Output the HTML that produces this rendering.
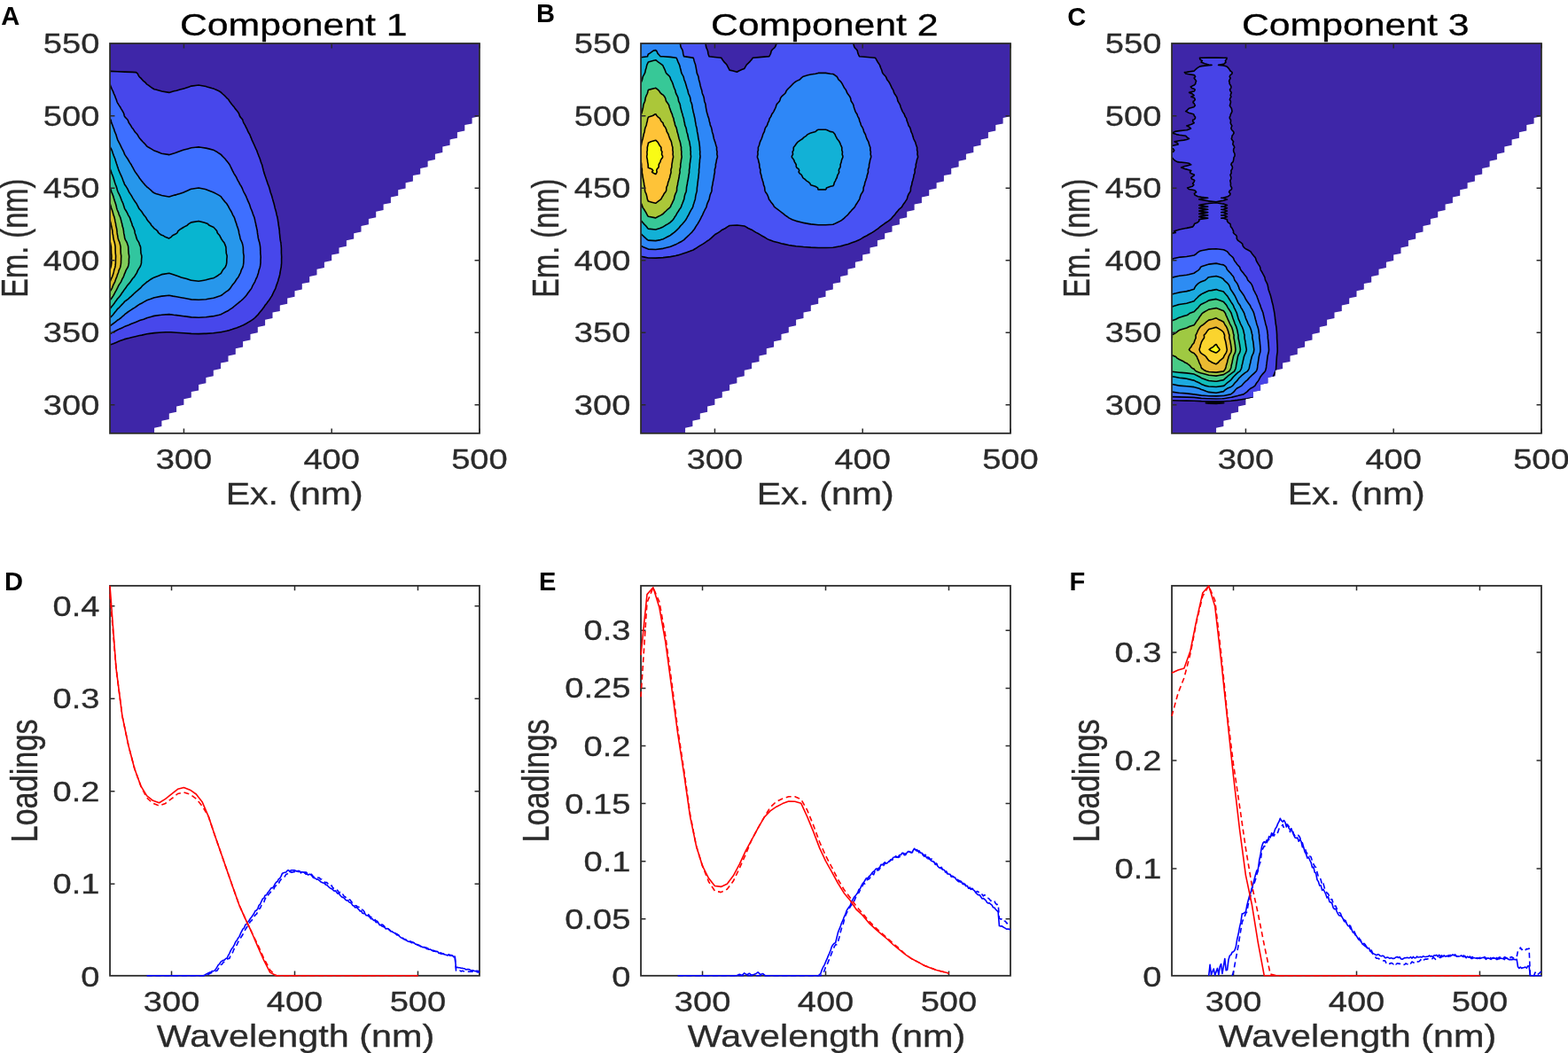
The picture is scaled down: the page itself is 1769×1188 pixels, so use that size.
<!DOCTYPE html>
<html lang="en"><head><meta charset="utf-8"><title>PARAFAC components</title>
<style>html,body{margin:0;padding:0;background:#fff;overflow:hidden}svg{display:block}text{font-family:"Liberation Sans", "DejaVu Sans", sans-serif}</style></head><body>
<svg width="1769" height="1188" viewBox="0 0 1769 1188">
<rect width="1769" height="1188" fill="#fff"/>
<clipPath id="cp0"><path d="M124.0 49.0 L540.9 49.0 L540.9 131.3 L532.6 133.0 L532.6 139.4 L524.3 141.1 L524.3 147.6 L515.9 149.3 L515.9 155.7 L507.6 157.4 L507.6 163.8 L499.3 165.5 L499.3 172.0 L490.9 173.7 L490.9 180.1 L482.6 181.8 L482.6 188.2 L474.2 189.9 L474.2 196.4 L465.9 198.1 L465.9 204.5 L457.6 206.2 L457.6 212.6 L449.2 214.3 L449.2 220.8 L440.9 222.5 L440.9 228.9 L432.6 230.6 L432.6 237.1 L424.2 238.8 L424.2 245.2 L415.9 246.9 L415.9 253.3 L407.5 255.0 L407.5 261.5 L399.2 263.2 L399.2 269.6 L390.9 271.3 L390.9 277.7 L382.5 279.4 L382.5 285.9 L374.2 287.6 L374.2 294.0 L365.9 295.7 L365.9 302.1 L357.5 303.8 L357.5 310.3 L349.2 312.0 L349.2 318.4 L340.8 320.1 L340.8 326.5 L332.5 328.2 L332.5 334.7 L324.2 336.4 L324.2 342.8 L315.8 344.5 L315.8 350.9 L307.5 352.6 L307.5 359.1 L299.1 360.8 L299.1 367.2 L290.8 368.9 L290.8 375.3 L282.5 377.0 L282.5 383.5 L274.1 385.2 L274.1 391.6 L265.8 393.3 L265.8 399.8 L257.5 401.5 L257.5 407.9 L249.1 409.6 L249.1 416.0 L240.8 417.7 L240.8 424.2 L232.4 425.9 L232.4 432.3 L224.1 434.0 L224.1 440.4 L215.8 442.1 L215.8 448.6 L207.4 450.3 L207.4 456.7 L199.1 458.4 L199.1 464.8 L190.8 466.5 L190.8 473.0 L182.4 474.7 L182.4 481.1 L174.1 482.8 L174.1 488.9 L124.0 488.9Z"/></clipPath>
<g clip-path="url(#cp0)">
<rect x="124.0" y="49.0" width="416.9" height="439.9" fill="#3E26A8"/>
<path d="M124.0 387.8L124.1 389.0L127.8 387.8L131.5 386.2L132.4 385.7L135.3 384.6L139.8 383.0L140.7 382.6L146.1 381.3L149.1 380.5L152.5 379.7L157.4 378.5L159.9 378.1L165.7 376.8L168.7 376.4L174.1 375.6L182.4 375.0L187.1 374.8L190.8 374.7L192.8 374.8L199.1 375.2L207.4 375.8L215.6 376.4L215.8 376.5L224.1 376.6L230.3 376.4L232.4 376.4L240.8 375.8L248.7 374.8L249.1 374.8L256.2 373.2L257.5 372.9L261.9 371.6L265.8 370.2L266.7 369.9L271.1 368.3L274.1 366.9L274.6 366.7L277.8 365.0L280.5 363.4L282.5 362.2L283.1 361.8L285.6 360.2L287.6 358.5L289.2 356.9L290.8 355.3L290.9 355.3L292.2 353.6L293.4 352.0L294.8 350.4L296.1 348.7L297.4 347.1L298.4 345.5L299.1 344.3L299.5 343.9L300.9 342.2L302.1 340.6L303.3 339.0L304.5 337.3L305.5 335.7L306.5 334.1L307.4 332.5L307.5 332.2L308.1 330.8L308.9 329.2L309.7 327.6L310.6 325.9L311.2 324.3L311.6 322.7L312.2 321.1L312.8 319.4L313.4 317.8L313.9 316.2L314.3 314.5L314.9 312.9L315.3 311.3L315.7 309.7L315.8 309.0L316.0 308.0L316.2 306.4L316.5 304.8L316.8 303.1L317.2 301.5L317.3 299.9L317.5 298.2L317.6 296.6L317.6 295.0L317.6 293.4L317.6 291.7L317.7 290.1L317.6 288.5L317.5 286.8L317.4 285.2L317.4 283.6L317.4 282.0L317.4 280.3L317.3 278.7L317.2 277.1L317.0 275.4L316.9 273.8L316.5 272.2L316.2 270.6L316.0 268.9L315.8 267.3L315.8 267.1L315.7 265.7L315.5 264.0L315.3 262.4L315.3 260.8L315.1 259.2L314.8 257.5L314.6 255.9L314.3 254.3L314.1 252.6L313.9 251.0L313.6 249.4L313.4 247.7L313.1 246.1L312.8 244.5L312.3 242.9L311.9 241.2L311.6 239.6L311.2 238.0L310.7 236.3L310.2 234.7L309.9 233.1L309.5 231.5L309.1 229.8L308.6 228.2L308.1 226.6L307.7 224.9L307.5 224.3L307.2 223.3L306.8 221.7L306.3 220.1L305.7 218.4L305.1 216.8L304.7 215.2L304.3 213.5L303.8 211.9L303.3 210.3L302.6 208.6L302.0 207.0L301.5 205.4L300.9 203.8L300.3 202.1L299.8 200.5L299.3 198.9L299.1 198.6L298.7 197.2L298.1 195.6L297.7 194.0L297.2 192.4L296.8 190.7L296.4 189.1L296.0 187.5L295.6 185.8L294.9 184.2L294.3 182.6L293.8 181.0L293.3 179.3L292.7 177.7L292.0 176.1L291.4 174.4L290.8 173.0L290.7 172.8L290.2 171.2L289.6 169.6L288.7 167.9L288.0 166.3L287.3 164.7L286.6 163.0L285.8 161.4L285.1 159.8L284.3 158.1L283.7 156.5L283.0 154.9L282.5 153.5L282.4 153.3L281.7 151.6L280.7 150.0L279.8 148.4L279.1 146.7L278.4 145.1L277.5 143.5L276.8 141.9L275.8 140.2L274.9 138.6L274.3 137.0L274.1 136.4L273.8 135.3L272.7 133.7L271.2 132.1L270.3 130.5L269.8 128.8L269.0 127.2L267.8 125.6L266.5 123.9L265.8 123.1L265.1 122.3L264.1 120.7L262.7 119.1L261.3 117.4L260.1 115.8L258.9 114.2L257.9 112.5L257.5 112.0L256.2 110.9L254.7 109.3L253.1 107.6L251.2 106.0L249.5 104.4L249.1 104.0L247.1 102.8L243.3 101.1L240.8 99.9L239.0 99.5L233.6 97.9L232.4 97.5L225.3 96.2L224.1 96.1L222.4 96.2L215.8 97.1L213.5 97.9L208.8 99.5L207.4 99.9L203.1 101.1L199.1 102.2L196.3 102.8L190.8 104.4L182.4 103.0L181.8 102.8L175.6 101.1L174.1 100.7L172.0 99.5L169.7 97.9L167.4 96.2L165.7 95.1L165.3 94.6L163.9 93.0L161.8 91.4L160.3 89.7L158.9 88.1L157.4 86.8L157.1 86.5L156.1 84.8L155.3 83.2L153.5 81.6L149.1 81.4L140.7 81.1L132.4 80.8L124.0 80.4L124.0 81.6L124.0 83.2L124.0 84.8L124.0 86.5L124.0 88.1L124.0 89.7L124.0 91.4L124.0 93.0L124.0 94.6L124.0 96.2L124.0 97.9L124.0 99.5L124.0 101.1L124.0 102.8L124.0 104.4L124.0 106.0L124.0 107.6L124.0 109.3L124.0 110.9L124.0 112.5L124.0 114.2L124.0 115.8L124.0 117.4L124.0 119.1L124.0 120.7L124.0 122.3L124.0 123.9L124.0 125.6L124.0 127.2L124.0 128.8L124.0 130.5L124.0 132.1L124.0 133.7L124.0 135.3L124.0 137.0L124.0 138.6L124.0 140.2L124.0 141.9L124.0 143.5L124.0 145.1L124.0 146.7L124.0 148.4L124.0 150.0L124.0 151.6L124.0 153.3L124.0 154.9L124.0 156.5L124.0 158.1L124.0 159.8L124.0 161.4L124.0 163.0L124.0 164.7L124.0 166.3L124.0 167.9L124.0 169.6L124.0 171.2L124.0 172.8L124.0 174.4L124.0 176.1L124.0 177.7L124.0 179.3L124.0 181.0L124.0 182.6L124.0 184.2L124.0 185.8L124.0 187.5L124.0 189.1L124.0 190.7L124.0 192.4L124.0 194.0L124.0 195.6L124.0 197.2L124.0 198.9L124.0 200.5L124.0 202.1L124.0 203.8L124.0 205.4L124.0 207.0L124.0 208.6L124.0 210.3L124.0 211.9L124.0 213.5L124.0 215.2L124.0 216.8L124.0 218.4L124.0 220.1L124.0 221.7L124.0 223.3L124.0 224.9L124.0 226.6L124.0 228.2L124.0 229.8L124.0 231.5L124.0 233.1L124.0 234.7L124.0 236.3L124.0 238.0L124.0 239.6L124.0 241.2L124.0 242.9L124.0 244.5L124.0 246.1L124.0 247.7L124.0 249.4L124.0 251.0L124.0 252.6L124.0 254.3L124.0 255.9L124.0 257.5L124.0 259.2L124.0 260.8L124.0 262.4L124.0 264.0L124.0 265.7L124.0 267.3L124.0 268.9L124.0 270.6L124.0 272.2L124.0 273.8L124.0 275.4L124.0 277.1L124.0 278.7L124.0 280.3L124.0 282.0L124.0 283.6L124.0 285.2L124.0 286.8L124.0 288.5L124.0 290.1L124.0 291.7L124.0 293.4L124.0 295.0L124.0 296.6L124.0 298.2L124.0 299.9L124.0 301.5L124.0 303.1L124.0 304.8L124.0 306.4L124.0 308.0L124.0 309.7L124.0 311.3L124.0 312.9L124.0 314.5L124.0 316.2L124.0 317.8L124.0 319.4L124.0 321.1L124.0 322.7L124.0 324.3L124.0 325.9L124.0 327.6L124.0 329.2L124.0 330.8L124.0 332.5L124.0 334.1L124.0 335.7L124.0 337.3L124.0 339.0L124.0 340.6L124.0 342.2L124.0 343.9L124.0 345.5L124.0 347.1L124.0 348.7L124.0 350.4L124.0 352.0L124.0 353.6L124.0 355.3L124.0 356.9L124.0 358.5L124.0 360.2L124.0 361.8L124.0 363.4L124.0 365.0L124.0 366.7L124.0 368.3L124.0 369.9L124.0 371.6L124.0 373.2L124.0 374.8L124.0 376.4L124.0 378.1L124.0 379.7L124.0 381.3L124.0 383.0L124.0 384.6L124.0 386.2Z" fill="#4747EB"/>
<path d="M124.0 376.4L124.0 376.8L124.8 376.4L127.7 374.8L130.6 373.2L132.4 372.2L133.9 371.6L137.6 369.9L140.7 368.4L140.9 368.3L145.1 366.7L148.9 365.0L149.1 365.0L153.1 363.4L157.1 361.8L157.4 361.6L162.0 360.2L165.7 358.7L166.4 358.5L172.0 356.9L174.1 356.4L182.1 355.3L182.4 355.2L190.8 354.6L195.8 355.3L199.1 355.6L207.4 356.7L208.8 356.9L215.8 357.9L224.1 358.3L232.4 357.7L239.1 356.9L240.8 356.7L247.3 355.3L249.1 354.8L251.3 353.6L254.3 352.0L257.5 350.5L257.6 350.4L260.1 348.7L262.5 347.1L264.3 345.5L265.8 344.3L266.3 343.9L268.5 342.2L270.3 340.6L272.3 339.0L274.1 337.4L274.2 337.3L275.7 335.7L277.2 334.1L278.5 332.5L279.6 330.8L280.8 329.2L282.1 327.6L282.5 327.1L283.3 325.9L284.2 324.3L284.8 322.7L285.7 321.1L286.7 319.4L287.6 317.8L288.2 316.2L288.9 314.5L289.8 312.9L290.4 311.3L290.8 309.9L290.9 309.7L291.5 308.0L291.8 306.4L292.2 304.8L292.8 303.1L293.3 301.5L293.6 299.9L293.8 298.2L294.0 296.6L294.0 295.0L294.0 293.4L294.1 291.7L294.2 290.1L294.1 288.5L293.9 286.8L293.8 285.2L293.8 283.6L293.7 282.0L293.7 280.3L293.6 278.7L293.4 277.1L293.1 275.4L292.8 273.8L292.3 272.2L291.8 270.6L291.4 268.9L291.1 267.3L291.0 265.7L290.8 264.9L290.6 264.0L290.4 262.4L290.3 260.8L290.0 259.2L289.6 257.5L289.3 255.9L288.8 254.3L288.6 252.6L288.2 251.0L287.8 249.4L287.5 247.7L287.1 246.1L286.6 244.5L285.9 242.9L285.3 241.2L284.8 239.6L284.2 238.0L283.5 236.3L282.8 234.7L282.5 233.6L282.3 233.1L281.8 231.5L281.2 229.8L280.4 228.2L279.7 226.6L279.0 224.9L278.3 223.3L277.7 221.7L276.9 220.1L276.0 218.4L275.1 216.8L274.4 215.2L274.1 214.5L273.7 213.5L273.0 211.9L272.2 210.3L271.1 208.6L270.2 207.0L269.4 205.4L268.5 203.8L267.6 202.1L266.9 200.5L266.0 198.9L265.8 198.6L264.9 197.2L263.9 195.6L263.1 194.0L262.2 192.4L261.4 190.7L260.7 189.1L259.9 187.5L259.1 185.8L257.9 184.2L257.5 183.5L256.6 182.6L255.3 181.0L254.0 179.3L252.5 177.7L250.9 176.1L249.3 174.4L249.1 174.2L246.8 172.8L244.5 171.2L241.6 169.6L240.8 169.2L235.6 167.9L232.4 167.1L226.6 166.3L224.1 165.9L220.5 166.3L215.8 166.8L211.8 167.9L207.4 169.1L205.9 169.6L201.1 171.2L199.1 172.1L197.0 172.8L191.3 174.4L190.8 174.6L189.8 174.4L182.4 173.2L181.2 172.8L177.6 171.2L174.1 170.0L173.4 169.6L170.5 167.9L167.7 166.3L165.7 165.0L165.4 164.7L164.1 163.0L162.5 161.4L160.9 159.8L159.4 158.1L158.0 156.5L157.4 155.8L156.8 154.9L155.9 153.3L154.9 151.6L153.4 150.0L151.9 148.4L150.9 146.7L149.9 145.1L149.1 144.2L148.6 143.5L147.7 141.9L146.6 140.2L145.4 138.6L144.8 137.0L144.1 135.3L142.7 133.7L141.1 132.1L140.7 131.6L140.2 130.5L139.9 128.8L139.3 127.2L138.4 125.6L137.4 123.9L136.4 122.3L135.6 120.7L134.5 119.1L133.4 117.4L132.5 115.8L132.4 115.6L131.8 114.2L131.3 112.5L130.6 110.9L130.0 109.3L129.4 107.6L128.6 106.0L128.0 104.4L127.4 102.8L126.5 101.1L125.8 99.5L125.1 97.9L124.5 96.2L124.0 95.1L124.0 96.2L124.0 97.9L124.0 99.5L124.0 101.1L124.0 102.8L124.0 104.4L124.0 106.0L124.0 107.6L124.0 109.3L124.0 110.9L124.0 112.5L124.0 114.2L124.0 115.8L124.0 117.4L124.0 119.1L124.0 120.7L124.0 122.3L124.0 123.9L124.0 125.6L124.0 127.2L124.0 128.8L124.0 130.5L124.0 132.1L124.0 133.7L124.0 135.3L124.0 137.0L124.0 138.6L124.0 140.2L124.0 141.9L124.0 143.5L124.0 145.1L124.0 146.7L124.0 148.4L124.0 150.0L124.0 151.6L124.0 153.3L124.0 154.9L124.0 156.5L124.0 158.1L124.0 159.8L124.0 161.4L124.0 163.0L124.0 164.7L124.0 166.3L124.0 167.9L124.0 169.6L124.0 171.2L124.0 172.8L124.0 174.4L124.0 176.1L124.0 177.7L124.0 179.3L124.0 181.0L124.0 182.6L124.0 184.2L124.0 185.8L124.0 187.5L124.0 189.1L124.0 190.7L124.0 192.4L124.0 194.0L124.0 195.6L124.0 197.2L124.0 198.9L124.0 200.5L124.0 202.1L124.0 203.8L124.0 205.4L124.0 207.0L124.0 208.6L124.0 210.3L124.0 211.9L124.0 213.5L124.0 215.2L124.0 216.8L124.0 218.4L124.0 220.1L124.0 221.7L124.0 223.3L124.0 224.9L124.0 226.6L124.0 228.2L124.0 229.8L124.0 231.5L124.0 233.1L124.0 234.7L124.0 236.3L124.0 238.0L124.0 239.6L124.0 241.2L124.0 242.9L124.0 244.5L124.0 246.1L124.0 247.7L124.0 249.4L124.0 251.0L124.0 252.6L124.0 254.3L124.0 255.9L124.0 257.5L124.0 259.2L124.0 260.8L124.0 262.4L124.0 264.0L124.0 265.7L124.0 267.3L124.0 268.9L124.0 270.6L124.0 272.2L124.0 273.8L124.0 275.4L124.0 277.1L124.0 278.7L124.0 280.3L124.0 282.0L124.0 283.6L124.0 285.2L124.0 286.8L124.0 288.5L124.0 290.1L124.0 291.7L124.0 293.4L124.0 295.0L124.0 296.6L124.0 298.2L124.0 299.9L124.0 301.5L124.0 303.1L124.0 304.8L124.0 306.4L124.0 308.0L124.0 309.7L124.0 311.3L124.0 312.9L124.0 314.5L124.0 316.2L124.0 317.8L124.0 319.4L124.0 321.1L124.0 322.7L124.0 324.3L124.0 325.9L124.0 327.6L124.0 329.2L124.0 330.8L124.0 332.5L124.0 334.1L124.0 335.7L124.0 337.3L124.0 339.0L124.0 340.6L124.0 342.2L124.0 343.9L124.0 345.5L124.0 347.1L124.0 348.7L124.0 350.4L124.0 352.0L124.0 353.6L124.0 355.3L124.0 356.9L124.0 358.5L124.0 360.2L124.0 361.8L124.0 363.4L124.0 365.0L124.0 366.7L124.0 368.3L124.0 369.9L124.0 371.6L124.0 373.2L124.0 374.8Z" fill="#3E6FFF"/>
<path d="M124.0 366.7L124.0 367.7L125.6 366.7L127.9 365.0L130.0 363.4L131.9 361.8L132.4 361.3L134.4 360.2L136.6 358.5L138.3 356.9L140.2 355.3L140.7 354.7L142.2 353.6L144.3 352.0L146.7 350.4L149.1 348.8L149.1 348.7L151.9 347.1L154.2 345.5L156.5 343.9L157.4 343.3L159.6 342.2L162.4 340.6L165.3 339.0L165.7 338.8L170.1 337.3L174.1 335.8L174.4 335.7L182.4 334.1L182.7 334.1L190.8 333.3L195.2 334.1L199.1 334.7L204.3 335.7L207.4 336.3L212.6 337.3L215.8 337.9L224.1 338.3L232.4 337.7L234.7 337.3L240.8 336.3L242.6 335.7L247.6 334.1L249.1 333.5L250.8 332.5L252.8 330.8L255.1 329.2L257.4 327.6L257.5 327.6L259.2 325.9L260.4 324.3L261.4 322.7L262.6 321.1L264.0 319.4L265.3 317.8L265.8 317.0L266.2 316.2L267.3 314.5L268.6 312.9L269.5 311.3L270.3 309.7L271.2 308.0L271.7 306.4L272.2 304.8L273.0 303.1L273.9 301.5L274.1 300.5L274.3 299.9L274.6 298.2L274.8 296.6L274.9 295.0L274.9 293.4L275.0 291.7L275.1 290.1L275.1 288.5L274.8 286.8L274.5 285.2L274.5 283.6L274.4 282.0L274.4 280.3L274.3 278.7L274.1 277.7L274.0 277.1L273.6 275.4L273.1 273.8L272.4 272.2L271.6 270.6L271.0 268.9L270.7 267.3L270.4 265.7L269.9 264.0L269.5 262.4L269.4 260.8L268.9 259.2L268.4 257.5L267.8 255.9L267.2 254.3L266.8 252.6L266.2 251.0L265.8 249.9L265.6 249.4L265.1 247.7L264.6 246.1L263.9 244.5L262.8 242.9L262.1 241.2L261.4 239.6L260.5 238.0L259.5 236.3L258.5 234.7L257.8 233.1L257.5 232.5L256.8 231.5L255.8 229.8L254.3 228.2L252.9 226.6L251.6 224.9L250.3 223.3L249.2 221.7L249.1 221.6L246.7 220.1L243.5 218.4L240.8 217.0L240.2 216.8L236.2 215.2L232.4 213.7L231.7 213.5L224.1 212.0L215.8 213.2L214.9 213.5L211.2 215.2L207.7 216.8L207.4 216.9L202.9 218.4L199.1 219.6L197.1 220.1L191.6 221.7L190.8 222.0L189.2 221.7L182.4 220.5L181.1 220.1L175.8 218.4L174.1 217.8L172.5 216.8L170.8 215.2L169.0 213.5L167.1 211.9L165.7 210.9L165.2 210.3L163.5 208.6L162.2 207.0L160.9 205.4L159.5 203.8L158.2 202.1L157.4 201.0L157.1 200.5L156.1 198.9L154.9 197.2L153.7 195.6L152.6 194.0L151.6 192.4L150.7 190.7L149.9 189.1L149.1 187.8L148.9 187.5L148.1 185.8L147.0 184.2L146.0 182.6L145.1 181.0L144.1 179.3L143.0 177.7L141.9 176.1L140.7 174.4L140.7 174.4L140.1 172.8L139.5 171.2L138.7 169.6L137.8 167.9L137.0 166.3L136.2 164.7L135.5 163.0L134.6 161.4L133.8 159.8L132.9 158.1L132.4 156.9L132.3 156.5L131.8 154.9L131.3 153.3L130.8 151.6L130.1 150.0L129.4 148.4L128.9 146.7L128.4 145.1L127.7 143.5L127.2 141.9L126.5 140.2L125.8 138.6L125.4 137.0L125.0 135.3L124.1 133.7L124.0 133.6L124.0 133.7L124.0 135.3L124.0 137.0L124.0 138.6L124.0 140.2L124.0 141.9L124.0 143.5L124.0 145.1L124.0 146.7L124.0 148.4L124.0 150.0L124.0 151.6L124.0 153.3L124.0 154.9L124.0 156.5L124.0 158.1L124.0 159.8L124.0 161.4L124.0 163.0L124.0 164.7L124.0 166.3L124.0 167.9L124.0 169.6L124.0 171.2L124.0 172.8L124.0 174.4L124.0 176.1L124.0 177.7L124.0 179.3L124.0 181.0L124.0 182.6L124.0 184.2L124.0 185.8L124.0 187.5L124.0 189.1L124.0 190.7L124.0 192.4L124.0 194.0L124.0 195.6L124.0 197.2L124.0 198.9L124.0 200.5L124.0 202.1L124.0 203.8L124.0 205.4L124.0 207.0L124.0 208.6L124.0 210.3L124.0 211.9L124.0 213.5L124.0 215.2L124.0 216.8L124.0 218.4L124.0 220.1L124.0 221.7L124.0 223.3L124.0 224.9L124.0 226.6L124.0 228.2L124.0 229.8L124.0 231.5L124.0 233.1L124.0 234.7L124.0 236.3L124.0 238.0L124.0 239.6L124.0 241.2L124.0 242.9L124.0 244.5L124.0 246.1L124.0 247.7L124.0 249.4L124.0 251.0L124.0 252.6L124.0 254.3L124.0 255.9L124.0 257.5L124.0 259.2L124.0 260.8L124.0 262.4L124.0 264.0L124.0 265.7L124.0 267.3L124.0 268.9L124.0 270.6L124.0 272.2L124.0 273.8L124.0 275.4L124.0 277.1L124.0 278.7L124.0 280.3L124.0 282.0L124.0 283.6L124.0 285.2L124.0 286.8L124.0 288.5L124.0 290.1L124.0 291.7L124.0 293.4L124.0 295.0L124.0 296.6L124.0 298.2L124.0 299.9L124.0 301.5L124.0 303.1L124.0 304.8L124.0 306.4L124.0 308.0L124.0 309.7L124.0 311.3L124.0 312.9L124.0 314.5L124.0 316.2L124.0 317.8L124.0 319.4L124.0 321.1L124.0 322.7L124.0 324.3L124.0 325.9L124.0 327.6L124.0 329.2L124.0 330.8L124.0 332.5L124.0 334.1L124.0 335.7L124.0 337.3L124.0 339.0L124.0 340.6L124.0 342.2L124.0 343.9L124.0 345.5L124.0 347.1L124.0 348.7L124.0 350.4L124.0 352.0L124.0 353.6L124.0 355.3L124.0 356.9L124.0 358.5L124.0 360.2L124.0 361.8L124.0 363.4L124.0 365.0Z" fill="#2797EB"/>
<path d="M124.0 358.5L124.0 358.7L124.2 358.5L125.8 356.9L127.4 355.3L128.7 353.6L129.9 352.0L131.2 350.4L132.4 348.8L132.5 348.7L134.3 347.1L135.8 345.5L137.3 343.9L138.9 342.2L140.3 340.6L140.7 340.1L142.3 339.0L144.6 337.3L146.4 335.7L148.2 334.1L149.1 333.2L150.0 332.5L151.6 330.8L153.5 329.2L155.4 327.6L157.3 325.9L157.4 325.9L159.1 324.3L160.4 322.7L162.2 321.1L164.3 319.4L165.7 318.1L166.4 317.8L168.6 316.2L171.1 314.5L174.1 312.9L174.1 312.9L178.7 311.3L182.3 309.7L182.4 309.6L190.8 308.2L195.5 309.7L199.1 310.9L200.0 311.3L204.5 312.9L207.4 313.7L210.5 314.5L215.6 316.2L215.8 316.2L224.1 317.2L230.2 316.2L232.4 315.8L237.0 314.5L240.8 313.7L242.5 312.9L245.2 311.3L247.4 309.7L249.1 308.6L249.6 308.0L250.4 306.4L251.3 304.8L252.7 303.1L254.1 301.5L254.8 299.9L255.4 298.2L255.7 296.6L255.8 295.0L255.8 293.4L255.9 291.7L256.1 290.1L256.1 288.5L255.6 286.8L255.2 285.2L255.2 283.6L255.0 282.0L255.0 280.3L254.9 278.7L254.3 277.1L253.6 275.4L252.9 273.8L251.6 272.2L250.4 270.6L249.4 268.9L249.1 268.1L248.5 267.3L247.9 265.7L246.3 264.0L245.1 262.4L244.8 260.8L243.6 259.2L242.0 257.5L240.8 256.3L240.0 255.9L236.2 254.3L234.4 252.6L232.4 251.7L230.1 251.0L224.1 249.5L215.8 250.9L215.6 251.0L212.8 252.6L211.2 254.3L208.0 255.9L207.4 256.2L205.3 257.5L202.7 259.2L200.7 260.8L200.2 262.4L199.1 263.3L198.0 264.0L194.6 265.7L193.2 267.3L190.8 268.9L190.8 268.9L190.7 268.9L186.4 267.3L183.9 265.7L182.4 265.3L180.4 264.0L178.5 262.4L177.9 260.8L176.0 259.2L174.1 257.9L173.8 257.5L172.4 255.9L170.8 254.3L170.0 252.6L168.6 251.0L167.1 249.4L165.9 247.7L165.7 247.5L165.1 246.1L164.0 244.5L162.5 242.9L161.4 241.2L160.4 239.6L159.2 238.0L157.7 236.3L157.4 236.0L156.5 234.7L155.8 233.1L154.9 231.5L154.1 229.8L152.9 228.2L151.7 226.6L150.7 224.9L149.7 223.3L149.1 222.2L148.8 221.7L147.9 220.1L146.7 218.4L145.6 216.8L144.9 215.2L144.1 213.5L143.2 211.9L142.2 210.3L140.9 208.6L140.7 208.4L140.2 207.0L139.6 205.4L138.9 203.8L138.3 202.1L137.7 200.5L137.0 198.9L136.2 197.2L135.5 195.6L134.8 194.0L134.1 192.4L133.5 190.7L133.0 189.1L132.4 187.5L132.4 187.5L131.9 185.8L131.3 184.2L130.8 182.6L130.3 181.0L129.8 179.3L129.2 177.7L128.5 176.1L127.9 174.4L127.3 172.8L126.8 171.2L126.2 169.6L125.4 167.9L124.6 166.3L124.0 165.0L124.0 166.3L124.0 167.9L124.0 169.6L124.0 171.2L124.0 172.8L124.0 174.4L124.0 176.1L124.0 177.7L124.0 179.3L124.0 181.0L124.0 182.6L124.0 184.2L124.0 185.8L124.0 187.5L124.0 189.1L124.0 190.7L124.0 192.4L124.0 194.0L124.0 195.6L124.0 197.2L124.0 198.9L124.0 200.5L124.0 202.1L124.0 203.8L124.0 205.4L124.0 207.0L124.0 208.6L124.0 210.3L124.0 211.9L124.0 213.5L124.0 215.2L124.0 216.8L124.0 218.4L124.0 220.1L124.0 221.7L124.0 223.3L124.0 224.9L124.0 226.6L124.0 228.2L124.0 229.8L124.0 231.5L124.0 233.1L124.0 234.7L124.0 236.3L124.0 238.0L124.0 239.6L124.0 241.2L124.0 242.9L124.0 244.5L124.0 246.1L124.0 247.7L124.0 249.4L124.0 251.0L124.0 252.6L124.0 254.3L124.0 255.9L124.0 257.5L124.0 259.2L124.0 260.8L124.0 262.4L124.0 264.0L124.0 265.7L124.0 267.3L124.0 268.9L124.0 270.6L124.0 272.2L124.0 273.8L124.0 275.4L124.0 277.1L124.0 278.7L124.0 280.3L124.0 282.0L124.0 283.6L124.0 285.2L124.0 286.8L124.0 288.5L124.0 290.1L124.0 291.7L124.0 293.4L124.0 295.0L124.0 296.6L124.0 298.2L124.0 299.9L124.0 301.5L124.0 303.1L124.0 304.8L124.0 306.4L124.0 308.0L124.0 309.7L124.0 311.3L124.0 312.9L124.0 314.5L124.0 316.2L124.0 317.8L124.0 319.4L124.0 321.1L124.0 322.7L124.0 324.3L124.0 325.9L124.0 327.6L124.0 329.2L124.0 330.8L124.0 332.5L124.0 334.1L124.0 335.7L124.0 337.3L124.0 339.0L124.0 340.6L124.0 342.2L124.0 343.9L124.0 345.5L124.0 347.1L124.0 348.7L124.0 350.4L124.0 352.0L124.0 353.6L124.0 355.3L124.0 356.9Z" fill="#08B5D0"/>
<path d="M124.0 347.1L124.0 348.3L125.1 347.1L126.3 345.5L127.6 343.9L128.9 342.2L130.0 340.6L131.2 339.0L132.4 337.3L132.4 337.3L133.8 335.7L135.2 334.1L136.4 332.5L137.4 330.8L138.6 329.2L139.7 327.6L140.7 326.1L141.0 325.9L142.2 324.3L143.2 322.7L144.5 321.1L146.0 319.4L147.3 317.8L148.3 316.2L149.1 315.0L149.4 314.5L151.0 312.9L152.2 311.3L153.1 309.7L154.3 308.0L154.9 306.4L155.6 304.8L156.6 303.1L157.4 301.9L157.8 301.5L158.5 299.9L159.1 298.2L159.5 296.6L159.5 295.0L159.6 293.4L159.7 291.7L159.9 290.1L159.8 288.5L159.3 286.8L158.9 285.2L158.9 283.6L158.7 282.0L158.7 280.3L158.6 278.7L158.0 277.1L157.4 275.8L157.3 275.4L156.8 273.8L155.8 272.2L154.8 270.6L154.1 268.9L153.6 267.3L153.3 265.7L152.6 264.0L152.1 262.4L152.0 260.8L151.5 259.2L150.8 257.5L150.1 255.9L149.2 254.3L149.1 253.7L148.9 252.6L148.3 251.0L147.6 249.4L147.1 247.7L146.6 246.1L145.8 244.5L144.7 242.9L144.0 241.2L143.2 239.6L142.3 238.0L141.2 236.3L140.7 235.6L140.4 234.7L139.9 233.1L139.4 231.5L138.9 229.8L138.2 228.2L137.4 226.6L136.8 224.9L136.2 223.3L135.6 221.7L134.9 220.1L134.0 218.4L133.2 216.8L132.6 215.2L132.4 214.7L132.1 213.5L131.7 211.9L131.2 210.3L130.5 208.6L129.9 207.0L129.4 205.4L128.9 203.8L128.4 202.1L127.9 200.5L127.4 198.9L126.7 197.2L126.0 195.6L125.5 194.0L124.9 192.4L124.4 190.7L124.0 189.2L124.0 190.7L124.0 192.4L124.0 194.0L124.0 195.6L124.0 197.2L124.0 198.9L124.0 200.5L124.0 202.1L124.0 203.8L124.0 205.4L124.0 207.0L124.0 208.6L124.0 210.3L124.0 211.9L124.0 213.5L124.0 215.2L124.0 216.8L124.0 218.4L124.0 220.1L124.0 221.7L124.0 223.3L124.0 224.9L124.0 226.6L124.0 228.2L124.0 229.8L124.0 231.5L124.0 233.1L124.0 234.7L124.0 236.3L124.0 238.0L124.0 239.6L124.0 241.2L124.0 242.9L124.0 244.5L124.0 246.1L124.0 247.7L124.0 249.4L124.0 251.0L124.0 252.6L124.0 254.3L124.0 255.9L124.0 257.5L124.0 259.2L124.0 260.8L124.0 262.4L124.0 264.0L124.0 265.7L124.0 267.3L124.0 268.9L124.0 270.6L124.0 272.2L124.0 273.8L124.0 275.4L124.0 277.1L124.0 278.7L124.0 280.3L124.0 282.0L124.0 283.6L124.0 285.2L124.0 286.8L124.0 288.5L124.0 290.1L124.0 291.7L124.0 293.4L124.0 295.0L124.0 296.6L124.0 298.2L124.0 299.9L124.0 301.5L124.0 303.1L124.0 304.8L124.0 306.4L124.0 308.0L124.0 309.7L124.0 311.3L124.0 312.9L124.0 314.5L124.0 316.2L124.0 317.8L124.0 319.4L124.0 321.1L124.0 322.7L124.0 324.3L124.0 325.9L124.0 327.6L124.0 329.2L124.0 330.8L124.0 332.5L124.0 334.1L124.0 335.7L124.0 337.3L124.0 339.0L124.0 340.6L124.0 342.2L124.0 343.9L124.0 345.5Z" fill="#31C69F"/>
<path d="M124.0 337.3L124.0 338.8L125.3 337.3L126.4 335.7L127.5 334.1L128.5 332.5L129.3 330.8L130.2 329.2L131.1 327.6L132.0 325.9L132.4 325.0L132.8 324.3L133.5 322.7L134.4 321.1L135.6 319.4L136.6 317.8L137.3 316.2L138.0 314.5L139.0 312.9L139.7 311.3L140.2 309.7L140.7 308.4L141.0 308.0L141.6 306.4L142.2 304.8L143.2 303.1L144.2 301.5L144.7 299.9L145.1 298.2L145.4 296.6L145.4 295.0L145.4 293.4L145.5 291.7L145.7 290.1L145.6 288.5L145.3 286.8L145.0 285.2L145.0 283.6L144.8 282.0L144.8 280.3L144.7 278.7L144.4 277.1L143.8 275.4L143.3 273.8L142.4 272.2L141.5 270.6L140.8 268.9L140.7 268.5L140.5 267.3L140.3 265.7L139.9 264.0L139.6 262.4L139.5 260.8L139.2 259.2L138.9 257.5L138.4 255.9L137.9 254.3L137.7 252.6L137.2 251.0L136.8 249.4L136.4 247.7L136.0 246.1L135.4 244.5L134.6 242.9L134.0 241.2L133.5 239.6L132.8 238.0L132.4 237.1L132.1 236.3L131.6 234.7L131.3 233.1L130.9 231.5L130.4 229.8L129.9 228.2L129.3 226.6L128.8 224.9L128.3 223.3L127.9 221.7L127.3 220.1L126.6 218.4L125.9 216.8L125.4 215.2L124.9 213.5L124.4 211.9L124.0 210.9L124.0 211.9L124.0 213.5L124.0 215.2L124.0 216.8L124.0 218.4L124.0 220.1L124.0 221.7L124.0 223.3L124.0 224.9L124.0 226.6L124.0 228.2L124.0 229.8L124.0 231.5L124.0 233.1L124.0 234.7L124.0 236.3L124.0 238.0L124.0 239.6L124.0 241.2L124.0 242.9L124.0 244.5L124.0 246.1L124.0 247.7L124.0 249.4L124.0 251.0L124.0 252.6L124.0 254.3L124.0 255.9L124.0 257.5L124.0 259.2L124.0 260.8L124.0 262.4L124.0 264.0L124.0 265.7L124.0 267.3L124.0 268.9L124.0 270.6L124.0 272.2L124.0 273.8L124.0 275.4L124.0 277.1L124.0 278.7L124.0 280.3L124.0 282.0L124.0 283.6L124.0 285.2L124.0 286.8L124.0 288.5L124.0 290.1L124.0 291.7L124.0 293.4L124.0 295.0L124.0 296.6L124.0 298.2L124.0 299.9L124.0 301.5L124.0 303.1L124.0 304.8L124.0 306.4L124.0 308.0L124.0 309.7L124.0 311.3L124.0 312.9L124.0 314.5L124.0 316.2L124.0 317.8L124.0 319.4L124.0 321.1L124.0 322.7L124.0 324.3L124.0 325.9L124.0 327.6L124.0 329.2L124.0 330.8L124.0 332.5L124.0 334.1L124.0 335.7Z" fill="#81CC59"/>
<path d="M124.0 327.6L124.0 329.0L125.0 327.6L126.0 325.9L126.8 324.3L127.3 322.7L128.0 321.1L128.9 319.4L129.7 317.8L130.2 316.2L130.8 314.5L131.5 312.9L132.1 311.3L132.4 310.1L132.6 309.7L133.3 308.0L133.8 306.4L134.2 304.8L135.0 303.1L135.7 301.5L136.0 299.9L136.3 298.2L136.5 296.6L136.5 295.0L136.6 293.4L136.6 291.7L136.7 290.1L136.7 288.5L136.4 286.8L136.2 285.2L136.2 283.6L136.1 282.0L136.1 280.3L136.1 278.7L135.8 277.1L135.4 275.4L135.0 273.8L134.4 272.2L133.7 270.6L133.2 268.9L132.9 267.3L132.7 265.7L132.4 264.6L132.3 264.0L132.1 262.4L132.0 260.8L131.8 259.2L131.5 257.5L131.1 255.9L130.7 254.3L130.6 252.6L130.2 251.0L129.8 249.4L129.6 247.7L129.2 246.1L128.8 244.5L128.2 242.9L127.7 241.2L127.3 239.6L126.8 238.0L126.2 236.3L125.6 234.7L125.2 233.1L124.7 231.5L124.2 229.8L124.0 229.5L124.0 229.8L124.0 231.5L124.0 233.1L124.0 234.7L124.0 236.3L124.0 238.0L124.0 239.6L124.0 241.2L124.0 242.9L124.0 244.5L124.0 246.1L124.0 247.7L124.0 249.4L124.0 251.0L124.0 252.6L124.0 254.3L124.0 255.9L124.0 257.5L124.0 259.2L124.0 260.8L124.0 262.4L124.0 264.0L124.0 265.7L124.0 267.3L124.0 268.9L124.0 270.6L124.0 272.2L124.0 273.8L124.0 275.4L124.0 277.1L124.0 278.7L124.0 280.3L124.0 282.0L124.0 283.6L124.0 285.2L124.0 286.8L124.0 288.5L124.0 290.1L124.0 291.7L124.0 293.4L124.0 295.0L124.0 296.6L124.0 298.2L124.0 299.9L124.0 301.5L124.0 303.1L124.0 304.8L124.0 306.4L124.0 308.0L124.0 309.7L124.0 311.3L124.0 312.9L124.0 314.5L124.0 316.2L124.0 317.8L124.0 319.4L124.0 321.1L124.0 322.7L124.0 324.3L124.0 325.9Z" fill="#DCBD29"/>
<path d="M124.0 317.8L124.0 318.1L124.2 317.8L124.8 316.2L125.5 314.5L126.3 312.9L127.0 311.3L127.5 309.7L128.0 308.0L128.4 306.4L128.7 304.8L129.3 303.1L129.8 301.5L130.1 299.9L130.3 298.2L130.4 296.6L130.4 295.0L130.5 293.4L130.5 291.7L130.6 290.1L130.6 288.5L130.4 286.8L130.2 285.2L130.2 283.6L130.1 282.0L130.1 280.3L130.1 278.7L129.9 277.1L129.6 275.4L129.3 273.8L128.8 272.2L128.3 270.6L128.0 268.9L127.7 267.3L127.6 265.7L127.2 264.0L126.9 262.4L126.9 260.8L126.6 259.2L126.2 257.5L125.9 255.9L125.4 254.3L125.2 252.6L124.8 251.0L124.4 249.4L124.1 247.7L124.0 247.5L124.0 247.7L124.0 249.4L124.0 251.0L124.0 252.6L124.0 254.3L124.0 255.9L124.0 257.5L124.0 259.2L124.0 260.8L124.0 262.4L124.0 264.0L124.0 265.7L124.0 267.3L124.0 268.9L124.0 270.6L124.0 272.2L124.0 273.8L124.0 275.4L124.0 277.1L124.0 278.7L124.0 280.3L124.0 282.0L124.0 283.6L124.0 285.2L124.0 286.8L124.0 288.5L124.0 290.1L124.0 291.7L124.0 293.4L124.0 295.0L124.0 296.6L124.0 298.2L124.0 299.9L124.0 301.5L124.0 303.1L124.0 304.8L124.0 306.4L124.0 308.0L124.0 309.7L124.0 311.3L124.0 312.9L124.0 314.5L124.0 316.2Z" fill="#FCCF30"/>
<path d="M124.0 303.1L124.0 304.1L124.4 303.1L125.0 301.5L125.4 299.9L125.6 298.2L125.8 296.6L125.8 295.0L125.8 293.4L125.8 291.7L125.9 290.1L125.9 288.5L125.7 286.8L125.5 285.2L125.5 283.6L125.4 282.0L125.4 280.3L125.4 278.7L125.1 277.1L124.8 275.4L124.5 273.8L124.0 272.5L124.0 273.8L124.0 275.4L124.0 277.1L124.0 278.7L124.0 280.3L124.0 282.0L124.0 283.6L124.0 285.2L124.0 286.8L124.0 288.5L124.0 290.1L124.0 291.7L124.0 293.4L124.0 295.0L124.0 296.6L124.0 298.2L124.0 299.9L124.0 301.5Z" fill="#F9FB15"/>
<path d="M124.1 389.0L127.8 387.8L131.5 386.2L132.4 385.7L135.3 384.6L139.8 383.0L140.7 382.6L146.1 381.3L149.1 380.5L152.5 379.7L157.4 378.5L159.9 378.1L165.7 376.8L168.7 376.4L174.1 375.6L182.4 375.0L187.1 374.8L190.8 374.7L192.8 374.8L199.1 375.2L207.4 375.8L215.6 376.4L215.8 376.5L224.1 376.6L230.3 376.4L232.4 376.4L240.8 375.8L248.7 374.8L249.1 374.8L256.2 373.2L257.5 372.9L261.9 371.6L265.8 370.2L266.7 369.9L271.1 368.3L274.1 366.9L274.6 366.7L277.8 365.0L280.5 363.4L282.5 362.2L283.1 361.8L285.6 360.2L287.6 358.5L289.2 356.9L290.8 355.3L290.9 355.3L292.2 353.6L293.4 352.0L294.8 350.4L296.1 348.7L297.4 347.1L298.4 345.5L299.1 344.3L299.5 343.9L300.9 342.2L302.1 340.6L303.3 339.0L304.5 337.3L305.5 335.7L306.5 334.1L307.4 332.5L307.5 332.2L308.1 330.8L308.9 329.2L309.7 327.6L310.6 325.9L311.2 324.3L311.6 322.7L312.2 321.1L312.8 319.4L313.4 317.8L313.9 316.2L314.3 314.5L314.9 312.9L315.3 311.3L315.7 309.7L315.8 309.0L316.0 308.0L316.2 306.4L316.5 304.8L316.8 303.1L317.2 301.5L317.3 299.9L317.5 298.2L317.6 296.6L317.6 295.0L317.6 293.4L317.6 291.7L317.7 290.1L317.6 288.5L317.5 286.8L317.4 285.2L317.4 283.6L317.4 282.0L317.4 280.3L317.3 278.7L317.2 277.1L317.0 275.4L316.9 273.8L316.5 272.2L316.2 270.6L316.0 268.9L315.8 267.3L315.8 267.1L315.7 265.7L315.5 264.0L315.3 262.4L315.3 260.8L315.1 259.2L314.8 257.5L314.6 255.9L314.3 254.3L314.1 252.6L313.9 251.0L313.6 249.4L313.4 247.7L313.1 246.1L312.8 244.5L312.3 242.9L311.9 241.2L311.6 239.6L311.2 238.0L310.7 236.3L310.2 234.7L309.9 233.1L309.5 231.5L309.1 229.8L308.6 228.2L308.1 226.6L307.7 224.9L307.5 224.3L307.2 223.3L306.8 221.7L306.3 220.1L305.7 218.4L305.1 216.8L304.7 215.2L304.3 213.5L303.8 211.9L303.3 210.3L302.6 208.6L302.0 207.0L301.5 205.4L300.9 203.8L300.3 202.1L299.8 200.5L299.3 198.9L299.1 198.6L298.7 197.2L298.1 195.6L297.7 194.0L297.2 192.4L296.8 190.7L296.4 189.1L296.0 187.5L295.6 185.8L294.9 184.2L294.3 182.6L293.8 181.0L293.3 179.3L292.7 177.7L292.0 176.1L291.4 174.4L290.8 173.0L290.7 172.8L290.2 171.2L289.6 169.6L288.7 167.9L288.0 166.3L287.3 164.7L286.6 163.0L285.8 161.4L285.1 159.8L284.3 158.1L283.7 156.5L283.0 154.9L282.5 153.5L282.4 153.3L281.7 151.6L280.7 150.0L279.8 148.4L279.1 146.7L278.4 145.1L277.5 143.5L276.8 141.9L275.8 140.2L274.9 138.6L274.3 137.0L274.1 136.4L273.8 135.3L272.7 133.7L271.2 132.1L270.3 130.5L269.8 128.8L269.0 127.2L267.8 125.6L266.5 123.9L265.8 123.1L265.1 122.3L264.1 120.7L262.7 119.1L261.3 117.4L260.1 115.8L258.9 114.2L257.9 112.5L257.5 112.0L256.2 110.9L254.7 109.3L253.1 107.6L251.2 106.0L249.5 104.4L249.1 104.0L247.1 102.8L243.3 101.1L240.8 99.9L239.0 99.5L233.6 97.9L232.4 97.5L225.3 96.2L224.1 96.1L222.4 96.2L215.8 97.1L213.5 97.9L208.8 99.5L207.4 99.9L203.1 101.1L199.1 102.2L196.3 102.8L190.8 104.4L182.4 103.0L181.8 102.8L175.6 101.1L174.1 100.7L172.0 99.5L169.7 97.9L167.4 96.2L165.7 95.1L165.3 94.6L163.9 93.0L161.8 91.4L160.3 89.7L158.9 88.1L157.4 86.8L157.1 86.5L156.1 84.8L155.3 83.2L153.5 81.6L149.1 81.4L140.7 81.1L132.4 80.8L124.0 80.4M124.0 376.8L124.8 376.4L127.7 374.8L130.6 373.2L132.4 372.2L133.9 371.6L137.6 369.9L140.7 368.4L140.9 368.3L145.1 366.7L148.9 365.0L149.1 365.0L153.1 363.4L157.1 361.8L157.4 361.6L162.0 360.2L165.7 358.7L166.4 358.5L172.0 356.9L174.1 356.4L182.1 355.3L182.4 355.2L190.8 354.6L195.8 355.3L199.1 355.6L207.4 356.7L208.8 356.9L215.8 357.9L224.1 358.3L232.4 357.7L239.1 356.9L240.8 356.7L247.3 355.3L249.1 354.8L251.3 353.6L254.3 352.0L257.5 350.5L257.6 350.4L260.1 348.7L262.5 347.1L264.3 345.5L265.8 344.3L266.3 343.9L268.5 342.2L270.3 340.6L272.3 339.0L274.1 337.4L274.2 337.3L275.7 335.7L277.2 334.1L278.5 332.5L279.6 330.8L280.8 329.2L282.1 327.6L282.5 327.1L283.3 325.9L284.2 324.3L284.8 322.7L285.7 321.1L286.7 319.4L287.6 317.8L288.2 316.2L288.9 314.5L289.8 312.9L290.4 311.3L290.8 309.9L290.9 309.7L291.5 308.0L291.8 306.4L292.2 304.8L292.8 303.1L293.3 301.5L293.6 299.9L293.8 298.2L294.0 296.6L294.0 295.0L294.0 293.4L294.1 291.7L294.2 290.1L294.1 288.5L293.9 286.8L293.8 285.2L293.8 283.6L293.7 282.0L293.7 280.3L293.6 278.7L293.4 277.1L293.1 275.4L292.8 273.8L292.3 272.2L291.8 270.6L291.4 268.9L291.1 267.3L291.0 265.7L290.8 264.9L290.6 264.0L290.4 262.4L290.3 260.8L290.0 259.2L289.6 257.5L289.3 255.9L288.8 254.3L288.6 252.6L288.2 251.0L287.8 249.4L287.5 247.7L287.1 246.1L286.6 244.5L285.9 242.9L285.3 241.2L284.8 239.6L284.2 238.0L283.5 236.3L282.8 234.7L282.5 233.6L282.3 233.1L281.8 231.5L281.2 229.8L280.4 228.2L279.7 226.6L279.0 224.9L278.3 223.3L277.7 221.7L276.9 220.1L276.0 218.4L275.1 216.8L274.4 215.2L274.1 214.5L273.7 213.5L273.0 211.9L272.2 210.3L271.1 208.6L270.2 207.0L269.4 205.4L268.5 203.8L267.6 202.1L266.9 200.5L266.0 198.9L265.8 198.6L264.9 197.2L263.9 195.6L263.1 194.0L262.2 192.4L261.4 190.7L260.7 189.1L259.9 187.5L259.1 185.8L257.9 184.2L257.5 183.5L256.6 182.6L255.3 181.0L254.0 179.3L252.5 177.7L250.9 176.1L249.3 174.4L249.1 174.2L246.8 172.8L244.5 171.2L241.6 169.6L240.8 169.2L235.6 167.9L232.4 167.1L226.6 166.3L224.1 165.9L220.5 166.3L215.8 166.8L211.8 167.9L207.4 169.1L205.9 169.6L201.1 171.2L199.1 172.1L197.0 172.8L191.3 174.4L190.8 174.6L189.8 174.4L182.4 173.2L181.2 172.8L177.6 171.2L174.1 170.0L173.4 169.6L170.5 167.9L167.7 166.3L165.7 165.0L165.4 164.7L164.1 163.0L162.5 161.4L160.9 159.8L159.4 158.1L158.0 156.5L157.4 155.8L156.8 154.9L155.9 153.3L154.9 151.6L153.4 150.0L151.9 148.4L150.9 146.7L149.9 145.1L149.1 144.2L148.6 143.5L147.7 141.9L146.6 140.2L145.4 138.6L144.8 137.0L144.1 135.3L142.7 133.7L141.1 132.1L140.7 131.6L140.2 130.5L139.9 128.8L139.3 127.2L138.4 125.6L137.4 123.9L136.4 122.3L135.6 120.7L134.5 119.1L133.4 117.4L132.5 115.8L132.4 115.6L131.8 114.2L131.3 112.5L130.6 110.9L130.0 109.3L129.4 107.6L128.6 106.0L128.0 104.4L127.4 102.8L126.5 101.1L125.8 99.5L125.1 97.9L124.5 96.2L124.0 95.1M124.0 367.7L125.6 366.7L127.9 365.0L130.0 363.4L131.9 361.8L132.4 361.3L134.4 360.2L136.6 358.5L138.3 356.9L140.2 355.3L140.7 354.7L142.2 353.6L144.3 352.0L146.7 350.4L149.1 348.8L149.1 348.7L151.9 347.1L154.2 345.5L156.5 343.9L157.4 343.3L159.6 342.2L162.4 340.6L165.3 339.0L165.7 338.8L170.1 337.3L174.1 335.8L174.4 335.7L182.4 334.1L182.7 334.1L190.8 333.3L195.2 334.1L199.1 334.7L204.3 335.7L207.4 336.3L212.6 337.3L215.8 337.9L224.1 338.3L232.4 337.7L234.7 337.3L240.8 336.3L242.6 335.7L247.6 334.1L249.1 333.5L250.8 332.5L252.8 330.8L255.1 329.2L257.4 327.6L257.5 327.6L259.2 325.9L260.4 324.3L261.4 322.7L262.6 321.1L264.0 319.4L265.3 317.8L265.8 317.0L266.2 316.2L267.3 314.5L268.6 312.9L269.5 311.3L270.3 309.7L271.2 308.0L271.7 306.4L272.2 304.8L273.0 303.1L273.9 301.5L274.1 300.5L274.3 299.9L274.6 298.2L274.8 296.6L274.9 295.0L274.9 293.4L275.0 291.7L275.1 290.1L275.1 288.5L274.8 286.8L274.5 285.2L274.5 283.6L274.4 282.0L274.4 280.3L274.3 278.7L274.1 277.7L274.0 277.1L273.6 275.4L273.1 273.8L272.4 272.2L271.6 270.6L271.0 268.9L270.7 267.3L270.4 265.7L269.9 264.0L269.5 262.4L269.4 260.8L268.9 259.2L268.4 257.5L267.8 255.9L267.2 254.3L266.8 252.6L266.2 251.0L265.8 249.9L265.6 249.4L265.1 247.7L264.6 246.1L263.9 244.5L262.8 242.9L262.1 241.2L261.4 239.6L260.5 238.0L259.5 236.3L258.5 234.7L257.8 233.1L257.5 232.5L256.8 231.5L255.8 229.8L254.3 228.2L252.9 226.6L251.6 224.9L250.3 223.3L249.2 221.7L249.1 221.6L246.7 220.1L243.5 218.4L240.8 217.0L240.2 216.8L236.2 215.2L232.4 213.7L231.7 213.5L224.1 212.0L215.8 213.2L214.9 213.5L211.2 215.2L207.7 216.8L207.4 216.9L202.9 218.4L199.1 219.6L197.1 220.1L191.6 221.7L190.8 222.0L189.2 221.7L182.4 220.5L181.1 220.1L175.8 218.4L174.1 217.8L172.5 216.8L170.8 215.2L169.0 213.5L167.1 211.9L165.7 210.9L165.2 210.3L163.5 208.6L162.2 207.0L160.9 205.4L159.5 203.8L158.2 202.1L157.4 201.0L157.1 200.5L156.1 198.9L154.9 197.2L153.7 195.6L152.6 194.0L151.6 192.4L150.7 190.7L149.9 189.1L149.1 187.8L148.9 187.5L148.1 185.8L147.0 184.2L146.0 182.6L145.1 181.0L144.1 179.3L143.0 177.7L141.9 176.1L140.7 174.4L140.7 174.4L140.1 172.8L139.5 171.2L138.7 169.6L137.8 167.9L137.0 166.3L136.2 164.7L135.5 163.0L134.6 161.4L133.8 159.8L132.9 158.1L132.4 156.9L132.3 156.5L131.8 154.9L131.3 153.3L130.8 151.6L130.1 150.0L129.4 148.4L128.9 146.7L128.4 145.1L127.7 143.5L127.2 141.9L126.5 140.2L125.8 138.6L125.4 137.0L125.0 135.3L124.1 133.7L124.0 133.6M124.0 358.7L124.2 358.5L125.8 356.9L127.4 355.3L128.7 353.6L129.9 352.0L131.2 350.4L132.4 348.8L132.5 348.7L134.3 347.1L135.8 345.5L137.3 343.9L138.9 342.2L140.3 340.6L140.7 340.1L142.3 339.0L144.6 337.3L146.4 335.7L148.2 334.1L149.1 333.2L150.0 332.5L151.6 330.8L153.5 329.2L155.4 327.6L157.3 325.9L157.4 325.9L159.1 324.3L160.4 322.7L162.2 321.1L164.3 319.4L165.7 318.1L166.4 317.8L168.6 316.2L171.1 314.5L174.1 312.9L174.1 312.9L178.7 311.3L182.3 309.7L182.4 309.6L190.8 308.2L195.5 309.7L199.1 310.9L200.0 311.3L204.5 312.9L207.4 313.7L210.5 314.5L215.6 316.2L215.8 316.2L224.1 317.2L230.2 316.2L232.4 315.8L237.0 314.5L240.8 313.7L242.5 312.9L245.2 311.3L247.4 309.7L249.1 308.6L249.6 308.0L250.4 306.4L251.3 304.8L252.7 303.1L254.1 301.5L254.8 299.9L255.4 298.2L255.7 296.6L255.8 295.0L255.8 293.4L255.9 291.7L256.1 290.1L256.1 288.5L255.6 286.8L255.2 285.2L255.2 283.6L255.0 282.0L255.0 280.3L254.9 278.7L254.3 277.1L253.6 275.4L252.9 273.8L251.6 272.2L250.4 270.6L249.4 268.9L249.1 268.1L248.5 267.3L247.9 265.7L246.3 264.0L245.1 262.4L244.8 260.8L243.6 259.2L242.0 257.5L240.8 256.3L240.0 255.9L236.2 254.3L234.4 252.6L232.4 251.7L230.1 251.0L224.1 249.5L215.8 250.9L215.6 251.0L212.8 252.6L211.2 254.3L208.0 255.9L207.4 256.2L205.3 257.5L202.7 259.2L200.7 260.8L200.2 262.4L199.1 263.3L198.0 264.0L194.6 265.7L193.2 267.3L190.8 268.9L190.8 268.9L190.7 268.9L186.4 267.3L183.9 265.7L182.4 265.3L180.4 264.0L178.5 262.4L177.9 260.8L176.0 259.2L174.1 257.9L173.8 257.5L172.4 255.9L170.8 254.3L170.0 252.6L168.6 251.0L167.1 249.4L165.9 247.7L165.7 247.5L165.1 246.1L164.0 244.5L162.5 242.9L161.4 241.2L160.4 239.6L159.2 238.0L157.7 236.3L157.4 236.0L156.5 234.7L155.8 233.1L154.9 231.5L154.1 229.8L152.9 228.2L151.7 226.6L150.7 224.9L149.7 223.3L149.1 222.2L148.8 221.7L147.9 220.1L146.7 218.4L145.6 216.8L144.9 215.2L144.1 213.5L143.2 211.9L142.2 210.3L140.9 208.6L140.7 208.4L140.2 207.0L139.6 205.4L138.9 203.8L138.3 202.1L137.7 200.5L137.0 198.9L136.2 197.2L135.5 195.6L134.8 194.0L134.1 192.4L133.5 190.7L133.0 189.1L132.4 187.5L132.4 187.5L131.9 185.8L131.3 184.2L130.8 182.6L130.3 181.0L129.8 179.3L129.2 177.7L128.5 176.1L127.9 174.4L127.3 172.8L126.8 171.2L126.2 169.6L125.4 167.9L124.6 166.3L124.0 165.0M124.0 348.3L125.1 347.1L126.3 345.5L127.6 343.9L128.9 342.2L130.0 340.6L131.2 339.0L132.4 337.3L132.4 337.3L133.8 335.7L135.2 334.1L136.4 332.5L137.4 330.8L138.6 329.2L139.7 327.6L140.7 326.1L141.0 325.9L142.2 324.3L143.2 322.7L144.5 321.1L146.0 319.4L147.3 317.8L148.3 316.2L149.1 315.0L149.4 314.5L151.0 312.9L152.2 311.3L153.1 309.7L154.3 308.0L154.9 306.4L155.6 304.8L156.6 303.1L157.4 301.9L157.8 301.5L158.5 299.9L159.1 298.2L159.5 296.6L159.5 295.0L159.6 293.4L159.7 291.7L159.9 290.1L159.8 288.5L159.3 286.8L158.9 285.2L158.9 283.6L158.7 282.0L158.7 280.3L158.6 278.7L158.0 277.1L157.4 275.8L157.3 275.4L156.8 273.8L155.8 272.2L154.8 270.6L154.1 268.9L153.6 267.3L153.3 265.7L152.6 264.0L152.1 262.4L152.0 260.8L151.5 259.2L150.8 257.5L150.1 255.9L149.2 254.3L149.1 253.7L148.9 252.6L148.3 251.0L147.6 249.4L147.1 247.7L146.6 246.1L145.8 244.5L144.7 242.9L144.0 241.2L143.2 239.6L142.3 238.0L141.2 236.3L140.7 235.6L140.4 234.7L139.9 233.1L139.4 231.5L138.9 229.8L138.2 228.2L137.4 226.6L136.8 224.9L136.2 223.3L135.6 221.7L134.9 220.1L134.0 218.4L133.2 216.8L132.6 215.2L132.4 214.7L132.1 213.5L131.7 211.9L131.2 210.3L130.5 208.6L129.9 207.0L129.4 205.4L128.9 203.8L128.4 202.1L127.9 200.5L127.4 198.9L126.7 197.2L126.0 195.6L125.5 194.0L124.9 192.4L124.4 190.7L124.0 189.2M124.0 338.8L125.3 337.3L126.4 335.7L127.5 334.1L128.5 332.5L129.3 330.8L130.2 329.2L131.1 327.6L132.0 325.9L132.4 325.0L132.8 324.3L133.5 322.7L134.4 321.1L135.6 319.4L136.6 317.8L137.3 316.2L138.0 314.5L139.0 312.9L139.7 311.3L140.2 309.7L140.7 308.4L141.0 308.0L141.6 306.4L142.2 304.8L143.2 303.1L144.2 301.5L144.7 299.9L145.1 298.2L145.4 296.6L145.4 295.0L145.4 293.4L145.5 291.7L145.7 290.1L145.6 288.5L145.3 286.8L145.0 285.2L145.0 283.6L144.8 282.0L144.8 280.3L144.7 278.7L144.4 277.1L143.8 275.4L143.3 273.8L142.4 272.2L141.5 270.6L140.8 268.9L140.7 268.5L140.5 267.3L140.3 265.7L139.9 264.0L139.6 262.4L139.5 260.8L139.2 259.2L138.9 257.5L138.4 255.9L137.9 254.3L137.7 252.6L137.2 251.0L136.8 249.4L136.4 247.7L136.0 246.1L135.4 244.5L134.6 242.9L134.0 241.2L133.5 239.6L132.8 238.0L132.4 237.1L132.1 236.3L131.6 234.7L131.3 233.1L130.9 231.5L130.4 229.8L129.9 228.2L129.3 226.6L128.8 224.9L128.3 223.3L127.9 221.7L127.3 220.1L126.6 218.4L125.9 216.8L125.4 215.2L124.9 213.5L124.4 211.9L124.0 210.9M124.0 329.0L125.0 327.6L126.0 325.9L126.8 324.3L127.3 322.7L128.0 321.1L128.9 319.4L129.7 317.8L130.2 316.2L130.8 314.5L131.5 312.9L132.1 311.3L132.4 310.1L132.6 309.7L133.3 308.0L133.8 306.4L134.2 304.8L135.0 303.1L135.7 301.5L136.0 299.9L136.3 298.2L136.5 296.6L136.5 295.0L136.6 293.4L136.6 291.7L136.7 290.1L136.7 288.5L136.4 286.8L136.2 285.2L136.2 283.6L136.1 282.0L136.1 280.3L136.1 278.7L135.8 277.1L135.4 275.4L135.0 273.8L134.4 272.2L133.7 270.6L133.2 268.9L132.9 267.3L132.7 265.7L132.4 264.6L132.3 264.0L132.1 262.4L132.0 260.8L131.8 259.2L131.5 257.5L131.1 255.9L130.7 254.3L130.6 252.6L130.2 251.0L129.8 249.4L129.6 247.7L129.2 246.1L128.8 244.5L128.2 242.9L127.7 241.2L127.3 239.6L126.8 238.0L126.2 236.3L125.6 234.7L125.2 233.1L124.7 231.5L124.2 229.8L124.0 229.5M124.0 318.1L124.2 317.8L124.8 316.2L125.5 314.5L126.3 312.9L127.0 311.3L127.5 309.7L128.0 308.0L128.4 306.4L128.7 304.8L129.3 303.1L129.8 301.5L130.1 299.9L130.3 298.2L130.4 296.6L130.4 295.0L130.5 293.4L130.5 291.7L130.6 290.1L130.6 288.5L130.4 286.8L130.2 285.2L130.2 283.6L130.1 282.0L130.1 280.3L130.1 278.7L129.9 277.1L129.6 275.4L129.3 273.8L128.8 272.2L128.3 270.6L128.0 268.9L127.7 267.3L127.6 265.7L127.2 264.0L126.9 262.4L126.9 260.8L126.6 259.2L126.2 257.5L125.9 255.9L125.4 254.3L125.2 252.6L124.8 251.0L124.4 249.4L124.1 247.7L124.0 247.5M124.0 304.1L124.4 303.1L125.0 301.5L125.4 299.9L125.6 298.2L125.8 296.6L125.8 295.0L125.8 293.4L125.8 291.7L125.9 290.1L125.9 288.5L125.7 286.8L125.5 285.2L125.5 283.6L125.4 282.0L125.4 280.3L125.4 278.7L125.1 277.1L124.8 275.4L124.5 273.8L124.0 272.5" fill="none" stroke="#000" stroke-width="1.6" stroke-linejoin="round"/>
</g>
<path d="M207.43 488.85 v-5.4 M207.43 49.00 v5.4M374.19 488.85 v-5.4 M374.19 49.00 v5.4M540.95 488.85 v-5.4 M540.95 49.00 v5.4M124.05 456.67 h5.4 M540.95 456.67 h-5.4M124.05 375.21 h5.4 M540.95 375.21 h-5.4M124.05 293.76 h5.4 M540.95 293.76 h-5.4M124.05 212.31 h5.4 M540.95 212.31 h-5.4M124.05 130.85 h5.4 M540.95 130.85 h-5.4" stroke="#2a2a2a" stroke-width="1.5" fill="none"/>
<rect x="124.05" y="49.00" width="416.90" height="439.85" fill="none" stroke="#2a2a2a" stroke-width="1.8"/>
<text transform="translate(207.43,528.70) scale(1.250,1)" font-size="30.5" text-anchor="middle" font-weight="normal" fill="#2a2a2a" stroke="#2a2a2a" stroke-width="0.3">300</text>
<text transform="translate(374.19,528.70) scale(1.250,1)" font-size="30.5" text-anchor="middle" font-weight="normal" fill="#2a2a2a" stroke="#2a2a2a" stroke-width="0.3">400</text>
<text transform="translate(540.95,528.70) scale(1.250,1)" font-size="30.5" text-anchor="middle" font-weight="normal" fill="#2a2a2a" stroke="#2a2a2a" stroke-width="0.3">500</text>
<text transform="translate(112.45,467.67) scale(1.250,1)" font-size="30.5" text-anchor="end" font-weight="normal" fill="#2a2a2a" stroke="#2a2a2a" stroke-width="0.3">300</text>
<text transform="translate(112.45,386.21) scale(1.250,1)" font-size="30.5" text-anchor="end" font-weight="normal" fill="#2a2a2a" stroke="#2a2a2a" stroke-width="0.3">350</text>
<text transform="translate(112.45,304.76) scale(1.250,1)" font-size="30.5" text-anchor="end" font-weight="normal" fill="#2a2a2a" stroke="#2a2a2a" stroke-width="0.3">400</text>
<text transform="translate(112.45,223.31) scale(1.250,1)" font-size="30.5" text-anchor="end" font-weight="normal" fill="#2a2a2a" stroke="#2a2a2a" stroke-width="0.3">450</text>
<text transform="translate(112.45,141.85) scale(1.250,1)" font-size="30.5" text-anchor="end" font-weight="normal" fill="#2a2a2a" stroke="#2a2a2a" stroke-width="0.3">500</text>
<text transform="translate(112.45,60.40) scale(1.250,1)" font-size="30.5" text-anchor="end" font-weight="normal" fill="#2a2a2a" stroke="#2a2a2a" stroke-width="0.3">550</text>
<text transform="translate(332.20,568.80) scale(1.200,1)" font-size="34.2" text-anchor="middle" font-weight="normal" fill="#2a2a2a" stroke="#2a2a2a" stroke-width="0.3">Ex. (nm)</text>
<text transform="translate(31.20,268.70) rotate(-90) scale(1,1.295)" font-size="32.6" text-anchor="middle" font-weight="normal" fill="#2a2a2a" stroke="#2a2a2a" stroke-width="0.3">Em. (nm)</text>
<text transform="translate(331.30,39.60) scale(1.222,1)" font-size="35.0" text-anchor="middle" font-weight="normal" fill="#000" stroke="#000" stroke-width="0.3">Component 1</text>
<clipPath id="cp1"><path d="M723.0 49.0 L1139.9 49.0 L1139.9 131.3 L1131.6 133.0 L1131.6 139.4 L1123.3 141.1 L1123.3 147.6 L1114.9 149.3 L1114.9 155.7 L1106.6 157.4 L1106.6 163.8 L1098.3 165.5 L1098.3 172.0 L1089.9 173.7 L1089.9 180.1 L1081.6 181.8 L1081.6 188.2 L1073.2 189.9 L1073.2 196.4 L1064.9 198.1 L1064.9 204.5 L1056.6 206.2 L1056.6 212.6 L1048.2 214.3 L1048.2 220.8 L1039.9 222.5 L1039.9 228.9 L1031.6 230.6 L1031.6 237.1 L1023.2 238.8 L1023.2 245.2 L1014.9 246.9 L1014.9 253.3 L1006.5 255.0 L1006.5 261.5 L998.2 263.2 L998.2 269.6 L989.9 271.3 L989.9 277.7 L981.5 279.4 L981.5 285.9 L973.2 287.6 L973.2 294.0 L964.9 295.7 L964.9 302.1 L956.5 303.8 L956.5 310.3 L948.2 312.0 L948.2 318.4 L939.8 320.1 L939.8 326.5 L931.5 328.2 L931.5 334.7 L923.2 336.4 L923.2 342.8 L914.8 344.5 L914.8 350.9 L906.5 352.6 L906.5 359.1 L898.1 360.8 L898.1 367.2 L889.8 368.9 L889.8 375.3 L881.5 377.0 L881.5 383.5 L873.1 385.2 L873.1 391.6 L864.8 393.3 L864.8 399.8 L856.5 401.5 L856.5 407.9 L848.1 409.6 L848.1 416.0 L839.8 417.7 L839.8 424.2 L831.4 425.9 L831.4 432.3 L823.1 434.0 L823.1 440.4 L814.8 442.1 L814.8 448.6 L806.4 450.3 L806.4 456.7 L798.1 458.4 L798.1 464.8 L789.8 466.5 L789.8 473.0 L781.4 474.7 L781.4 481.1 L773.1 482.8 L773.1 488.9 L723.0 488.9Z"/></clipPath>
<g clip-path="url(#cp1)">
<rect x="723.0" y="49.0" width="416.9" height="439.9" fill="#3E26A8"/>
<path d="M727.3 290.1L731.4 291.0L739.7 291.1L748.1 290.6L752.1 290.1L756.4 289.6L762.2 288.5L764.7 287.9L768.6 286.8L773.1 285.3L773.4 285.2L778.0 283.6L781.4 282.3L782.1 282.0L784.9 280.3L787.4 278.7L789.8 277.1L789.9 277.1L792.8 275.4L795.2 273.8L797.5 272.2L798.1 271.7L800.0 270.6L802.0 268.9L803.7 267.3L805.5 265.7L806.4 264.8L807.7 264.0L810.5 262.4L812.7 260.8L814.8 259.2L815.0 259.2L818.4 257.5L820.7 255.9L823.1 254.5L826.8 254.3L831.4 254.0L833.8 254.3L839.8 255.0L841.5 255.9L844.1 257.5L847.9 259.2L848.1 259.2L850.6 260.8L853.2 262.4L856.4 264.0L856.5 264.1L859.0 265.7L861.9 267.3L864.6 268.9L864.8 269.1L867.8 270.6L872.4 272.2L873.1 272.4L878.3 273.8L881.5 274.7L884.6 275.4L889.8 276.5L893.6 277.1L898.1 277.7L906.5 278.5L909.7 278.7L914.8 279.1L923.2 279.5L931.5 279.5L939.8 279.2L942.6 278.7L948.2 277.7L950.7 277.1L956.5 275.5L956.8 275.4L961.2 273.8L964.9 272.4L965.5 272.2L969.5 270.6L972.3 268.9L973.2 268.3L975.0 267.3L978.1 265.7L980.9 264.0L981.5 263.7L983.9 262.4L986.3 260.8L988.7 259.2L989.9 258.4L991.1 257.5L992.9 255.9L995.0 254.3L997.5 252.6L998.2 252.0L999.8 251.0L1002.3 249.4L1004.5 247.7L1006.0 246.1L1006.5 245.5L1007.3 244.5L1008.9 242.9L1010.2 241.2L1011.4 239.6L1012.8 238.0L1014.2 236.3L1014.9 235.7L1016.2 234.7L1017.7 233.1L1018.5 231.5L1019.7 229.8L1020.9 228.2L1021.9 226.6L1023.1 224.9L1023.2 224.7L1023.6 223.3L1024.0 221.7L1024.6 220.1L1025.4 218.4L1026.6 216.8L1027.3 215.2L1027.4 213.5L1027.5 211.9L1027.9 210.3L1028.6 208.6L1028.8 207.0L1029.1 205.4L1029.7 203.8L1030.1 202.1L1030.6 200.5L1030.8 198.9L1031.1 197.2L1031.6 196.1L1031.8 195.6L1032.2 194.0L1032.0 192.4L1032.2 190.7L1033.0 189.1L1033.3 187.5L1033.2 185.8L1033.6 184.2L1034.1 182.6L1034.3 181.0L1034.8 179.3L1035.5 177.7L1035.5 176.1L1035.0 174.4L1035.0 172.8L1035.2 171.2L1034.6 169.6L1034.6 167.9L1034.6 166.3L1034.0 164.7L1033.4 163.0L1033.0 161.4L1032.4 159.8L1031.6 158.4L1031.5 158.1L1030.7 156.5L1030.3 154.9L1029.7 153.3L1029.4 151.6L1028.6 150.0L1027.8 148.4L1027.5 146.7L1027.0 145.1L1026.4 143.5L1025.2 141.9L1024.6 140.2L1024.2 138.6L1023.4 137.0L1023.2 136.3L1022.9 135.3L1022.6 133.7L1021.6 132.1L1020.7 130.5L1020.2 128.8L1019.1 127.2L1018.1 125.6L1017.4 123.9L1016.7 122.3L1016.1 120.7L1015.7 119.1L1015.0 117.4L1014.9 117.3L1014.0 115.8L1013.0 114.2L1012.6 112.5L1012.2 110.9L1011.6 109.3L1010.5 107.6L1009.3 106.0L1008.5 104.4L1008.1 102.8L1007.4 101.1L1006.5 99.8L1006.3 99.5L1005.6 97.9L1004.8 96.2L1004.1 94.6L1003.2 93.0L1002.1 91.4L1000.7 89.7L1000.1 88.1L999.4 86.5L998.2 85.3L997.8 84.8L996.3 83.2L995.4 81.6L995.0 80.0L994.4 78.3L993.7 76.7L993.1 75.1L992.5 73.4L991.5 71.8L990.3 70.2L989.9 69.4L989.4 68.5L988.5 66.9L987.6 65.3L981.5 64.7L973.2 64.0L969.5 63.7L968.7 62.0L968.0 60.4L967.6 58.8L967.2 57.1L966.0 55.5L964.9 54.4L964.4 53.9L963.6 52.3L963.2 50.6L962.4 49.0L956.5 49.0L948.2 49.0L939.8 49.0L931.5 49.0L923.2 49.0L914.8 49.0L906.5 49.0L898.1 49.0L889.8 49.0L881.5 49.0L876.6 49.0L875.4 50.6L874.9 52.3L873.8 53.9L873.1 54.4L871.8 55.5L870.4 57.1L869.9 58.8L869.5 60.4L868.7 62.0L867.8 63.7L864.8 63.9L856.5 64.6L849.2 65.3L848.2 66.9L848.1 67.1L846.8 68.5L845.4 70.2L843.6 71.8L842.1 73.4L841.1 75.1L840.2 76.7L839.8 77.4L837.4 78.3L833.6 80.0L831.4 81.3L827.1 80.0L823.1 79.1L822.7 78.3L821.8 76.7L821.0 75.1L820.2 73.4L818.9 71.8L817.2 70.2L815.9 68.5L814.8 67.1L814.7 66.9L813.9 65.3L806.4 64.5L800.0 63.7L799.4 62.0L798.9 60.4L798.7 58.8L798.4 57.1L798.1 56.6L797.7 55.5L796.9 53.9L796.5 52.3L796.3 50.6L795.8 49.0L789.8 49.0L781.4 49.0L773.1 49.0L764.7 49.0L756.4 49.0L748.1 49.0L739.7 49.0L731.4 49.0L723.0 49.0L723.0 50.6L723.0 52.3L723.0 53.9L723.0 55.5L723.0 57.1L723.0 58.8L723.0 60.4L723.0 62.0L723.0 63.7L723.0 65.3L723.0 66.9L723.0 68.5L723.0 70.2L723.0 71.8L723.0 73.4L723.0 75.1L723.0 76.7L723.0 78.3L723.0 80.0L723.0 81.6L723.0 83.2L723.0 84.8L723.0 86.5L723.0 88.1L723.0 89.7L723.0 91.4L723.0 93.0L723.0 94.6L723.0 96.2L723.0 97.9L723.0 99.5L723.0 101.1L723.0 102.8L723.0 104.4L723.0 106.0L723.0 107.6L723.0 109.3L723.0 110.9L723.0 112.5L723.0 114.2L723.0 115.8L723.0 117.4L723.0 119.1L723.0 120.7L723.0 122.3L723.0 123.9L723.0 125.6L723.0 127.2L723.0 128.8L723.0 130.5L723.0 132.1L723.0 133.7L723.0 135.3L723.0 137.0L723.0 138.6L723.0 140.2L723.0 141.9L723.0 143.5L723.0 145.1L723.0 146.7L723.0 148.4L723.0 150.0L723.0 151.6L723.0 153.3L723.0 154.9L723.0 156.5L723.0 158.1L723.0 159.8L723.0 161.4L723.0 163.0L723.0 164.7L723.0 166.3L723.0 167.9L723.0 169.6L723.0 171.2L723.0 172.8L723.0 174.4L723.0 176.1L723.0 177.7L723.0 179.3L723.0 181.0L723.0 182.6L723.0 184.2L723.0 185.8L723.0 187.5L723.0 189.1L723.0 190.7L723.0 192.4L723.0 194.0L723.0 195.6L723.0 197.2L723.0 198.9L723.0 200.5L723.0 202.1L723.0 203.8L723.0 205.4L723.0 207.0L723.0 208.6L723.0 210.3L723.0 211.9L723.0 213.5L723.0 215.2L723.0 216.8L723.0 218.4L723.0 220.1L723.0 221.7L723.0 223.3L723.0 224.9L723.0 226.6L723.0 228.2L723.0 229.8L723.0 231.5L723.0 233.1L723.0 234.7L723.0 236.3L723.0 238.0L723.0 239.6L723.0 241.2L723.0 242.9L723.0 244.5L723.0 246.1L723.0 247.7L723.0 249.4L723.0 251.0L723.0 252.6L723.0 254.3L723.0 255.9L723.0 257.5L723.0 259.2L723.0 260.8L723.0 262.4L723.0 264.0L723.0 265.7L723.0 267.3L723.0 268.9L723.0 270.6L723.0 272.2L723.0 273.8L723.0 275.4L723.0 277.1L723.0 278.7L723.0 280.3L723.0 282.0L723.0 283.6L723.0 285.2L723.0 286.8L723.0 288.5L723.0 289.2Z" fill="#4852F4"/>
<path d="M729.5 280.3L731.4 281.1L739.7 281.5L748.1 280.4L748.3 280.3L754.5 278.7L756.4 278.2L759.4 277.1L763.1 275.4L764.7 274.6L766.2 273.8L769.2 272.2L771.6 270.6L773.1 269.1L773.3 268.9L775.0 267.3L776.8 265.7L778.5 264.0L780.2 262.4L781.4 260.9L781.5 260.8L782.8 259.2L784.0 257.5L784.9 255.9L785.9 254.3L787.1 252.6L788.0 251.0L789.0 249.4L789.8 247.9L789.9 247.7L790.7 246.1L791.4 244.5L792.4 242.9L793.1 241.2L793.8 239.6L794.6 238.0L795.4 236.3L796.4 234.7L797.1 233.1L797.4 231.5L797.9 229.8L798.1 229.3L798.6 228.2L799.3 226.6L800.1 224.9L800.4 223.3L800.7 221.7L801.1 220.1L801.7 218.4L802.5 216.8L803.0 215.2L803.1 213.5L803.1 211.9L803.4 210.3L803.9 208.6L804.1 207.0L804.3 205.4L804.7 203.8L805.0 202.1L805.4 200.5L805.5 198.9L805.7 197.2L806.2 195.6L806.4 194.0L806.3 192.4L806.4 190.7L806.4 190.7L807.1 189.1L807.4 187.5L807.3 185.8L807.7 184.2L808.1 182.6L808.3 181.0L808.7 179.3L809.3 177.7L809.4 176.1L808.9 174.4L808.9 172.8L809.1 171.2L808.6 169.6L808.5 167.9L808.6 166.3L808.0 164.7L807.5 163.0L807.1 161.4L806.6 159.8L806.4 159.5L806.0 158.1L805.4 156.5L805.1 154.9L804.7 153.3L804.5 151.6L803.9 150.0L803.4 148.4L803.2 146.7L802.8 145.1L802.4 143.5L801.6 141.9L801.1 140.2L800.9 138.6L800.3 137.0L800.0 135.3L799.7 133.7L799.1 132.1L798.5 130.5L798.2 128.8L798.1 128.7L797.6 127.2L797.2 125.6L796.9 123.9L796.6 122.3L796.3 120.7L796.2 119.1L795.9 117.4L795.3 115.8L794.7 114.2L794.5 112.5L794.3 110.9L793.9 109.3L793.3 107.6L792.6 106.0L792.1 104.4L791.9 102.8L791.5 101.1L790.9 99.5L790.5 97.9L790.0 96.2L789.8 95.1L789.7 94.6L789.4 93.0L788.9 91.4L788.4 89.7L788.2 88.1L787.9 86.5L787.3 84.8L786.5 83.2L786.1 81.6L785.9 80.0L785.6 78.3L785.3 76.7L785.0 75.1L784.7 73.4L784.2 71.8L783.6 70.2L783.1 68.5L782.7 66.9L782.2 65.3L781.4 65.1L773.1 63.9L771.6 63.7L771.1 62.0L770.7 60.4L770.5 58.8L770.2 57.1L769.5 55.5L768.5 53.9L767.9 52.3L767.7 50.6L767.1 49.0L764.7 49.0L756.4 49.0L748.1 49.0L739.7 49.0L731.4 49.0L723.0 49.0L723.0 50.6L723.0 52.3L723.0 53.9L723.0 55.5L723.0 57.1L723.0 58.8L723.0 60.4L723.0 62.0L723.0 63.7L723.0 65.3L723.0 66.9L723.0 68.5L723.0 70.2L723.0 71.8L723.0 73.4L723.0 75.1L723.0 76.7L723.0 78.3L723.0 80.0L723.0 81.6L723.0 83.2L723.0 84.8L723.0 86.5L723.0 88.1L723.0 89.7L723.0 91.4L723.0 93.0L723.0 94.6L723.0 96.2L723.0 97.9L723.0 99.5L723.0 101.1L723.0 102.8L723.0 104.4L723.0 106.0L723.0 107.6L723.0 109.3L723.0 110.9L723.0 112.5L723.0 114.2L723.0 115.8L723.0 117.4L723.0 119.1L723.0 120.7L723.0 122.3L723.0 123.9L723.0 125.6L723.0 127.2L723.0 128.8L723.0 130.5L723.0 132.1L723.0 133.7L723.0 135.3L723.0 137.0L723.0 138.6L723.0 140.2L723.0 141.9L723.0 143.5L723.0 145.1L723.0 146.7L723.0 148.4L723.0 150.0L723.0 151.6L723.0 153.3L723.0 154.9L723.0 156.5L723.0 158.1L723.0 159.8L723.0 161.4L723.0 163.0L723.0 164.7L723.0 166.3L723.0 167.9L723.0 169.6L723.0 171.2L723.0 172.8L723.0 174.4L723.0 176.1L723.0 177.7L723.0 179.3L723.0 181.0L723.0 182.6L723.0 184.2L723.0 185.8L723.0 187.5L723.0 189.1L723.0 190.7L723.0 192.4L723.0 194.0L723.0 195.6L723.0 197.2L723.0 198.9L723.0 200.5L723.0 202.1L723.0 203.8L723.0 205.4L723.0 207.0L723.0 208.6L723.0 210.3L723.0 211.9L723.0 213.5L723.0 215.2L723.0 216.8L723.0 218.4L723.0 220.1L723.0 221.7L723.0 223.3L723.0 224.9L723.0 226.6L723.0 228.2L723.0 229.8L723.0 231.5L723.0 233.1L723.0 234.7L723.0 236.3L723.0 238.0L723.0 239.6L723.0 241.2L723.0 242.9L723.0 244.5L723.0 246.1L723.0 247.7L723.0 249.4L723.0 251.0L723.0 252.6L723.0 254.3L723.0 255.9L723.0 257.5L723.0 259.2L723.0 260.8L723.0 262.4L723.0 264.0L723.0 265.7L723.0 267.3L723.0 268.9L723.0 270.6L723.0 272.2L723.0 273.8L723.0 275.4L723.0 277.1L723.0 277.3L725.9 278.7ZM913.0 252.6L914.8 252.9L923.2 253.7L931.5 253.7L939.8 253.2L941.3 252.6L944.7 251.0L948.0 249.4L948.2 249.3L950.6 247.7L952.4 246.1L954.0 244.5L955.9 242.9L956.5 242.3L957.4 241.2L958.7 239.6L960.2 238.0L961.6 236.3L963.4 234.7L964.6 233.1L964.9 232.5L965.3 231.5L966.5 229.8L967.5 228.2L968.5 226.6L969.6 224.9L970.1 223.3L970.5 221.7L971.1 220.1L971.9 218.4L973.1 216.8L973.2 216.5L973.9 215.2L974.1 213.5L974.1 211.9L974.6 210.3L975.4 208.6L975.6 207.0L976.0 205.4L976.7 203.8L977.1 202.1L977.8 200.5L978.1 198.9L978.4 197.2L979.1 195.6L979.5 194.0L979.3 192.4L979.5 190.7L980.3 189.1L980.5 187.5L980.5 185.8L980.9 184.2L981.3 182.6L981.5 181.0L981.5 181.0L982.0 179.3L982.6 177.7L982.7 176.1L982.2 174.4L982.2 172.8L982.4 171.2L981.8 169.6L981.8 167.9L981.8 166.3L981.5 165.5L981.2 164.7L980.6 163.0L980.2 161.4L979.7 159.8L978.8 158.1L977.9 156.5L977.4 154.9L976.8 153.3L976.3 151.6L975.4 150.0L974.5 148.4L974.2 146.7L973.6 145.1L973.2 144.3L972.9 143.5L971.7 141.9L971.1 140.2L970.7 138.6L969.9 137.0L969.5 135.3L969.1 133.7L968.2 132.1L967.4 130.5L966.9 128.8L965.8 127.2L964.9 125.6L964.9 125.4L964.4 123.9L963.8 122.3L963.3 120.7L963.0 119.1L962.4 117.4L961.4 115.8L960.3 114.2L959.9 112.5L959.6 110.9L958.9 109.3L957.7 107.6L956.5 106.1L956.5 106.0L955.5 104.4L955.0 102.8L954.1 101.1L952.8 99.5L951.9 97.9L951.0 96.2L950.2 94.6L949.2 93.0L948.2 91.8L947.8 91.4L945.9 89.7L945.2 88.1L944.2 86.5L941.9 84.8L939.8 83.5L936.7 83.2L931.5 82.4L923.2 82.4L920.1 83.2L914.8 84.0L911.4 84.8L906.5 86.2L905.8 86.5L903.9 88.1L902.4 89.7L898.9 91.4L898.1 91.8L896.4 93.0L894.6 94.6L893.1 96.2L891.5 97.9L889.8 99.5L889.8 99.5L888.2 101.1L887.0 102.8L886.4 104.4L885.1 106.0L883.2 107.6L881.5 109.3L881.5 109.4L880.5 110.9L880.1 112.5L879.4 114.2L878.0 115.8L876.5 117.4L875.7 119.1L875.3 120.7L874.6 122.3L873.8 123.9L873.1 125.4L873.0 125.6L872.0 127.2L870.8 128.8L870.2 130.5L869.3 132.1L868.2 133.7L867.8 135.3L867.3 137.0L866.3 138.6L866.0 140.2L865.2 141.9L864.8 142.4L863.9 143.5L863.2 145.1L862.7 146.7L862.4 148.4L861.5 150.0L860.7 151.6L860.3 153.3L859.7 154.9L859.2 156.5L858.4 158.1L857.6 159.8L857.1 161.4L856.7 163.0L856.5 163.7L856.1 164.7L855.4 166.3L855.4 167.9L855.4 169.6L854.8 171.2L855.0 172.8L855.0 174.4L854.5 176.1L854.5 177.7L855.2 179.3L855.7 181.0L855.9 182.6L856.5 184.2L856.5 184.2L856.8 185.8L856.8 187.5L857.0 189.1L857.7 190.7L857.9 192.4L857.7 194.0L858.1 195.6L858.7 197.2L859.1 198.9L859.3 200.5L859.9 202.1L860.3 203.8L860.9 205.4L861.3 207.0L861.5 208.6L862.3 210.3L862.7 211.9L862.8 213.5L863.0 215.2L863.7 216.8L864.8 218.2L865.0 218.4L865.9 220.1L866.6 221.7L867.1 223.3L867.6 224.9L868.9 226.6L870.0 228.2L871.3 229.8L872.6 231.5L873.1 232.5L873.4 233.1L875.2 234.7L877.6 236.3L879.7 238.0L881.5 239.4L881.8 239.6L883.8 241.2L885.8 242.9L888.3 244.5L889.8 245.7L890.6 246.1L893.7 247.7L898.1 249.3L898.4 249.4L904.8 251.0L906.5 251.4Z" fill="#2E87F7"/>
<path d="M730.5 270.6L731.4 271.1L739.7 271.6L745.2 270.6L748.1 269.8L749.8 268.9L752.8 267.3L755.9 265.7L756.4 265.4L758.2 264.0L760.4 262.4L762.2 260.8L764.0 259.2L764.7 258.4L765.7 257.5L766.9 255.9L768.3 254.3L770.0 252.6L771.3 251.0L772.6 249.4L773.1 248.8L773.9 247.7L774.8 246.1L775.6 244.5L776.6 242.9L777.5 241.2L778.2 239.6L779.1 238.0L780.0 236.3L781.1 234.7L781.4 234.0L781.8 233.1L782.1 231.5L782.7 229.8L783.2 228.2L783.7 226.6L784.3 224.9L784.5 223.3L784.7 221.7L785.0 220.1L785.4 218.4L785.9 216.8L786.3 215.2L786.3 213.5L786.4 211.9L786.6 210.3L786.9 208.6L787.0 207.0L787.2 205.4L787.4 203.8L787.6 202.1L787.9 200.5L788.0 198.9L788.2 197.2L788.4 195.6L788.6 194.0L788.5 192.4L788.6 190.7L788.9 189.1L789.0 187.5L789.0 185.8L789.2 184.2L789.4 182.6L789.4 181.0L789.6 179.3L789.8 178.5L789.9 177.7L790.0 176.1L789.8 174.9L789.7 174.4L789.7 172.8L789.8 171.7L789.8 171.2L789.8 171.0L789.6 169.6L789.5 167.9L789.5 166.3L789.3 164.7L789.1 163.0L788.9 161.4L788.7 159.8L788.3 158.1L787.9 156.5L787.7 154.9L787.5 153.3L787.3 151.6L786.9 150.0L786.5 148.4L786.4 146.7L786.2 145.1L785.8 143.5L785.3 141.9L785.0 140.2L784.8 138.6L784.4 137.0L784.2 135.3L784.0 133.7L783.5 132.1L783.2 130.5L782.9 128.8L782.4 127.2L782.0 125.6L781.7 123.9L781.4 122.6L781.3 122.3L781.0 120.7L780.9 119.1L780.5 117.4L779.9 115.8L779.2 114.2L779.0 112.5L778.8 110.9L778.4 109.3L777.7 107.6L776.9 106.0L776.4 104.4L776.1 102.8L775.7 101.1L775.0 99.5L774.6 97.9L774.1 96.2L773.6 94.6L773.1 93.0L773.1 92.9L772.5 91.4L771.8 89.7L771.5 88.1L771.1 86.5L770.2 84.8L769.2 83.2L768.6 81.6L768.3 80.0L767.9 78.3L767.4 76.7L767.1 75.1L766.6 73.4L765.9 71.8L765.1 70.2L764.7 69.2L764.5 68.5L763.8 66.9L763.1 65.3L756.4 64.4L748.1 63.8L745.2 63.7L743.6 62.0L742.1 60.4L741.4 58.8L740.6 57.1L739.7 56.6L737.2 57.1L734.8 58.8L732.7 60.4L731.4 60.9L731.0 62.0L730.5 63.7L723.0 64.7L723.0 65.3L723.0 66.9L723.0 68.5L723.0 70.2L723.0 71.8L723.0 73.4L723.0 75.1L723.0 76.7L723.0 78.3L723.0 80.0L723.0 81.6L723.0 83.2L723.0 84.8L723.0 86.5L723.0 88.1L723.0 89.7L723.0 91.4L723.0 93.0L723.0 94.6L723.0 96.2L723.0 97.9L723.0 99.5L723.0 101.1L723.0 102.8L723.0 104.4L723.0 106.0L723.0 107.6L723.0 109.3L723.0 110.9L723.0 112.5L723.0 114.2L723.0 115.8L723.0 117.4L723.0 119.1L723.0 120.7L723.0 122.3L723.0 123.9L723.0 125.6L723.0 127.2L723.0 128.8L723.0 130.5L723.0 132.1L723.0 133.7L723.0 135.3L723.0 137.0L723.0 138.6L723.0 140.2L723.0 141.9L723.0 143.5L723.0 145.1L723.0 146.7L723.0 148.4L723.0 150.0L723.0 151.6L723.0 153.3L723.0 154.9L723.0 156.5L723.0 158.1L723.0 159.8L723.0 161.4L723.0 163.0L723.0 164.7L723.0 166.3L723.0 167.9L723.0 169.6L723.0 171.2L723.0 172.8L723.0 174.4L723.0 176.1L723.0 177.7L723.0 179.3L723.0 181.0L723.0 182.6L723.0 184.2L723.0 185.8L723.0 187.5L723.0 189.1L723.0 190.7L723.0 192.4L723.0 194.0L723.0 195.6L723.0 197.2L723.0 198.9L723.0 200.5L723.0 202.1L723.0 203.8L723.0 205.4L723.0 207.0L723.0 208.6L723.0 210.3L723.0 211.9L723.0 213.5L723.0 215.2L723.0 216.8L723.0 218.4L723.0 220.1L723.0 221.7L723.0 223.3L723.0 224.9L723.0 226.6L723.0 228.2L723.0 229.8L723.0 231.5L723.0 233.1L723.0 234.7L723.0 236.3L723.0 238.0L723.0 239.6L723.0 241.2L723.0 242.9L723.0 244.5L723.0 246.1L723.0 247.7L723.0 249.4L723.0 251.0L723.0 252.6L723.0 254.3L723.0 255.9L723.0 257.5L723.0 259.2L723.0 260.8L723.0 262.4L723.0 263.6L723.5 264.0L725.1 265.7L726.9 267.3L728.6 268.9ZM922.9 213.5L923.2 213.9L931.5 213.9L932.0 213.5L932.4 211.9L937.1 210.3L939.8 209.8L940.7 208.6L941.0 207.0L941.6 205.4L942.6 203.8L943.2 202.1L944.2 200.5L944.5 198.9L945.1 197.2L946.1 195.6L946.7 194.0L946.3 192.4L946.7 190.7L947.8 189.1L948.2 187.5L948.1 185.8L948.2 185.6L948.6 184.2L949.2 182.6L949.4 181.0L950.0 179.3L950.8 177.7L950.9 176.1L950.2 174.4L950.3 172.8L950.5 171.2L949.8 169.6L949.8 167.9L949.8 166.3L949.0 164.7L948.3 163.0L948.2 162.6L947.7 161.4L946.9 159.8L945.6 158.1L944.3 156.5L943.6 154.9L942.7 153.3L942.0 151.6L940.7 150.0L939.8 149.0L936.4 148.4L933.2 146.7L931.5 146.3L923.2 146.3L922.1 146.7L920.2 148.4L914.8 149.9L914.6 150.0L911.2 151.6L909.5 153.3L907.1 154.9L906.5 155.4L905.5 156.5L903.0 158.1L900.5 159.8L899.0 161.4L898.1 162.6L897.9 163.0L896.6 164.7L895.3 166.3L895.3 167.9L895.2 169.6L894.1 171.2L894.4 172.8L894.5 174.4L893.3 176.1L893.5 177.7L894.9 179.3L895.9 181.0L896.3 182.6L897.4 184.2L898.1 185.6L898.3 185.8L898.2 187.5L898.8 189.1L901.0 190.7L901.7 192.4L901.1 194.0L902.1 195.6L904.1 197.2L905.1 198.9L905.8 200.5L906.5 201.1L908.0 202.1L909.7 203.8L912.2 205.4L913.9 207.0L914.6 208.6L914.8 208.7L919.8 210.3L922.6 211.9Z" fill="#12B1D6"/>
<path d="M730.7 257.5L731.4 258.1L739.7 259.0L744.5 257.5L748.1 255.9L748.1 255.9L750.6 254.3L753.6 252.6L756.0 251.0L756.4 250.7L757.8 249.4L759.4 247.7L760.5 246.1L761.4 244.5L762.6 242.9L763.5 241.2L764.4 239.6L764.7 239.2L765.5 238.0L766.5 236.3L767.8 234.7L768.6 233.1L769.1 231.5L769.8 229.8L770.4 228.2L771.0 226.6L771.7 224.9L772.0 223.3L772.2 221.7L772.6 220.1L773.1 218.4L773.1 218.4L773.9 216.8L774.3 215.2L774.4 213.5L774.5 211.9L774.7 210.3L775.2 208.6L775.4 207.0L775.6 205.4L776.0 203.8L776.3 202.1L776.6 200.5L776.8 198.9L777.0 197.2L777.4 195.6L777.6 194.0L777.5 192.4L777.7 190.7L778.1 189.1L778.2 187.5L778.2 185.8L778.4 184.2L778.7 182.6L778.8 181.0L779.1 179.3L779.4 177.7L779.5 176.1L779.2 174.4L779.2 172.8L779.3 171.2L779.0 169.6L779.0 167.9L779.0 166.3L778.6 164.7L778.3 163.0L778.1 161.4L777.8 159.8L777.2 158.1L776.7 156.5L776.4 154.9L776.0 153.3L775.8 151.6L775.2 150.0L774.7 148.4L774.5 146.7L774.2 145.1L773.7 143.5L773.1 142.2L772.9 141.9L772.5 140.2L772.4 138.6L771.8 137.0L771.6 135.3L771.4 133.7L770.8 132.1L770.3 130.5L770.0 128.8L769.4 127.2L768.9 125.6L768.5 123.9L768.1 122.3L767.7 120.7L767.5 119.1L767.1 117.4L766.4 115.8L765.6 114.2L765.3 112.5L765.1 110.9L764.7 109.8L764.6 109.3L763.8 107.6L762.9 106.0L762.3 104.4L762.0 102.8L761.5 101.1L760.7 99.5L760.2 97.9L759.6 96.2L759.1 94.6L758.5 93.0L757.7 91.4L756.7 89.7L756.4 88.4L756.3 88.1L755.6 86.5L754.0 84.8L752.2 83.2L751.1 81.6L750.6 80.0L749.9 78.3L749.1 76.7L748.4 75.1L748.1 74.3L747.3 73.4L745.3 71.8L742.8 70.2L740.8 68.5L739.7 67.7L736.6 68.5L731.4 70.0L731.3 70.2L730.5 71.8L729.8 73.4L729.4 75.1L729.0 76.7L728.5 78.3L728.1 80.0L727.8 81.6L727.2 83.2L726.2 84.8L725.3 86.5L724.9 88.1L724.6 89.7L723.9 91.4L723.3 93.0L723.0 93.7L723.0 94.6L723.0 96.2L723.0 97.9L723.0 99.5L723.0 101.1L723.0 102.8L723.0 104.4L723.0 106.0L723.0 107.6L723.0 109.3L723.0 110.9L723.0 112.5L723.0 114.2L723.0 115.8L723.0 117.4L723.0 119.1L723.0 120.7L723.0 122.3L723.0 123.9L723.0 125.6L723.0 127.2L723.0 128.8L723.0 130.5L723.0 132.1L723.0 133.7L723.0 135.3L723.0 137.0L723.0 138.6L723.0 140.2L723.0 141.9L723.0 143.5L723.0 145.1L723.0 146.7L723.0 148.4L723.0 150.0L723.0 151.6L723.0 153.3L723.0 154.9L723.0 156.5L723.0 158.1L723.0 159.8L723.0 161.4L723.0 163.0L723.0 164.7L723.0 166.3L723.0 167.9L723.0 169.6L723.0 171.2L723.0 172.8L723.0 174.4L723.0 176.1L723.0 177.7L723.0 179.3L723.0 181.0L723.0 182.6L723.0 184.2L723.0 185.8L723.0 187.5L723.0 189.1L723.0 190.7L723.0 192.4L723.0 194.0L723.0 195.6L723.0 197.2L723.0 198.9L723.0 200.5L723.0 202.1L723.0 203.8L723.0 205.4L723.0 207.0L723.0 208.6L723.0 210.3L723.0 211.9L723.0 213.5L723.0 215.2L723.0 216.8L723.0 218.4L723.0 220.1L723.0 221.7L723.0 223.3L723.0 224.9L723.0 226.6L723.0 228.2L723.0 229.8L723.0 231.5L723.0 233.1L723.0 234.7L723.0 236.3L723.0 238.0L723.0 239.6L723.0 241.2L723.0 242.9L723.0 244.5L723.0 246.1L723.0 247.7L723.0 248.4L723.8 249.4L725.1 251.0L726.4 252.6L728.1 254.3L729.6 255.9Z" fill="#37C897"/>
<path d="M733.0 244.5L739.7 245.9L742.1 244.5L745.5 242.9L748.1 241.3L748.1 241.2L749.6 239.6L751.4 238.0L753.1 236.3L755.2 234.7L756.4 233.3L756.6 233.1L757.1 231.5L758.0 229.8L758.8 228.2L759.5 226.6L760.4 224.9L760.7 223.3L761.0 221.7L761.5 220.1L762.1 218.4L762.9 216.8L763.5 215.2L763.6 213.5L763.6 211.9L763.9 210.3L764.5 208.6L764.6 207.0L764.7 206.2L764.9 205.4L765.3 203.8L765.6 202.1L766.0 200.5L766.2 198.9L766.4 197.2L766.9 195.6L767.1 194.0L766.9 192.4L767.1 190.7L767.6 189.1L767.8 187.5L767.7 185.8L768.0 184.2L768.3 182.6L768.4 181.0L768.7 179.3L769.1 177.7L769.1 176.1L768.8 174.4L768.8 172.8L768.9 171.2L768.6 169.6L768.5 167.9L768.6 166.3L768.2 164.7L767.8 163.0L767.6 161.4L767.2 159.8L766.6 158.1L766.1 156.5L765.7 154.9L765.3 153.3L765.0 151.6L764.7 150.8L764.5 150.0L763.9 148.4L763.7 146.7L763.3 145.1L762.8 143.5L761.9 141.9L761.4 140.2L761.2 138.6L760.6 137.0L760.2 135.3L760.0 133.7L759.3 132.1L758.7 130.5L758.3 128.8L757.5 127.2L756.8 125.6L756.4 124.2L756.3 123.9L755.7 122.3L755.1 120.7L754.8 119.1L754.0 117.4L752.8 115.8L751.6 114.2L751.1 112.5L750.7 110.9L749.9 109.3L748.5 107.6L748.1 107.1L746.3 106.0L744.7 104.4L743.8 102.8L742.2 101.1L740.0 99.5L739.7 99.2L738.8 99.5L732.5 101.1L731.4 101.5L731.0 102.8L730.7 104.4L730.1 106.0L729.3 107.6L728.6 109.3L728.1 110.9L727.9 112.5L727.6 114.2L726.9 115.8L726.2 117.4L725.8 119.1L725.6 120.7L725.3 122.3L724.9 123.9L724.5 125.6L724.0 127.2L723.4 128.8L723.1 130.5L723.0 130.7L723.0 132.1L723.0 133.7L723.0 135.3L723.0 137.0L723.0 138.6L723.0 140.2L723.0 141.9L723.0 143.5L723.0 145.1L723.0 146.7L723.0 148.4L723.0 150.0L723.0 151.6L723.0 153.3L723.0 154.9L723.0 156.5L723.0 158.1L723.0 159.8L723.0 161.4L723.0 163.0L723.0 164.7L723.0 166.3L723.0 167.9L723.0 169.6L723.0 171.2L723.0 172.8L723.0 174.4L723.0 176.1L723.0 177.7L723.0 179.3L723.0 181.0L723.0 182.6L723.0 184.2L723.0 185.8L723.0 187.5L723.0 189.1L723.0 190.7L723.0 192.4L723.0 194.0L723.0 195.6L723.0 197.2L723.0 198.9L723.0 200.5L723.0 202.1L723.0 203.8L723.0 205.4L723.0 207.0L723.0 208.6L723.0 210.3L723.0 211.9L723.0 213.5L723.0 215.2L723.0 216.8L723.0 218.4L723.0 220.1L723.0 221.7L723.0 223.3L723.0 224.9L723.0 226.6L723.0 228.2L723.0 228.2L723.6 229.8L724.3 231.5L724.7 233.1L725.5 234.7L726.7 236.3L727.7 238.0L728.7 239.6L729.5 241.2L730.4 242.9L731.4 244.2Z" fill="#ABC739"/>
<path d="M735.4 228.2L739.7 229.3L741.2 228.2L743.2 226.6L745.6 224.9L746.5 223.3L747.4 221.7L748.1 220.8L748.4 220.1L749.3 218.4L750.7 216.8L751.6 215.2L751.8 213.5L751.8 211.9L752.3 210.3L753.2 208.6L753.4 207.0L753.8 205.4L754.5 203.8L754.9 202.1L755.6 200.5L755.9 198.9L756.2 197.2L756.4 196.9L756.8 195.6L757.1 194.0L756.9 192.4L757.1 190.7L757.7 189.1L757.9 187.5L757.9 185.8L758.2 184.2L758.5 182.6L758.7 181.0L759.0 179.3L759.5 177.7L759.5 176.1L759.1 174.4L759.2 172.8L759.3 171.2L758.9 169.6L758.9 167.9L758.9 166.3L758.4 164.7L758.0 163.0L757.7 161.4L757.3 159.8L756.6 158.1L756.4 157.8L755.7 156.5L755.2 154.9L754.5 153.3L754.1 151.6L753.2 150.0L752.2 148.4L751.9 146.7L751.3 145.1L750.5 143.5L749.1 141.9L748.3 140.2L748.1 139.1L747.9 138.6L746.1 137.0L745.2 135.3L744.5 133.7L742.5 132.1L740.9 130.5L739.9 128.8L739.7 128.7L739.3 128.8L736.4 130.5L731.7 132.1L731.4 132.2L730.8 133.7L730.5 135.3L730.2 137.0L729.7 138.6L729.4 140.2L729.0 141.9L728.2 143.5L727.7 145.1L727.4 146.7L727.2 148.4L726.7 150.0L726.2 151.6L725.9 153.3L725.5 154.9L725.2 156.5L724.7 158.1L724.2 159.8L723.9 161.4L723.6 163.0L723.3 164.7L723.0 165.9L723.0 166.3L723.0 167.9L723.0 169.6L723.0 171.2L723.0 172.8L723.0 174.4L723.0 176.1L723.0 177.7L723.0 179.3L723.0 180.4L723.1 181.0L723.2 182.6L723.5 184.2L723.7 185.8L723.7 187.5L723.8 189.1L724.3 190.7L724.4 192.4L724.3 194.0L724.5 195.6L724.9 197.2L725.1 198.9L725.3 200.5L725.7 202.1L725.9 203.8L726.3 205.4L726.6 207.0L726.7 208.6L727.2 210.3L727.5 211.9L727.5 213.5L727.6 215.2L728.1 216.8L728.9 218.4L729.4 220.1L729.8 221.7L730.1 223.3L730.4 224.9L731.2 226.6L731.4 227.1Z" fill="#FEC338"/>
<path d="M737.7 195.6L739.7 196.4L740.4 195.6L741.2 194.0L740.7 192.4L741.2 190.7L742.8 189.1L743.3 187.5L743.2 185.8L744.0 184.2L745.0 182.6L745.3 181.0L746.2 179.3L747.5 177.7L747.6 176.1L746.6 174.4L746.7 172.8L747.0 171.2L745.9 169.6L745.9 167.9L745.9 166.3L744.7 164.7L743.5 163.0L742.7 161.4L741.6 159.8L739.7 158.2L734.4 159.8L731.4 161.3L731.4 161.4L731.1 163.0L730.7 164.7L730.3 166.3L730.3 167.9L730.3 169.6L729.9 171.2L730.0 172.8L730.1 174.4L729.7 176.1L729.8 177.7L730.2 179.3L730.5 181.0L730.6 182.6L730.9 184.2L731.2 185.8L731.2 187.5L731.3 189.1L731.4 189.3L735.4 190.7L736.8 192.4L735.5 194.0Z" fill="#F9FB15"/>
<path d="M723.0 289.2L727.3 290.1L731.4 291.0L739.7 291.1L748.1 290.6L752.1 290.1L756.4 289.6L762.2 288.5L764.7 287.9L768.6 286.8L773.1 285.3L773.4 285.2L778.0 283.6L781.4 282.3L782.1 282.0L784.9 280.3L787.4 278.7L789.8 277.1L789.9 277.1L792.8 275.4L795.2 273.8L797.5 272.2L798.1 271.7L800.0 270.6L802.0 268.9L803.7 267.3L805.5 265.7L806.4 264.8L807.7 264.0L810.5 262.4L812.7 260.8L814.8 259.2L815.0 259.2L818.4 257.5L820.7 255.9L823.1 254.5L826.8 254.3L831.4 254.0L833.8 254.3L839.8 255.0L841.5 255.9L844.1 257.5L847.9 259.2L848.1 259.2L850.6 260.8L853.2 262.4L856.4 264.0L856.5 264.1L859.0 265.7L861.9 267.3L864.6 268.9L864.8 269.1L867.8 270.6L872.4 272.2L873.1 272.4L878.3 273.8L881.5 274.7L884.6 275.4L889.8 276.5L893.6 277.1L898.1 277.7L906.5 278.5L909.7 278.7L914.8 279.1L923.2 279.5L931.5 279.5L939.8 279.2L942.6 278.7L948.2 277.7L950.7 277.1L956.5 275.5L956.8 275.4L961.2 273.8L964.9 272.4L965.5 272.2L969.5 270.6L972.3 268.9L973.2 268.3L975.0 267.3L978.1 265.7L980.9 264.0L981.5 263.7L983.9 262.4L986.3 260.8L988.7 259.2L989.9 258.4L991.1 257.5L992.9 255.9L995.0 254.3L997.5 252.6L998.2 252.0L999.8 251.0L1002.3 249.4L1004.5 247.7L1006.0 246.1L1006.5 245.5L1007.3 244.5L1008.9 242.9L1010.2 241.2L1011.4 239.6L1012.8 238.0L1014.2 236.3L1014.9 235.7L1016.2 234.7L1017.7 233.1L1018.5 231.5L1019.7 229.8L1020.9 228.2L1021.9 226.6L1023.1 224.9L1023.2 224.7L1023.6 223.3L1024.0 221.7L1024.6 220.1L1025.4 218.4L1026.6 216.8L1027.3 215.2L1027.4 213.5L1027.5 211.9L1027.9 210.3L1028.6 208.6L1028.8 207.0L1029.1 205.4L1029.7 203.8L1030.1 202.1L1030.6 200.5L1030.8 198.9L1031.1 197.2L1031.6 196.1L1031.8 195.6L1032.2 194.0L1032.0 192.4L1032.2 190.7L1033.0 189.1L1033.3 187.5L1033.2 185.8L1033.6 184.2L1034.1 182.6L1034.3 181.0L1034.8 179.3L1035.5 177.7L1035.5 176.1L1035.0 174.4L1035.0 172.8L1035.2 171.2L1034.6 169.6L1034.6 167.9L1034.6 166.3L1034.0 164.7L1033.4 163.0L1033.0 161.4L1032.4 159.8L1031.6 158.4L1031.5 158.1L1030.7 156.5L1030.3 154.9L1029.7 153.3L1029.4 151.6L1028.6 150.0L1027.8 148.4L1027.5 146.7L1027.0 145.1L1026.4 143.5L1025.2 141.9L1024.6 140.2L1024.2 138.6L1023.4 137.0L1023.2 136.3L1022.9 135.3L1022.6 133.7L1021.6 132.1L1020.7 130.5L1020.2 128.8L1019.1 127.2L1018.1 125.6L1017.4 123.9L1016.7 122.3L1016.1 120.7L1015.7 119.1L1015.0 117.4L1014.9 117.3L1014.0 115.8L1013.0 114.2L1012.6 112.5L1012.2 110.9L1011.6 109.3L1010.5 107.6L1009.3 106.0L1008.5 104.4L1008.1 102.8L1007.4 101.1L1006.5 99.8L1006.3 99.5L1005.6 97.9L1004.8 96.2L1004.1 94.6L1003.2 93.0L1002.1 91.4L1000.7 89.7L1000.1 88.1L999.4 86.5L998.2 85.3L997.8 84.8L996.3 83.2L995.4 81.6L995.0 80.0L994.4 78.3L993.7 76.7L993.1 75.1L992.5 73.4L991.5 71.8L990.3 70.2L989.9 69.4L989.4 68.5L988.5 66.9L987.6 65.3L981.5 64.7L973.2 64.0L969.5 63.7L968.7 62.0L968.0 60.4L967.6 58.8L967.2 57.1L966.0 55.5L964.9 54.4L964.4 53.9L963.6 52.3L963.2 50.6L962.4 49.0M876.6 49.0L875.4 50.6L874.9 52.3L873.8 53.9L873.1 54.4L871.8 55.5L870.4 57.1L869.9 58.8L869.5 60.4L868.7 62.0L867.8 63.7L864.8 63.9L856.5 64.6L849.2 65.3L848.2 66.9L848.1 67.1L846.8 68.5L845.4 70.2L843.6 71.8L842.1 73.4L841.1 75.1L840.2 76.7L839.8 77.4L837.4 78.3L833.6 80.0L831.4 81.3L827.1 80.0L823.1 79.1L822.7 78.3L821.8 76.7L821.0 75.1L820.2 73.4L818.9 71.8L817.2 70.2L815.9 68.5L814.8 67.1L814.7 66.9L813.9 65.3L806.4 64.5L800.0 63.7L799.4 62.0L798.9 60.4L798.7 58.8L798.4 57.1L798.1 56.6L797.7 55.5L796.9 53.9L796.5 52.3L796.3 50.6L795.8 49.0M723.0 277.3L725.9 278.7L729.5 280.3L731.4 281.1L739.7 281.5L748.1 280.4L748.3 280.3L754.5 278.7L756.4 278.2L759.4 277.1L763.1 275.4L764.7 274.6L766.2 273.8L769.2 272.2L771.6 270.6L773.1 269.1L773.3 268.9L775.0 267.3L776.8 265.7L778.5 264.0L780.2 262.4L781.4 260.9L781.5 260.8L782.8 259.2L784.0 257.5L784.9 255.9L785.9 254.3L787.1 252.6L788.0 251.0L789.0 249.4L789.8 247.9L789.9 247.7L790.7 246.1L791.4 244.5L792.4 242.9L793.1 241.2L793.8 239.6L794.6 238.0L795.4 236.3L796.4 234.7L797.1 233.1L797.4 231.5L797.9 229.8L798.1 229.3L798.6 228.2L799.3 226.6L800.1 224.9L800.4 223.3L800.7 221.7L801.1 220.1L801.7 218.4L802.5 216.8L803.0 215.2L803.1 213.5L803.1 211.9L803.4 210.3L803.9 208.6L804.1 207.0L804.3 205.4L804.7 203.8L805.0 202.1L805.4 200.5L805.5 198.9L805.7 197.2L806.2 195.6L806.4 194.0L806.3 192.4L806.4 190.7L806.4 190.7L807.1 189.1L807.4 187.5L807.3 185.8L807.7 184.2L808.1 182.6L808.3 181.0L808.7 179.3L809.3 177.7L809.4 176.1L808.9 174.4L808.9 172.8L809.1 171.2L808.6 169.6L808.5 167.9L808.6 166.3L808.0 164.7L807.5 163.0L807.1 161.4L806.6 159.8L806.4 159.5L806.0 158.1L805.4 156.5L805.1 154.9L804.7 153.3L804.5 151.6L803.9 150.0L803.4 148.4L803.2 146.7L802.8 145.1L802.4 143.5L801.6 141.9L801.1 140.2L800.9 138.6L800.3 137.0L800.0 135.3L799.7 133.7L799.1 132.1L798.5 130.5L798.2 128.8L798.1 128.7L797.6 127.2L797.2 125.6L796.9 123.9L796.6 122.3L796.3 120.7L796.2 119.1L795.9 117.4L795.3 115.8L794.7 114.2L794.5 112.5L794.3 110.9L793.9 109.3L793.3 107.6L792.6 106.0L792.1 104.4L791.9 102.8L791.5 101.1L790.9 99.5L790.5 97.9L790.0 96.2L789.8 95.1L789.7 94.6L789.4 93.0L788.9 91.4L788.4 89.7L788.2 88.1L787.9 86.5L787.3 84.8L786.5 83.2L786.1 81.6L785.9 80.0L785.6 78.3L785.3 76.7L785.0 75.1L784.7 73.4L784.2 71.8L783.6 70.2L783.1 68.5L782.7 66.9L782.2 65.3L781.4 65.1L773.1 63.9L771.6 63.7L771.1 62.0L770.7 60.4L770.5 58.8L770.2 57.1L769.5 55.5L768.5 53.9L767.9 52.3L767.7 50.6L767.1 49.0M913.0 252.6L914.8 252.9L923.2 253.7L931.5 253.7L939.8 253.2L941.3 252.6L944.7 251.0L948.0 249.4L948.2 249.3L950.6 247.7L952.4 246.1L954.0 244.5L955.9 242.9L956.5 242.3L957.4 241.2L958.7 239.6L960.2 238.0L961.6 236.3L963.4 234.7L964.6 233.1L964.9 232.5L965.3 231.5L966.5 229.8L967.5 228.2L968.5 226.6L969.6 224.9L970.1 223.3L970.5 221.7L971.1 220.1L971.9 218.4L973.1 216.8L973.2 216.5L973.9 215.2L974.1 213.5L974.1 211.9L974.6 210.3L975.4 208.6L975.6 207.0L976.0 205.4L976.7 203.8L977.1 202.1L977.8 200.5L978.1 198.9L978.4 197.2L979.1 195.6L979.5 194.0L979.3 192.4L979.5 190.7L980.3 189.1L980.5 187.5L980.5 185.8L980.9 184.2L981.3 182.6L981.5 181.0L981.5 181.0L982.0 179.3L982.6 177.7L982.7 176.1L982.2 174.4L982.2 172.8L982.4 171.2L981.8 169.6L981.8 167.9L981.8 166.3L981.5 165.5L981.2 164.7L980.6 163.0L980.2 161.4L979.7 159.8L978.8 158.1L977.9 156.5L977.4 154.9L976.8 153.3L976.3 151.6L975.4 150.0L974.5 148.4L974.2 146.7L973.6 145.1L973.2 144.3L972.9 143.5L971.7 141.9L971.1 140.2L970.7 138.6L969.9 137.0L969.5 135.3L969.1 133.7L968.2 132.1L967.4 130.5L966.9 128.8L965.8 127.2L964.9 125.6L964.9 125.4L964.4 123.9L963.8 122.3L963.3 120.7L963.0 119.1L962.4 117.4L961.4 115.8L960.3 114.2L959.9 112.5L959.6 110.9L958.9 109.3L957.7 107.6L956.5 106.1L956.5 106.0L955.5 104.4L955.0 102.8L954.1 101.1L952.8 99.5L951.9 97.9L951.0 96.2L950.2 94.6L949.2 93.0L948.2 91.8L947.8 91.4L945.9 89.7L945.2 88.1L944.2 86.5L941.9 84.8L939.8 83.5L936.7 83.2L931.5 82.4L923.2 82.4L920.1 83.2L914.8 84.0L911.4 84.8L906.5 86.2L905.8 86.5L903.9 88.1L902.4 89.7L898.9 91.4L898.1 91.8L896.4 93.0L894.6 94.6L893.1 96.2L891.5 97.9L889.8 99.5L889.8 99.5L888.2 101.1L887.0 102.8L886.4 104.4L885.1 106.0L883.2 107.6L881.5 109.3L881.5 109.4L880.5 110.9L880.1 112.5L879.4 114.2L878.0 115.8L876.5 117.4L875.7 119.1L875.3 120.7L874.6 122.3L873.8 123.9L873.1 125.4L873.0 125.6L872.0 127.2L870.8 128.8L870.2 130.5L869.3 132.1L868.2 133.7L867.8 135.3L867.3 137.0L866.3 138.6L866.0 140.2L865.2 141.9L864.8 142.4L863.9 143.5L863.2 145.1L862.7 146.7L862.4 148.4L861.5 150.0L860.7 151.6L860.3 153.3L859.7 154.9L859.2 156.5L858.4 158.1L857.6 159.8L857.1 161.4L856.7 163.0L856.5 163.7L856.1 164.7L855.4 166.3L855.4 167.9L855.4 169.6L854.8 171.2L855.0 172.8L855.0 174.4L854.5 176.1L854.5 177.7L855.2 179.3L855.7 181.0L855.9 182.6L856.5 184.2L856.5 184.2L856.8 185.8L856.8 187.5L857.0 189.1L857.7 190.7L857.9 192.4L857.7 194.0L858.1 195.6L858.7 197.2L859.1 198.9L859.3 200.5L859.9 202.1L860.3 203.8L860.9 205.4L861.3 207.0L861.5 208.6L862.3 210.3L862.7 211.9L862.8 213.5L863.0 215.2L863.7 216.8L864.8 218.2L865.0 218.4L865.9 220.1L866.6 221.7L867.1 223.3L867.6 224.9L868.9 226.6L870.0 228.2L871.3 229.8L872.6 231.5L873.1 232.5L873.4 233.1L875.2 234.7L877.6 236.3L879.7 238.0L881.5 239.4L881.8 239.6L883.8 241.2L885.8 242.9L888.3 244.5L889.8 245.7L890.6 246.1L893.7 247.7L898.1 249.3L898.4 249.4L904.8 251.0L906.5 251.4ZM723.0 263.6L723.5 264.0L725.1 265.7L726.9 267.3L728.6 268.9L730.5 270.6L731.4 271.1L739.7 271.6L745.2 270.6L748.1 269.8L749.8 268.9L752.8 267.3L755.9 265.7L756.4 265.4L758.2 264.0L760.4 262.4L762.2 260.8L764.0 259.2L764.7 258.4L765.7 257.5L766.9 255.9L768.3 254.3L770.0 252.6L771.3 251.0L772.6 249.4L773.1 248.8L773.9 247.7L774.8 246.1L775.6 244.5L776.6 242.9L777.5 241.2L778.2 239.6L779.1 238.0L780.0 236.3L781.1 234.7L781.4 234.0L781.8 233.1L782.1 231.5L782.7 229.8L783.2 228.2L783.7 226.6L784.3 224.9L784.5 223.3L784.7 221.7L785.0 220.1L785.4 218.4L785.9 216.8L786.3 215.2L786.3 213.5L786.4 211.9L786.6 210.3L786.9 208.6L787.0 207.0L787.2 205.4L787.4 203.8L787.6 202.1L787.9 200.5L788.0 198.9L788.2 197.2L788.4 195.6L788.6 194.0L788.5 192.4L788.6 190.7L788.9 189.1L789.0 187.5L789.0 185.8L789.2 184.2L789.4 182.6L789.4 181.0L789.6 179.3L789.8 178.5L789.9 177.7L790.0 176.1L789.8 174.9L789.7 174.4L789.7 172.8L789.8 171.7L789.8 171.2L789.8 171.0L789.6 169.6L789.5 167.9L789.5 166.3L789.3 164.7L789.1 163.0L788.9 161.4L788.7 159.8L788.3 158.1L787.9 156.5L787.7 154.9L787.5 153.3L787.3 151.6L786.9 150.0L786.5 148.4L786.4 146.7L786.2 145.1L785.8 143.5L785.3 141.9L785.0 140.2L784.8 138.6L784.4 137.0L784.2 135.3L784.0 133.7L783.5 132.1L783.2 130.5L782.9 128.8L782.4 127.2L782.0 125.6L781.7 123.9L781.4 122.6L781.3 122.3L781.0 120.7L780.9 119.1L780.5 117.4L779.9 115.8L779.2 114.2L779.0 112.5L778.8 110.9L778.4 109.3L777.7 107.6L776.9 106.0L776.4 104.4L776.1 102.8L775.7 101.1L775.0 99.5L774.6 97.9L774.1 96.2L773.6 94.6L773.1 93.0L773.1 92.9L772.5 91.4L771.8 89.7L771.5 88.1L771.1 86.5L770.2 84.8L769.2 83.2L768.6 81.6L768.3 80.0L767.9 78.3L767.4 76.7L767.1 75.1L766.6 73.4L765.9 71.8L765.1 70.2L764.7 69.2L764.5 68.5L763.8 66.9L763.1 65.3L756.4 64.4L748.1 63.8L745.2 63.7L743.6 62.0L742.1 60.4L741.4 58.8L740.6 57.1L739.7 56.6L737.2 57.1L734.8 58.8L732.7 60.4L731.4 60.9L731.0 62.0L730.5 63.7L723.0 64.7M922.9 213.5L923.2 213.9L931.5 213.9L932.0 213.5L932.4 211.9L937.1 210.3L939.8 209.8L940.7 208.6L941.0 207.0L941.6 205.4L942.6 203.8L943.2 202.1L944.2 200.5L944.5 198.9L945.1 197.2L946.1 195.6L946.7 194.0L946.3 192.4L946.7 190.7L947.8 189.1L948.2 187.5L948.1 185.8L948.2 185.6L948.6 184.2L949.2 182.6L949.4 181.0L950.0 179.3L950.8 177.7L950.9 176.1L950.2 174.4L950.3 172.8L950.5 171.2L949.8 169.6L949.8 167.9L949.8 166.3L949.0 164.7L948.3 163.0L948.2 162.6L947.7 161.4L946.9 159.8L945.6 158.1L944.3 156.5L943.6 154.9L942.7 153.3L942.0 151.6L940.7 150.0L939.8 149.0L936.4 148.4L933.2 146.7L931.5 146.3L923.2 146.3L922.1 146.7L920.2 148.4L914.8 149.9L914.6 150.0L911.2 151.6L909.5 153.3L907.1 154.9L906.5 155.4L905.5 156.5L903.0 158.1L900.5 159.8L899.0 161.4L898.1 162.6L897.9 163.0L896.6 164.7L895.3 166.3L895.3 167.9L895.2 169.6L894.1 171.2L894.4 172.8L894.5 174.4L893.3 176.1L893.5 177.7L894.9 179.3L895.9 181.0L896.3 182.6L897.4 184.2L898.1 185.6L898.3 185.8L898.2 187.5L898.8 189.1L901.0 190.7L901.7 192.4L901.1 194.0L902.1 195.6L904.1 197.2L905.1 198.9L905.8 200.5L906.5 201.1L908.0 202.1L909.7 203.8L912.2 205.4L913.9 207.0L914.6 208.6L914.8 208.7L919.8 210.3L922.6 211.9ZM723.0 248.4L723.8 249.4L725.1 251.0L726.4 252.6L728.1 254.3L729.6 255.9L730.7 257.5L731.4 258.1L739.7 259.0L744.5 257.5L748.1 255.9L748.1 255.9L750.6 254.3L753.6 252.6L756.0 251.0L756.4 250.7L757.8 249.4L759.4 247.7L760.5 246.1L761.4 244.5L762.6 242.9L763.5 241.2L764.4 239.6L764.7 239.2L765.5 238.0L766.5 236.3L767.8 234.7L768.6 233.1L769.1 231.5L769.8 229.8L770.4 228.2L771.0 226.6L771.7 224.9L772.0 223.3L772.2 221.7L772.6 220.1L773.1 218.4L773.1 218.4L773.9 216.8L774.3 215.2L774.4 213.5L774.5 211.9L774.7 210.3L775.2 208.6L775.4 207.0L775.6 205.4L776.0 203.8L776.3 202.1L776.6 200.5L776.8 198.9L777.0 197.2L777.4 195.6L777.6 194.0L777.5 192.4L777.7 190.7L778.1 189.1L778.2 187.5L778.2 185.8L778.4 184.2L778.7 182.6L778.8 181.0L779.1 179.3L779.4 177.7L779.5 176.1L779.2 174.4L779.2 172.8L779.3 171.2L779.0 169.6L779.0 167.9L779.0 166.3L778.6 164.7L778.3 163.0L778.1 161.4L777.8 159.8L777.2 158.1L776.7 156.5L776.4 154.9L776.0 153.3L775.8 151.6L775.2 150.0L774.7 148.4L774.5 146.7L774.2 145.1L773.7 143.5L773.1 142.2L772.9 141.9L772.5 140.2L772.4 138.6L771.8 137.0L771.6 135.3L771.4 133.7L770.8 132.1L770.3 130.5L770.0 128.8L769.4 127.2L768.9 125.6L768.5 123.9L768.1 122.3L767.7 120.7L767.5 119.1L767.1 117.4L766.4 115.8L765.6 114.2L765.3 112.5L765.1 110.9L764.7 109.8L764.6 109.3L763.8 107.6L762.9 106.0L762.3 104.4L762.0 102.8L761.5 101.1L760.7 99.5L760.2 97.9L759.6 96.2L759.1 94.6L758.5 93.0L757.7 91.4L756.7 89.7L756.4 88.4L756.3 88.1L755.6 86.5L754.0 84.8L752.2 83.2L751.1 81.6L750.6 80.0L749.9 78.3L749.1 76.7L748.4 75.1L748.1 74.3L747.3 73.4L745.3 71.8L742.8 70.2L740.8 68.5L739.7 67.7L736.6 68.5L731.4 70.0L731.3 70.2L730.5 71.8L729.8 73.4L729.4 75.1L729.0 76.7L728.5 78.3L728.1 80.0L727.8 81.6L727.2 83.2L726.2 84.8L725.3 86.5L724.9 88.1L724.6 89.7L723.9 91.4L723.3 93.0L723.0 93.7M723.0 228.2L723.6 229.8L724.3 231.5L724.7 233.1L725.5 234.7L726.7 236.3L727.7 238.0L728.7 239.6L729.5 241.2L730.4 242.9L731.4 244.2L733.0 244.5L739.7 245.9L742.1 244.5L745.5 242.9L748.1 241.3L748.1 241.2L749.6 239.6L751.4 238.0L753.1 236.3L755.2 234.7L756.4 233.3L756.6 233.1L757.1 231.5L758.0 229.8L758.8 228.2L759.5 226.6L760.4 224.9L760.7 223.3L761.0 221.7L761.5 220.1L762.1 218.4L762.9 216.8L763.5 215.2L763.6 213.5L763.6 211.9L763.9 210.3L764.5 208.6L764.6 207.0L764.7 206.2L764.9 205.4L765.3 203.8L765.6 202.1L766.0 200.5L766.2 198.9L766.4 197.2L766.9 195.6L767.1 194.0L766.9 192.4L767.1 190.7L767.6 189.1L767.8 187.5L767.7 185.8L768.0 184.2L768.3 182.6L768.4 181.0L768.7 179.3L769.1 177.7L769.1 176.1L768.8 174.4L768.8 172.8L768.9 171.2L768.6 169.6L768.5 167.9L768.6 166.3L768.2 164.7L767.8 163.0L767.6 161.4L767.2 159.8L766.6 158.1L766.1 156.5L765.7 154.9L765.3 153.3L765.0 151.6L764.7 150.8L764.5 150.0L763.9 148.4L763.7 146.7L763.3 145.1L762.8 143.5L761.9 141.9L761.4 140.2L761.2 138.6L760.6 137.0L760.2 135.3L760.0 133.7L759.3 132.1L758.7 130.5L758.3 128.8L757.5 127.2L756.8 125.6L756.4 124.2L756.3 123.9L755.7 122.3L755.1 120.7L754.8 119.1L754.0 117.4L752.8 115.8L751.6 114.2L751.1 112.5L750.7 110.9L749.9 109.3L748.5 107.6L748.1 107.1L746.3 106.0L744.7 104.4L743.8 102.8L742.2 101.1L740.0 99.5L739.7 99.2L738.8 99.5L732.5 101.1L731.4 101.5L731.0 102.8L730.7 104.4L730.1 106.0L729.3 107.6L728.6 109.3L728.1 110.9L727.9 112.5L727.6 114.2L726.9 115.8L726.2 117.4L725.8 119.1L725.6 120.7L725.3 122.3L724.9 123.9L724.5 125.6L724.0 127.2L723.4 128.8L723.1 130.5L723.0 130.7M723.0 180.4L723.1 181.0L723.2 182.6L723.5 184.2L723.7 185.8L723.7 187.5L723.8 189.1L724.3 190.7L724.4 192.4L724.3 194.0L724.5 195.6L724.9 197.2L725.1 198.9L725.3 200.5L725.7 202.1L725.9 203.8L726.3 205.4L726.6 207.0L726.7 208.6L727.2 210.3L727.5 211.9L727.5 213.5L727.6 215.2L728.1 216.8L728.9 218.4L729.4 220.1L729.8 221.7L730.1 223.3L730.4 224.9L731.2 226.6L731.4 227.1L735.4 228.2L739.7 229.3L741.2 228.2L743.2 226.6L745.6 224.9L746.5 223.3L747.4 221.7L748.1 220.8L748.4 220.1L749.3 218.4L750.7 216.8L751.6 215.2L751.8 213.5L751.8 211.9L752.3 210.3L753.2 208.6L753.4 207.0L753.8 205.4L754.5 203.8L754.9 202.1L755.6 200.5L755.9 198.9L756.2 197.2L756.4 196.9L756.8 195.6L757.1 194.0L756.9 192.4L757.1 190.7L757.7 189.1L757.9 187.5L757.9 185.8L758.2 184.2L758.5 182.6L758.7 181.0L759.0 179.3L759.5 177.7L759.5 176.1L759.1 174.4L759.2 172.8L759.3 171.2L758.9 169.6L758.9 167.9L758.9 166.3L758.4 164.7L758.0 163.0L757.7 161.4L757.3 159.8L756.6 158.1L756.4 157.8L755.7 156.5L755.2 154.9L754.5 153.3L754.1 151.6L753.2 150.0L752.2 148.4L751.9 146.7L751.3 145.1L750.5 143.5L749.1 141.9L748.3 140.2L748.1 139.1L747.9 138.6L746.1 137.0L745.2 135.3L744.5 133.7L742.5 132.1L740.9 130.5L739.9 128.8L739.7 128.7L739.3 128.8L736.4 130.5L731.7 132.1L731.4 132.2L730.8 133.7L730.5 135.3L730.2 137.0L729.7 138.6L729.4 140.2L729.0 141.9L728.2 143.5L727.7 145.1L727.4 146.7L727.2 148.4L726.7 150.0L726.2 151.6L725.9 153.3L725.5 154.9L725.2 156.5L724.7 158.1L724.2 159.8L723.9 161.4L723.6 163.0L723.3 164.7L723.0 165.9M737.7 195.6L739.7 196.4L740.4 195.6L741.2 194.0L740.7 192.4L741.2 190.7L742.8 189.1L743.3 187.5L743.2 185.8L744.0 184.2L745.0 182.6L745.3 181.0L746.2 179.3L747.5 177.7L747.6 176.1L746.6 174.4L746.7 172.8L747.0 171.2L745.9 169.6L745.9 167.9L745.9 166.3L744.7 164.7L743.5 163.0L742.7 161.4L741.6 159.8L739.7 158.2L734.4 159.8L731.4 161.3L731.4 161.4L731.1 163.0L730.7 164.7L730.3 166.3L730.3 167.9L730.3 169.6L729.9 171.2L730.0 172.8L730.1 174.4L729.7 176.1L729.8 177.7L730.2 179.3L730.5 181.0L730.6 182.6L730.9 184.2L731.2 185.8L731.2 187.5L731.3 189.1L731.4 189.3L735.4 190.7L736.8 192.4L735.5 194.0Z" fill="none" stroke="#000" stroke-width="1.6" stroke-linejoin="round"/>
</g>
<path d="M806.43 488.85 v-5.4 M806.43 49.00 v5.4M973.19 488.85 v-5.4 M973.19 49.00 v5.4M1139.95 488.85 v-5.4 M1139.95 49.00 v5.4M723.05 456.67 h5.4 M1139.95 456.67 h-5.4M723.05 375.21 h5.4 M1139.95 375.21 h-5.4M723.05 293.76 h5.4 M1139.95 293.76 h-5.4M723.05 212.31 h5.4 M1139.95 212.31 h-5.4M723.05 130.85 h5.4 M1139.95 130.85 h-5.4" stroke="#2a2a2a" stroke-width="1.5" fill="none"/>
<rect x="723.05" y="49.00" width="416.90" height="439.85" fill="none" stroke="#2a2a2a" stroke-width="1.8"/>
<text transform="translate(806.43,528.70) scale(1.250,1)" font-size="30.5" text-anchor="middle" font-weight="normal" fill="#2a2a2a" stroke="#2a2a2a" stroke-width="0.3">300</text>
<text transform="translate(973.19,528.70) scale(1.250,1)" font-size="30.5" text-anchor="middle" font-weight="normal" fill="#2a2a2a" stroke="#2a2a2a" stroke-width="0.3">400</text>
<text transform="translate(1139.95,528.70) scale(1.250,1)" font-size="30.5" text-anchor="middle" font-weight="normal" fill="#2a2a2a" stroke="#2a2a2a" stroke-width="0.3">500</text>
<text transform="translate(711.45,467.67) scale(1.250,1)" font-size="30.5" text-anchor="end" font-weight="normal" fill="#2a2a2a" stroke="#2a2a2a" stroke-width="0.3">300</text>
<text transform="translate(711.45,386.21) scale(1.250,1)" font-size="30.5" text-anchor="end" font-weight="normal" fill="#2a2a2a" stroke="#2a2a2a" stroke-width="0.3">350</text>
<text transform="translate(711.45,304.76) scale(1.250,1)" font-size="30.5" text-anchor="end" font-weight="normal" fill="#2a2a2a" stroke="#2a2a2a" stroke-width="0.3">400</text>
<text transform="translate(711.45,223.31) scale(1.250,1)" font-size="30.5" text-anchor="end" font-weight="normal" fill="#2a2a2a" stroke="#2a2a2a" stroke-width="0.3">450</text>
<text transform="translate(711.45,141.85) scale(1.250,1)" font-size="30.5" text-anchor="end" font-weight="normal" fill="#2a2a2a" stroke="#2a2a2a" stroke-width="0.3">500</text>
<text transform="translate(711.45,60.40) scale(1.250,1)" font-size="30.5" text-anchor="end" font-weight="normal" fill="#2a2a2a" stroke="#2a2a2a" stroke-width="0.3">550</text>
<text transform="translate(931.20,568.80) scale(1.200,1)" font-size="34.2" text-anchor="middle" font-weight="normal" fill="#2a2a2a" stroke="#2a2a2a" stroke-width="0.3">Ex. (nm)</text>
<text transform="translate(630.20,268.70) rotate(-90) scale(1,1.295)" font-size="32.6" text-anchor="middle" font-weight="normal" fill="#2a2a2a" stroke="#2a2a2a" stroke-width="0.3">Em. (nm)</text>
<text transform="translate(930.30,39.60) scale(1.222,1)" font-size="35.0" text-anchor="middle" font-weight="normal" fill="#000" stroke="#000" stroke-width="0.3">Component 2</text>
<clipPath id="cp2"><path d="M1322.0 49.0 L1738.9 49.0 L1738.9 131.3 L1730.6 133.0 L1730.6 139.4 L1722.3 141.1 L1722.3 147.6 L1713.9 149.3 L1713.9 155.7 L1705.6 157.4 L1705.6 163.8 L1697.3 165.5 L1697.3 172.0 L1688.9 173.7 L1688.9 180.1 L1680.6 181.8 L1680.6 188.2 L1672.2 189.9 L1672.2 196.4 L1663.9 198.1 L1663.9 204.5 L1655.6 206.2 L1655.6 212.6 L1647.2 214.3 L1647.2 220.8 L1638.9 222.5 L1638.9 228.9 L1630.6 230.6 L1630.6 237.1 L1622.2 238.8 L1622.2 245.2 L1613.9 246.9 L1613.9 253.3 L1605.5 255.0 L1605.5 261.5 L1597.2 263.2 L1597.2 269.6 L1588.9 271.3 L1588.9 277.7 L1580.5 279.4 L1580.5 285.9 L1572.2 287.6 L1572.2 294.0 L1563.9 295.7 L1563.9 302.1 L1555.5 303.8 L1555.5 310.3 L1547.2 312.0 L1547.2 318.4 L1538.8 320.1 L1538.8 326.5 L1530.5 328.2 L1530.5 334.7 L1522.2 336.4 L1522.2 342.8 L1513.8 344.5 L1513.8 350.9 L1505.5 352.6 L1505.5 359.1 L1497.1 360.8 L1497.1 367.2 L1488.8 368.9 L1488.8 375.3 L1480.5 377.0 L1480.5 383.5 L1472.1 385.2 L1472.1 391.6 L1463.8 393.3 L1463.8 399.8 L1455.5 401.5 L1455.5 407.9 L1447.1 409.6 L1447.1 416.0 L1438.8 417.7 L1438.8 424.2 L1430.4 425.9 L1430.4 432.3 L1422.1 434.0 L1422.1 440.4 L1413.8 442.1 L1413.8 448.6 L1405.4 450.3 L1405.4 456.7 L1397.1 458.4 L1397.1 464.8 L1388.8 466.5 L1388.8 473.0 L1380.4 474.7 L1380.4 481.1 L1372.1 482.8 L1372.1 488.9 L1322.0 488.9Z"/></clipPath>
<g clip-path="url(#cp2)">
<rect x="1322.0" y="49.0" width="416.9" height="439.9" fill="#3E26A8"/>
<path d="M1360.4 454.6L1363.7 455.1L1372.1 455.4L1380.4 454.7L1380.7 454.6L1380.4 454.6L1372.1 454.0L1363.7 454.3ZM1322.0 451.4L1322.0 451.8L1330.4 452.0L1338.7 452.1L1347.1 452.2L1355.4 452.6L1363.7 452.8L1372.1 452.8L1380.4 452.7L1388.8 452.2L1396.1 451.4L1397.1 451.2L1405.4 450.0L1407.0 449.8L1413.8 448.5L1415.1 448.1L1420.3 446.5L1422.1 445.7L1424.5 444.9L1426.2 443.2L1427.3 441.6L1428.1 440.0L1429.2 438.3L1430.4 437.2L1430.9 436.7L1432.3 435.1L1432.9 433.5L1433.6 431.8L1434.4 430.2L1435.1 428.6L1435.7 426.9L1436.3 425.3L1436.9 423.7L1437.6 422.1L1438.3 420.4L1438.8 419.4L1439.1 418.8L1439.4 417.2L1439.6 415.5L1439.7 413.9L1439.8 412.3L1439.9 410.7L1440.0 409.0L1440.1 407.4L1440.2 405.8L1440.3 404.1L1440.4 402.5L1440.6 400.9L1440.8 399.3L1441.1 397.6L1441.2 396.0L1441.2 394.4L1441.2 392.7L1441.1 391.1L1441.1 389.5L1441.0 387.8L1440.9 386.2L1440.8 384.6L1440.7 383.0L1440.6 381.3L1440.6 379.7L1440.6 378.1L1440.5 376.4L1440.4 374.8L1440.3 373.2L1440.1 371.6L1440.0 369.9L1439.8 368.3L1439.5 366.7L1439.2 365.0L1439.1 363.4L1438.9 361.8L1438.8 361.3L1438.6 360.2L1438.5 358.5L1438.3 356.9L1438.1 355.3L1437.9 353.6L1437.6 352.0L1437.3 350.4L1437.0 348.7L1436.6 347.1L1436.4 345.5L1436.1 343.9L1435.6 342.2L1435.1 340.6L1434.8 339.0L1434.4 337.3L1434.0 335.7L1433.6 334.1L1433.1 332.5L1432.5 330.8L1432.0 329.2L1431.4 327.6L1430.9 325.9L1430.7 324.3L1430.4 323.0L1430.4 322.7L1430.0 321.1L1429.3 319.4L1428.5 317.8L1427.6 316.2L1427.2 314.5L1426.9 312.9L1426.1 311.3L1425.2 309.7L1424.3 308.0L1423.4 306.4L1422.4 304.8L1422.1 303.9L1421.9 303.1L1421.7 301.5L1420.9 299.9L1419.7 298.2L1418.8 296.6L1417.8 295.0L1417.1 293.4L1416.7 291.7L1415.8 290.1L1414.3 288.5L1413.8 287.7L1412.9 286.8L1411.9 285.2L1410.7 283.6L1407.9 282.0L1405.4 280.7L1404.8 280.3L1403.0 278.7L1402.1 277.1L1401.8 275.4L1400.2 273.8L1397.9 272.2L1397.1 271.6L1396.1 270.6L1395.2 268.9L1395.4 267.3L1394.8 265.7L1392.7 264.0L1391.4 262.4L1391.6 260.8L1390.8 259.2L1390.0 257.5L1388.8 256.1L1388.5 255.9L1388.3 254.3L1388.0 252.6L1385.6 251.0L1384.5 249.4L1384.5 247.7L1380.4 246.3L1377.8 246.1L1380.4 245.9L1384.5 244.5L1380.4 243.1L1377.8 242.9L1380.4 242.6L1384.5 241.2L1380.4 239.8L1377.8 239.6L1380.4 239.4L1384.5 238.0L1380.4 236.6L1377.8 236.3L1380.4 236.1L1384.5 234.7L1380.4 233.3L1377.8 233.1L1380.4 232.9L1384.5 231.5L1380.4 230.1L1377.8 229.8L1372.1 228.6L1363.7 229.5L1362.7 229.8L1355.4 230.9L1352.8 231.5L1355.4 232.1L1362.7 233.1L1355.4 234.1L1352.8 234.7L1355.4 235.3L1362.7 236.3L1355.4 237.4L1352.8 238.0L1355.4 238.6L1362.7 239.6L1355.4 240.6L1352.8 241.2L1355.4 241.8L1362.7 242.9L1355.4 243.9L1352.8 244.5L1355.4 245.1L1362.7 246.1L1355.4 247.1L1352.8 247.7L1352.8 249.4L1351.1 251.0L1347.5 252.6L1347.1 254.0L1346.8 254.3L1345.7 255.9L1338.7 257.4L1337.7 257.5L1330.4 259.0L1329.8 259.2L1324.7 260.8L1326.3 262.4L1322.0 263.2L1322.0 264.0L1322.0 265.7L1322.0 267.3L1322.0 268.9L1322.0 270.6L1322.0 272.2L1322.0 273.8L1322.0 275.4L1322.0 277.1L1322.0 278.7L1322.0 280.3L1322.0 282.0L1322.0 283.6L1322.0 285.2L1322.0 286.8L1322.0 288.5L1322.0 290.1L1322.0 291.7L1322.0 293.4L1322.0 295.0L1322.0 296.6L1322.0 298.2L1322.0 299.9L1322.0 301.5L1322.0 303.1L1322.0 304.8L1322.0 306.4L1322.0 308.0L1322.0 309.7L1322.0 311.3L1322.0 312.9L1322.0 314.5L1322.0 316.2L1322.0 317.8L1322.0 319.4L1322.0 321.1L1322.0 322.7L1322.0 324.3L1322.0 325.9L1322.0 327.6L1322.0 329.2L1322.0 330.8L1322.0 332.5L1322.0 334.1L1322.0 335.7L1322.0 337.3L1322.0 339.0L1322.0 340.6L1322.0 342.2L1322.0 343.9L1322.0 345.5L1322.0 347.1L1322.0 348.7L1322.0 350.4L1322.0 352.0L1322.0 353.6L1322.0 355.3L1322.0 356.9L1322.0 358.5L1322.0 360.2L1322.0 361.8L1322.0 363.4L1322.0 365.0L1322.0 366.7L1322.0 368.3L1322.0 369.9L1322.0 371.6L1322.0 373.2L1322.0 374.8L1322.0 376.4L1322.0 378.1L1322.0 379.7L1322.0 381.3L1322.0 383.0L1322.0 384.6L1322.0 386.2L1322.0 387.8L1322.0 389.5L1322.0 391.1L1322.0 392.7L1322.0 394.4L1322.0 396.0L1322.0 397.6L1322.0 399.3L1322.0 400.9L1322.0 402.5L1322.0 404.1L1322.0 405.8L1322.0 407.4L1322.0 409.0L1322.0 410.7L1322.0 412.3L1322.0 413.9L1322.0 415.5L1322.0 417.2L1322.0 418.8L1322.0 420.4L1322.0 422.1L1322.0 423.7L1322.0 425.3L1322.0 426.9L1322.0 428.6L1322.0 430.2L1322.0 431.8L1322.0 433.5L1322.0 435.1L1322.0 436.7L1322.0 438.3L1322.0 440.0L1322.0 441.6L1322.0 443.2L1322.0 444.9L1322.0 446.5L1322.0 448.1L1322.0 449.8ZM1362.7 226.6L1363.7 226.9L1372.1 227.8L1377.8 226.6L1380.4 226.3L1384.5 224.9L1380.4 223.5L1377.8 223.3L1380.4 223.1L1385.3 221.7L1387.6 220.1L1388.0 218.4L1386.5 216.8L1387.3 215.2L1388.8 214.1L1389.4 213.5L1389.7 211.9L1388.8 210.5L1388.6 210.3L1388.3 208.6L1388.5 207.0L1388.2 205.4L1387.8 203.8L1388.7 202.1L1388.8 201.8L1388.9 200.5L1388.8 199.9L1388.5 198.9L1388.0 197.2L1388.8 196.0L1389.0 195.6L1389.1 194.0L1388.9 192.4L1390.0 190.7L1390.5 189.1L1390.1 187.5L1388.9 185.8L1389.4 184.2L1391.1 182.6L1391.5 181.0L1391.8 179.3L1392.0 177.7L1393.0 176.1L1393.1 174.4L1392.7 172.8L1391.8 171.2L1391.6 169.6L1391.8 167.9L1392.7 166.3L1392.2 164.7L1390.9 163.0L1391.0 161.4L1391.6 159.8L1390.2 158.1L1389.3 156.5L1389.8 154.9L1390.0 153.3L1391.2 151.6L1392.1 150.0L1391.5 148.4L1389.8 146.7L1388.9 145.1L1389.2 143.5L1389.9 141.9L1388.8 140.2L1388.8 140.1L1388.2 138.6L1388.5 137.0L1388.5 135.3L1387.4 133.7L1387.3 132.1L1388.1 130.5L1388.4 128.8L1388.8 128.3L1389.4 127.2L1390.0 125.6L1389.7 123.9L1389.4 122.3L1388.8 121.3L1388.3 120.7L1387.4 119.1L1387.9 117.4L1388.4 115.8L1388.4 114.2L1387.4 112.5L1387.8 110.9L1388.8 109.5L1388.9 109.3L1388.8 108.9L1388.2 107.6L1388.6 106.0L1388.8 105.7L1389.3 104.4L1388.8 103.6L1388.0 102.8L1387.5 101.1L1388.7 99.5L1388.8 99.2L1389.0 97.9L1388.8 97.3L1388.3 96.2L1387.2 94.6L1387.1 93.0L1386.6 91.4L1387.4 89.7L1388.2 88.1L1387.2 86.5L1387.9 84.8L1388.8 84.2L1390.0 83.2L1390.1 81.6L1388.8 80.5L1388.0 80.0L1387.0 78.3L1385.8 76.7L1384.1 75.1L1380.4 73.9L1374.6 73.4L1380.4 72.4L1381.2 71.8L1383.0 70.2L1382.4 68.5L1383.8 66.9L1384.1 65.3L1380.4 65.2L1372.1 65.1L1363.7 65.1L1355.4 65.2L1353.5 65.3L1353.8 66.9L1355.4 68.1L1356.3 68.5L1355.4 69.7L1355.2 70.2L1355.4 70.3L1359.1 71.8L1363.7 73.1L1367.0 73.4L1363.7 73.6L1355.4 74.6L1353.4 75.1L1350.9 76.7L1348.9 78.3L1347.3 80.0L1347.1 80.1L1338.7 81.4L1336.4 81.6L1338.0 83.2L1338.7 83.3L1347.1 84.6L1347.5 84.8L1348.6 86.5L1347.1 88.1L1348.4 89.7L1349.6 91.4L1348.9 93.0L1348.7 94.6L1347.1 96.1L1346.7 96.2L1343.3 97.9L1344.8 99.5L1347.1 100.2L1348.2 101.1L1347.4 102.8L1347.1 103.0L1341.6 104.4L1345.4 106.0L1347.1 107.6L1343.9 109.3L1347.1 110.3L1347.7 110.9L1348.3 112.5L1347.1 113.9L1346.3 114.2L1346.0 115.8L1347.1 116.5L1347.5 117.4L1348.4 119.1L1347.1 120.6L1346.8 120.7L1341.4 122.3L1339.8 123.9L1338.7 125.0L1337.7 125.6L1338.7 125.9L1341.0 127.2L1346.4 128.8L1347.1 129.8L1347.2 130.5L1348.5 132.1L1348.4 133.7L1347.1 134.9L1345.7 135.3L1345.7 137.0L1347.1 138.4L1347.1 138.6L1347.1 138.7L1344.2 140.2L1338.8 141.9L1342.1 143.5L1343.5 145.1L1339.2 146.7L1338.7 146.8L1330.4 147.6L1325.7 148.4L1322.1 150.0L1327.3 151.6L1330.4 152.3L1337.7 153.3L1338.7 154.2L1339.1 154.9L1341.5 156.5L1338.7 157.5L1335.5 158.1L1330.4 158.8L1325.1 159.8L1328.6 161.4L1329.1 163.0L1322.0 164.5L1322.0 164.7L1322.0 166.3L1322.0 167.5L1323.6 167.9L1324.8 169.6L1323.7 171.2L1322.0 171.7L1322.0 172.8L1322.0 174.4L1322.0 176.1L1322.0 177.6L1322.3 177.7L1323.6 179.3L1325.3 181.0L1328.2 182.6L1330.4 182.9L1338.7 183.8L1341.3 184.2L1343.8 185.8L1338.7 187.1L1336.5 187.5L1332.7 189.1L1337.4 190.7L1338.7 190.9L1343.8 192.4L1342.5 194.0L1343.4 195.6L1347.1 196.9L1347.4 197.2L1347.1 198.0L1345.9 198.9L1343.8 200.5L1344.7 202.1L1347.1 203.0L1347.7 203.8L1347.1 205.3L1346.9 205.4L1345.6 207.0L1346.8 208.6L1345.3 210.3L1339.6 211.9L1341.3 213.5L1347.1 214.5L1348.5 215.2L1349.6 216.8L1347.4 218.4L1348.0 220.1L1351.6 221.7L1355.4 222.4L1362.7 223.3L1355.4 224.3L1352.8 224.9L1355.4 225.5Z" fill="#4743E7"/>
<path d="M1362.0 449.8L1363.7 449.8L1372.1 450.0L1378.9 449.8L1380.4 449.7L1388.8 448.3L1389.8 448.1L1396.4 446.5L1397.1 446.3L1402.9 444.9L1405.3 443.2L1405.4 443.1L1407.3 441.6L1408.7 440.0L1410.8 438.3L1413.8 436.8L1413.9 436.7L1415.9 435.1L1416.8 433.5L1417.9 431.8L1419.2 430.2L1420.2 428.6L1421.1 426.9L1421.9 425.3L1422.1 425.0L1423.1 423.7L1424.4 422.1L1426.0 420.4L1427.4 418.8L1427.9 417.2L1428.4 415.5L1428.6 413.9L1428.7 412.3L1429.0 410.7L1429.2 409.0L1429.4 407.4L1429.6 405.8L1429.8 404.1L1430.0 402.5L1430.3 400.9L1430.4 400.4L1430.7 399.3L1431.2 397.6L1431.4 396.0L1431.5 394.4L1431.4 392.7L1431.3 391.1L1431.2 389.5L1431.1 387.8L1430.9 386.2L1430.8 384.6L1430.6 383.0L1430.4 381.9L1430.4 381.3L1430.3 379.7L1430.4 378.1L1430.1 376.4L1429.9 374.8L1429.7 373.2L1429.4 371.6L1429.1 369.9L1428.7 368.3L1428.2 366.7L1427.7 365.0L1427.4 363.4L1427.0 361.8L1426.5 360.2L1426.2 358.5L1425.8 356.9L1425.4 355.3L1425.1 353.6L1424.6 352.0L1423.9 350.4L1423.3 348.7L1422.6 347.1L1422.1 345.5L1422.1 345.5L1421.6 343.9L1420.9 342.2L1420.2 340.6L1419.7 339.0L1419.1 337.3L1418.5 335.7L1418.0 334.1L1417.2 332.5L1416.3 330.8L1415.5 329.2L1414.6 327.6L1413.9 325.9L1413.8 325.4L1413.5 324.3L1412.9 322.7L1412.2 321.1L1411.0 319.4L1409.4 317.8L1407.9 316.2L1407.1 314.5L1406.5 312.9L1405.4 311.6L1405.2 311.3L1403.9 309.7L1402.7 308.0L1401.3 306.4L1400.0 304.8L1399.1 303.1L1398.7 301.5L1397.2 299.9L1397.1 299.8L1395.7 298.2L1394.6 296.6L1393.3 295.0L1392.3 293.4L1391.8 291.7L1390.6 290.1L1388.8 288.5L1388.8 288.5L1386.9 286.8L1385.8 285.2L1384.3 283.6L1381.1 282.0L1380.4 281.7L1372.1 280.7L1363.7 281.1L1359.5 282.0L1355.4 282.8L1353.1 283.6L1350.8 285.2L1349.1 286.8L1347.1 288.0L1344.5 288.5L1338.7 289.5L1331.9 290.1L1330.4 290.3L1323.7 291.7L1322.0 292.5L1322.0 293.4L1322.0 295.0L1322.0 296.6L1322.0 298.2L1322.0 299.9L1322.0 301.5L1322.0 303.1L1322.0 304.8L1322.0 306.4L1322.0 308.0L1322.0 309.7L1322.0 311.3L1322.0 312.9L1322.0 314.5L1322.0 316.2L1322.0 317.8L1322.0 319.4L1322.0 321.1L1322.0 322.7L1322.0 324.3L1322.0 325.9L1322.0 327.6L1322.0 329.2L1322.0 330.8L1322.0 332.5L1322.0 334.1L1322.0 335.7L1322.0 337.3L1322.0 339.0L1322.0 340.6L1322.0 342.2L1322.0 343.9L1322.0 345.5L1322.0 347.1L1322.0 348.7L1322.0 350.4L1322.0 352.0L1322.0 353.6L1322.0 355.3L1322.0 356.9L1322.0 358.5L1322.0 360.2L1322.0 361.8L1322.0 363.4L1322.0 365.0L1322.0 366.7L1322.0 368.3L1322.0 369.9L1322.0 371.6L1322.0 373.2L1322.0 374.8L1322.0 376.4L1322.0 378.1L1322.0 379.7L1322.0 381.3L1322.0 383.0L1322.0 384.6L1322.0 386.2L1322.0 387.8L1322.0 389.5L1322.0 391.1L1322.0 392.7L1322.0 394.4L1322.0 396.0L1322.0 397.6L1322.0 399.3L1322.0 400.9L1322.0 402.5L1322.0 404.1L1322.0 405.8L1322.0 407.4L1322.0 409.0L1322.0 410.7L1322.0 412.3L1322.0 413.9L1322.0 415.5L1322.0 417.2L1322.0 418.8L1322.0 420.4L1322.0 422.1L1322.0 423.7L1322.0 425.3L1322.0 426.9L1322.0 428.6L1322.0 430.2L1322.0 431.8L1322.0 433.5L1322.0 435.1L1322.0 436.7L1322.0 438.3L1322.0 440.0L1322.0 441.6L1322.0 443.2L1322.0 444.9L1322.0 446.5L1322.0 447.6L1330.4 447.9L1338.7 448.1L1339.4 448.1L1347.1 448.4L1355.4 449.4Z" fill="#4367FD"/>
<path d="M1360.7 446.5L1363.7 446.7L1372.1 446.9L1380.4 446.5L1380.6 446.5L1388.3 444.9L1388.8 444.6L1390.8 443.2L1392.5 441.6L1393.6 440.0L1395.3 438.3L1397.1 437.2L1398.1 436.7L1400.9 435.1L1402.2 433.5L1403.7 431.8L1405.4 430.2L1405.5 430.2L1407.4 428.6L1408.9 426.9L1410.4 425.3L1412.1 423.7L1413.8 422.2L1413.9 422.1L1415.7 420.4L1417.3 418.8L1418.0 417.2L1418.5 415.5L1418.7 413.9L1418.8 412.3L1419.1 410.7L1419.4 409.0L1419.6 407.4L1419.8 405.8L1420.1 404.1L1420.3 402.5L1420.7 400.9L1421.1 399.3L1421.7 397.6L1421.9 396.0L1422.0 394.4L1421.9 392.7L1421.8 391.1L1421.7 389.5L1421.5 387.8L1421.4 386.2L1421.2 384.6L1421.0 383.0L1420.7 381.3L1420.7 379.7L1420.7 378.1L1420.4 376.4L1420.2 374.8L1420.0 373.2L1419.7 371.6L1419.3 369.9L1418.8 368.3L1418.2 366.7L1417.7 365.0L1417.3 363.4L1416.9 361.8L1416.4 360.2L1416.0 358.5L1415.6 356.9L1415.1 355.3L1414.7 353.6L1414.1 352.0L1413.8 351.3L1413.3 350.4L1412.4 348.7L1411.4 347.1L1410.8 345.5L1409.9 343.9L1408.6 342.2L1407.4 340.6L1406.4 339.0L1405.4 337.5L1405.3 337.3L1404.5 335.7L1403.8 334.1L1402.7 332.5L1401.5 330.8L1400.4 329.2L1399.1 327.6L1398.1 325.9L1397.7 324.3L1397.1 322.9L1397.0 322.7L1396.4 321.1L1395.5 319.4L1394.2 317.8L1393.0 316.2L1392.4 314.5L1391.9 312.9L1390.8 311.3L1389.4 309.7L1388.8 308.8L1388.1 308.0L1386.5 306.4L1385.0 304.8L1383.9 303.1L1383.5 301.5L1381.8 299.9L1380.4 298.9L1376.9 298.2L1372.1 297.1L1363.7 298.1L1363.3 298.2L1357.7 299.9L1355.4 300.8L1354.4 301.5L1353.7 303.1L1352.1 304.8L1349.7 306.4L1347.3 308.0L1347.1 308.2L1341.0 309.7L1338.7 310.2L1330.4 311.2L1330.2 311.3L1323.2 312.9L1322.0 313.5L1322.0 314.5L1322.0 316.2L1322.0 317.8L1322.0 319.4L1322.0 321.1L1322.0 322.7L1322.0 324.3L1322.0 325.9L1322.0 327.6L1322.0 329.2L1322.0 330.8L1322.0 332.5L1322.0 334.1L1322.0 335.7L1322.0 337.3L1322.0 339.0L1322.0 340.6L1322.0 342.2L1322.0 343.9L1322.0 345.5L1322.0 347.1L1322.0 348.7L1322.0 350.4L1322.0 352.0L1322.0 353.6L1322.0 355.3L1322.0 356.9L1322.0 358.5L1322.0 360.2L1322.0 361.8L1322.0 363.4L1322.0 365.0L1322.0 366.7L1322.0 368.3L1322.0 369.9L1322.0 371.6L1322.0 373.2L1322.0 374.8L1322.0 376.4L1322.0 378.1L1322.0 379.7L1322.0 381.3L1322.0 383.0L1322.0 384.6L1322.0 386.2L1322.0 387.8L1322.0 389.5L1322.0 391.1L1322.0 392.7L1322.0 394.4L1322.0 396.0L1322.0 397.6L1322.0 399.3L1322.0 400.9L1322.0 402.5L1322.0 404.1L1322.0 405.8L1322.0 407.4L1322.0 409.0L1322.0 410.7L1322.0 412.3L1322.0 413.9L1322.0 415.5L1322.0 417.2L1322.0 418.8L1322.0 420.4L1322.0 422.1L1322.0 423.7L1322.0 425.3L1322.0 426.9L1322.0 428.6L1322.0 430.2L1322.0 431.8L1322.0 433.5L1322.0 435.1L1322.0 436.7L1322.0 438.3L1322.0 440.0L1322.0 441.6L1322.0 442.1L1329.7 443.2L1330.4 443.3L1338.7 443.9L1346.6 444.9L1347.1 444.9L1355.4 446.1Z" fill="#2D8CF3"/>
<path d="M1361.0 441.6L1363.7 442.4L1372.1 443.2L1380.4 441.6L1380.4 441.6L1382.0 440.0L1384.5 438.3L1388.1 436.7L1388.8 436.4L1390.8 435.1L1392.0 433.5L1393.3 431.8L1395.0 430.2L1396.4 428.6L1397.1 427.5L1397.6 426.9L1399.2 425.3L1400.9 423.7L1402.8 422.1L1404.9 420.4L1405.4 420.1L1407.4 418.8L1408.5 417.2L1409.3 415.5L1409.6 413.9L1409.9 412.3L1410.3 410.7L1410.8 409.0L1411.0 407.4L1411.4 405.8L1411.9 404.1L1412.2 402.5L1412.8 400.9L1413.6 399.3L1413.8 398.9L1414.3 397.6L1414.6 396.0L1414.8 394.4L1414.6 392.7L1414.4 391.1L1414.3 389.5L1414.1 387.8L1413.9 386.2L1413.8 385.4L1413.6 384.6L1413.3 383.0L1412.9 381.3L1412.9 379.7L1412.9 378.1L1412.4 376.4L1412.0 374.8L1411.7 373.2L1411.2 371.6L1410.6 369.9L1409.9 368.3L1408.9 366.7L1408.0 365.0L1407.4 363.4L1406.7 361.8L1405.9 360.2L1405.4 359.0L1405.3 358.5L1404.8 356.9L1404.2 355.3L1403.8 353.6L1403.0 352.0L1402.1 350.4L1401.2 348.7L1400.1 347.1L1399.5 345.5L1398.6 343.9L1397.3 342.2L1397.1 341.9L1396.4 340.6L1395.7 339.0L1394.9 337.3L1394.1 335.7L1393.4 334.1L1392.4 332.5L1391.3 330.8L1390.3 329.2L1389.1 327.6L1388.8 327.0L1388.1 325.9L1387.6 324.3L1387.0 322.7L1386.1 321.1L1384.7 319.4L1382.9 317.8L1381.0 316.2L1380.4 315.0L1379.6 314.5L1377.1 312.9L1372.1 311.5L1363.7 312.7L1363.2 312.9L1361.6 314.5L1359.6 316.2L1355.4 317.8L1355.3 317.8L1352.4 319.4L1350.4 321.1L1349.0 322.7L1348.0 324.3L1347.3 325.9L1347.1 326.2L1342.8 327.6L1338.7 328.6L1334.7 329.2L1330.4 329.9L1327.0 330.8L1322.0 332.0L1322.0 332.5L1322.0 334.1L1322.0 335.7L1322.0 337.3L1322.0 339.0L1322.0 340.6L1322.0 342.2L1322.0 343.9L1322.0 345.5L1322.0 347.1L1322.0 348.7L1322.0 350.4L1322.0 352.0L1322.0 353.6L1322.0 355.3L1322.0 356.9L1322.0 358.5L1322.0 360.2L1322.0 361.8L1322.0 363.4L1322.0 365.0L1322.0 366.7L1322.0 368.3L1322.0 369.9L1322.0 371.6L1322.0 373.2L1322.0 374.8L1322.0 376.4L1322.0 378.1L1322.0 379.7L1322.0 381.3L1322.0 383.0L1322.0 384.6L1322.0 386.2L1322.0 387.8L1322.0 389.5L1322.0 391.1L1322.0 392.7L1322.0 394.4L1322.0 396.0L1322.0 397.6L1322.0 399.3L1322.0 400.9L1322.0 402.5L1322.0 404.1L1322.0 405.8L1322.0 407.4L1322.0 409.0L1322.0 410.7L1322.0 412.3L1322.0 413.9L1322.0 415.5L1322.0 417.2L1322.0 418.8L1322.0 420.4L1322.0 422.1L1322.0 423.7L1322.0 425.3L1322.0 426.9L1322.0 428.6L1322.0 430.2L1322.0 431.8L1322.0 433.4L1322.5 433.5L1330.3 435.1L1330.4 435.1L1338.7 435.7L1347.1 436.6L1347.3 436.7L1352.8 438.3L1355.4 439.5L1357.2 440.0Z" fill="#1CAADF"/>
<path d="M1359.4 435.1L1363.7 436.0L1372.1 436.5L1380.4 435.4L1381.1 435.1L1382.8 433.5L1384.6 431.8L1386.9 430.2L1388.8 428.6L1388.8 428.6L1390.1 426.9L1391.5 425.3L1393.0 423.7L1394.6 422.1L1396.5 420.4L1397.1 419.9L1398.8 418.8L1399.8 417.2L1400.6 415.5L1400.9 413.9L1401.1 412.3L1401.6 410.7L1402.0 409.0L1402.3 407.4L1402.7 405.8L1403.1 404.1L1403.4 402.5L1404.0 400.9L1404.7 399.3L1405.4 397.8L1405.5 397.6L1406.0 396.0L1406.3 394.4L1406.0 392.7L1405.7 391.1L1405.5 389.5L1405.4 389.0L1405.3 387.8L1405.0 386.2L1404.8 384.6L1404.4 383.0L1404.1 381.3L1404.0 379.7L1404.1 378.1L1403.6 376.4L1403.2 374.8L1402.9 373.2L1402.4 371.6L1401.8 369.9L1401.1 368.3L1400.2 366.7L1399.4 365.0L1398.8 363.4L1398.1 361.8L1397.3 360.2L1397.1 359.5L1396.8 358.5L1396.4 356.9L1395.8 355.3L1395.5 353.6L1394.8 352.0L1394.0 350.4L1393.2 348.7L1392.3 347.1L1391.8 345.5L1391.0 343.9L1389.9 342.2L1388.8 340.6L1388.8 340.6L1387.8 339.0L1386.7 337.3L1385.7 335.7L1384.8 334.1L1383.3 332.5L1381.8 330.8L1380.5 329.2L1380.4 329.1L1374.7 327.6L1372.1 326.6L1366.8 327.6L1363.7 328.0L1360.9 329.2L1357.7 330.8L1355.4 331.9L1354.6 332.5L1352.4 334.1L1350.9 335.7L1349.3 337.3L1347.7 339.0L1347.1 339.7L1344.5 340.6L1338.7 342.2L1338.7 342.2L1330.4 343.5L1328.7 343.9L1323.7 345.5L1322.0 346.3L1322.0 347.1L1322.0 348.7L1322.0 350.4L1322.0 352.0L1322.0 353.6L1322.0 355.3L1322.0 356.9L1322.0 358.5L1322.0 360.2L1322.0 361.8L1322.0 363.4L1322.0 365.0L1322.0 366.7L1322.0 368.3L1322.0 369.9L1322.0 371.6L1322.0 373.2L1322.0 374.8L1322.0 376.4L1322.0 378.1L1322.0 379.7L1322.0 381.3L1322.0 383.0L1322.0 384.6L1322.0 386.2L1322.0 387.8L1322.0 389.5L1322.0 391.1L1322.0 392.7L1322.0 394.4L1322.0 396.0L1322.0 397.6L1322.0 399.3L1322.0 400.9L1322.0 402.5L1322.0 404.1L1322.0 405.8L1322.0 407.4L1322.0 409.0L1322.0 410.7L1322.0 412.3L1322.0 413.9L1322.0 415.5L1322.0 417.2L1322.0 418.8L1322.0 420.4L1322.0 422.1L1322.0 423.7L1322.0 424.7L1325.6 425.3L1330.4 426.2L1336.3 426.9L1338.7 427.3L1344.5 428.6L1347.1 429.1L1349.1 430.2L1352.6 431.8L1355.4 433.4L1355.5 433.5Z" fill="#12BEB9"/>
<path d="M1371.0 430.2L1372.1 430.3L1372.6 430.2L1380.4 428.6L1380.5 428.6L1382.3 426.9L1384.1 425.3L1386.0 423.7L1388.2 422.1L1388.8 421.7L1390.5 420.4L1392.6 418.8L1393.4 417.2L1394.1 415.5L1394.4 413.9L1394.6 412.3L1394.9 410.7L1395.3 409.0L1395.5 407.4L1395.8 405.8L1396.2 404.1L1396.4 402.5L1396.9 400.9L1397.1 400.4L1397.7 399.3L1398.7 397.6L1399.1 396.0L1399.4 394.4L1399.2 392.7L1398.9 391.1L1398.7 389.5L1398.4 387.8L1398.1 386.2L1397.8 384.6L1397.4 383.0L1397.1 381.8L1397.0 381.3L1397.0 379.7L1397.0 378.1L1396.6 376.4L1396.3 374.8L1396.0 373.2L1395.6 371.6L1395.1 369.9L1394.6 368.3L1393.8 366.7L1393.1 365.0L1392.6 363.4L1392.0 361.8L1391.4 360.2L1390.8 358.5L1390.3 356.9L1389.7 355.3L1389.2 353.6L1388.8 352.6L1388.4 352.0L1387.4 350.4L1386.3 348.7L1385.2 347.1L1384.4 345.5L1383.4 343.9L1381.9 342.2L1380.5 340.6L1380.4 340.5L1376.5 339.0L1372.1 337.4L1363.7 338.9L1363.6 339.0L1360.9 340.6L1357.5 342.2L1355.4 343.2L1354.5 343.9L1352.9 345.5L1351.8 347.1L1350.0 348.7L1348.4 350.4L1347.1 351.7L1346.1 352.0L1342.0 353.6L1339.8 355.3L1338.7 355.8L1334.4 356.9L1330.4 358.2L1329.7 358.5L1326.5 360.2L1322.4 361.8L1322.0 361.9L1322.0 363.4L1322.0 365.0L1322.0 366.7L1322.0 368.3L1322.0 369.9L1322.0 371.6L1322.0 373.2L1322.0 374.8L1322.0 376.4L1322.0 378.1L1322.0 379.7L1322.0 381.3L1322.0 383.0L1322.0 384.6L1322.0 386.2L1322.0 387.8L1322.0 389.5L1322.0 391.1L1322.0 392.7L1322.0 394.4L1322.0 396.0L1322.0 397.6L1322.0 399.3L1322.0 400.9L1322.0 402.5L1322.0 404.1L1322.0 405.8L1322.0 407.4L1322.0 409.0L1322.0 410.7L1322.0 412.3L1322.0 413.9L1322.0 415.5L1322.0 417.2L1322.0 418.8L1322.0 419.2L1330.4 420.2L1332.8 420.4L1338.7 420.9L1347.1 422.0L1347.1 422.1L1350.5 423.7L1353.5 425.3L1355.4 426.4L1356.7 426.9L1360.9 428.6L1363.7 429.5Z" fill="#48CB86"/>
<path d="M1368.4 423.7L1372.1 424.1L1373.9 423.7L1380.4 422.6L1381.2 422.1L1384.1 420.4L1386.7 418.8L1387.8 417.2L1388.6 415.5L1388.8 415.0L1389.0 413.9L1389.2 412.3L1389.6 410.7L1390.1 409.0L1390.3 407.4L1390.7 405.8L1391.1 404.1L1391.4 402.5L1391.9 400.9L1392.7 399.3L1393.5 397.6L1393.8 396.0L1394.0 394.4L1393.8 392.7L1393.6 391.1L1393.5 389.5L1393.2 387.8L1393.0 386.2L1392.7 384.6L1392.4 383.0L1392.0 381.3L1392.0 379.7L1392.1 378.1L1391.5 376.4L1391.2 374.8L1390.9 373.2L1390.4 371.6L1389.9 369.9L1389.2 368.3L1388.8 367.5L1388.2 366.7L1387.4 365.0L1386.7 363.4L1386.0 361.8L1385.2 360.2L1384.5 358.5L1383.8 356.9L1383.0 355.3L1382.5 353.6L1381.4 352.0L1380.4 350.6L1379.7 350.4L1375.3 348.7L1372.1 347.6L1365.6 348.7L1363.7 349.1L1361.5 350.4L1358.6 352.0L1356.2 353.6L1355.4 354.7L1355.1 355.3L1353.8 356.9L1352.8 358.5L1351.8 360.2L1350.5 361.8L1349.4 363.4L1348.4 365.0L1347.1 366.7L1347.1 366.7L1342.2 368.3L1338.7 369.9L1338.7 369.9L1333.4 371.6L1330.4 372.6L1329.4 373.2L1327.4 374.8L1325.3 376.4L1322.0 378.0L1322.0 378.1L1322.0 378.5L1322.4 379.7L1322.2 381.3L1322.0 381.4L1322.0 383.0L1322.0 384.6L1322.0 386.2L1322.0 387.8L1322.0 389.5L1322.0 391.1L1322.0 392.7L1322.0 394.4L1322.0 396.0L1322.0 397.6L1322.0 399.3L1322.0 400.6L1322.8 400.9L1326.5 402.5L1328.1 404.1L1330.4 405.5L1331.0 405.8L1334.6 407.4L1336.9 409.0L1338.7 409.7L1340.0 410.7L1342.3 412.3L1343.4 413.9L1345.1 415.5L1347.1 416.3L1347.7 417.2L1349.3 418.8L1353.5 420.4L1355.4 421.1L1359.3 422.1L1363.7 423.3Z" fill="#9FC942"/>
<path d="M1360.8 418.8L1363.7 419.5L1372.1 420.1L1380.4 418.9L1380.5 418.8L1381.7 417.2L1382.7 415.5L1383.1 413.9L1383.4 412.3L1383.9 410.7L1384.5 409.0L1384.8 407.4L1385.2 405.8L1385.8 404.1L1386.1 402.5L1386.8 400.9L1387.7 399.3L1388.7 397.6L1388.8 397.4L1389.1 396.0L1389.3 394.4L1389.1 392.7L1388.9 391.1L1388.8 389.9L1388.7 389.5L1388.4 387.8L1388.1 386.2L1387.8 384.6L1387.4 383.0L1386.9 381.3L1386.9 379.7L1387.0 378.1L1386.3 376.4L1385.9 374.8L1385.5 373.2L1384.9 371.6L1384.2 369.9L1383.4 368.3L1382.2 366.7L1381.3 365.0L1380.5 363.4L1380.4 363.2L1377.7 361.8L1374.3 360.2L1372.1 358.8L1367.7 360.2L1363.7 361.1L1362.8 361.8L1360.8 363.4L1359.1 365.0L1356.9 366.7L1355.4 367.5L1354.5 368.3L1353.2 369.9L1352.2 371.6L1351.3 373.2L1350.7 374.8L1350.0 376.4L1349.0 378.1L1349.1 379.7L1349.1 381.3L1348.3 383.0L1347.7 384.6L1347.2 386.2L1347.1 386.8L1346.2 387.8L1344.7 389.5L1344.0 391.1L1342.6 392.7L1341.5 394.4L1342.8 396.0L1344.8 397.6L1347.1 398.4L1347.8 399.3L1349.2 400.9L1350.4 402.5L1350.9 404.1L1351.7 405.8L1352.4 407.4L1352.9 409.0L1353.7 410.7L1354.6 412.3L1355.0 413.9L1355.4 415.0L1355.7 415.5L1358.0 417.2Z" fill="#EABA31"/>
<path d="M1371.8 410.7L1372.1 410.7L1372.2 410.7L1374.4 409.0L1375.6 407.4L1377.5 405.8L1379.6 404.1L1380.4 403.2L1380.6 402.5L1381.4 400.9L1382.4 399.3L1383.5 397.6L1384.0 396.0L1384.3 394.4L1384.0 392.7L1383.7 391.1L1383.5 389.5L1383.2 387.8L1382.9 386.2L1382.5 384.6L1382.0 383.0L1381.5 381.3L1381.5 379.7L1381.6 378.1L1380.8 376.4L1380.4 375.0L1380.2 374.8L1378.6 373.2L1376.2 371.6L1373.4 369.9L1372.1 369.3L1369.4 369.9L1363.7 371.6L1363.7 371.6L1362.2 373.2L1361.2 374.8L1360.1 376.4L1358.3 378.1L1358.6 379.7L1358.5 381.3L1357.2 383.0L1356.2 384.6L1355.4 386.1L1355.4 386.2L1354.9 387.8L1354.3 389.5L1354.1 391.1L1353.5 392.7L1353.1 394.4L1353.6 396.0L1354.3 397.6L1355.4 398.7L1356.3 399.3L1358.8 400.9L1360.7 402.5L1361.6 404.1L1362.9 405.8L1363.7 406.8L1365.0 407.4L1367.5 409.0Z" fill="#FAD42E"/>
<path d="M1370.5 397.6L1372.1 397.9L1372.9 397.6L1374.8 396.0L1376.0 394.4L1375.0 392.7L1373.6 391.1L1372.9 389.5L1372.1 388.5L1370.4 389.5L1369.0 391.1L1366.3 392.7L1364.2 394.4L1366.7 396.0Z" fill="#F9FB15"/>
<path d="M1360.4 454.6L1363.7 455.1L1372.1 455.4L1380.4 454.7L1380.7 454.6L1380.4 454.6L1372.1 454.0L1363.7 454.3ZM1322.0 451.8L1330.4 452.0L1338.7 452.1L1347.1 452.2L1355.4 452.6L1363.7 452.8L1372.1 452.8L1380.4 452.7L1388.8 452.2L1396.1 451.4L1397.1 451.2L1405.4 450.0L1407.0 449.8L1413.8 448.5L1415.1 448.1L1420.3 446.5L1422.1 445.7L1424.5 444.9L1426.2 443.2L1427.3 441.6L1428.1 440.0L1429.2 438.3L1430.4 437.2L1430.9 436.7L1432.3 435.1L1432.9 433.5L1433.6 431.8L1434.4 430.2L1435.1 428.6L1435.7 426.9L1436.3 425.3L1436.9 423.7L1437.6 422.1L1438.3 420.4L1438.8 419.4L1439.1 418.8L1439.4 417.2L1439.6 415.5L1439.7 413.9L1439.8 412.3L1439.9 410.7L1440.0 409.0L1440.1 407.4L1440.2 405.8L1440.3 404.1L1440.4 402.5L1440.6 400.9L1440.8 399.3L1441.1 397.6L1441.2 396.0L1441.2 394.4L1441.2 392.7L1441.1 391.1L1441.1 389.5L1441.0 387.8L1440.9 386.2L1440.8 384.6L1440.7 383.0L1440.6 381.3L1440.6 379.7L1440.6 378.1L1440.5 376.4L1440.4 374.8L1440.3 373.2L1440.1 371.6L1440.0 369.9L1439.8 368.3L1439.5 366.7L1439.2 365.0L1439.1 363.4L1438.9 361.8L1438.8 361.3L1438.6 360.2L1438.5 358.5L1438.3 356.9L1438.1 355.3L1437.9 353.6L1437.6 352.0L1437.3 350.4L1437.0 348.7L1436.6 347.1L1436.4 345.5L1436.1 343.9L1435.6 342.2L1435.1 340.6L1434.8 339.0L1434.4 337.3L1434.0 335.7L1433.6 334.1L1433.1 332.5L1432.5 330.8L1432.0 329.2L1431.4 327.6L1430.9 325.9L1430.7 324.3L1430.4 323.0L1430.4 322.7L1430.0 321.1L1429.3 319.4L1428.5 317.8L1427.6 316.2L1427.2 314.5L1426.9 312.9L1426.1 311.3L1425.2 309.7L1424.3 308.0L1423.4 306.4L1422.4 304.8L1422.1 303.9L1421.9 303.1L1421.7 301.5L1420.9 299.9L1419.7 298.2L1418.8 296.6L1417.8 295.0L1417.1 293.4L1416.7 291.7L1415.8 290.1L1414.3 288.5L1413.8 287.7L1412.9 286.8L1411.9 285.2L1410.7 283.6L1407.9 282.0L1405.4 280.7L1404.8 280.3L1403.0 278.7L1402.1 277.1L1401.8 275.4L1400.2 273.8L1397.9 272.2L1397.1 271.6L1396.1 270.6L1395.2 268.9L1395.4 267.3L1394.8 265.7L1392.7 264.0L1391.4 262.4L1391.6 260.8L1390.8 259.2L1390.0 257.5L1388.8 256.1L1388.5 255.9L1388.3 254.3L1388.0 252.6L1385.6 251.0L1384.5 249.4L1384.5 247.7L1380.4 246.3L1377.8 246.1L1380.4 245.9L1384.5 244.5L1380.4 243.1L1377.8 242.9L1380.4 242.6L1384.5 241.2L1380.4 239.8L1377.8 239.6L1380.4 239.4L1384.5 238.0L1380.4 236.6L1377.8 236.3L1380.4 236.1L1384.5 234.7L1380.4 233.3L1377.8 233.1L1380.4 232.9L1384.5 231.5L1380.4 230.1L1377.8 229.8L1372.1 228.6L1363.7 229.5L1362.7 229.8L1355.4 230.9L1352.8 231.5L1355.4 232.1L1362.7 233.1L1355.4 234.1L1352.8 234.7L1355.4 235.3L1362.7 236.3L1355.4 237.4L1352.8 238.0L1355.4 238.6L1362.7 239.6L1355.4 240.6L1352.8 241.2L1355.4 241.8L1362.7 242.9L1355.4 243.9L1352.8 244.5L1355.4 245.1L1362.7 246.1L1355.4 247.1L1352.8 247.7L1352.8 249.4L1351.1 251.0L1347.5 252.6L1347.1 254.0L1346.8 254.3L1345.7 255.9L1338.7 257.4L1337.7 257.5L1330.4 259.0L1329.8 259.2L1324.7 260.8L1326.3 262.4L1322.0 263.2M1322.0 177.6L1322.3 177.7L1323.6 179.3L1325.3 181.0L1328.2 182.6L1330.4 182.9L1338.7 183.8L1341.3 184.2L1343.8 185.8L1338.7 187.1L1336.5 187.5L1332.7 189.1L1337.4 190.7L1338.7 190.9L1343.8 192.4L1342.5 194.0L1343.4 195.6L1347.1 196.9L1347.4 197.2L1347.1 198.0L1345.9 198.9L1343.8 200.5L1344.7 202.1L1347.1 203.0L1347.7 203.8L1347.1 205.3L1346.9 205.4L1345.6 207.0L1346.8 208.6L1345.3 210.3L1339.6 211.9L1341.3 213.5L1347.1 214.5L1348.5 215.2L1349.6 216.8L1347.4 218.4L1348.0 220.1L1351.6 221.7L1355.4 222.4L1362.7 223.3L1355.4 224.3L1352.8 224.9L1355.4 225.5L1362.7 226.6L1363.7 226.9L1372.1 227.8L1377.8 226.6L1380.4 226.3L1384.5 224.9L1380.4 223.5L1377.8 223.3L1380.4 223.1L1385.3 221.7L1387.6 220.1L1388.0 218.4L1386.5 216.8L1387.3 215.2L1388.8 214.1L1389.4 213.5L1389.7 211.9L1388.8 210.5L1388.6 210.3L1388.3 208.6L1388.5 207.0L1388.2 205.4L1387.8 203.8L1388.7 202.1L1388.8 201.8L1388.9 200.5L1388.8 199.9L1388.5 198.9L1388.0 197.2L1388.8 196.0L1389.0 195.6L1389.1 194.0L1388.9 192.4L1390.0 190.7L1390.5 189.1L1390.1 187.5L1388.9 185.8L1389.4 184.2L1391.1 182.6L1391.5 181.0L1391.8 179.3L1392.0 177.7L1393.0 176.1L1393.1 174.4L1392.7 172.8L1391.8 171.2L1391.6 169.6L1391.8 167.9L1392.7 166.3L1392.2 164.7L1390.9 163.0L1391.0 161.4L1391.6 159.8L1390.2 158.1L1389.3 156.5L1389.8 154.9L1390.0 153.3L1391.2 151.6L1392.1 150.0L1391.5 148.4L1389.8 146.7L1388.9 145.1L1389.2 143.5L1389.9 141.9L1388.8 140.2L1388.8 140.1L1388.2 138.6L1388.5 137.0L1388.5 135.3L1387.4 133.7L1387.3 132.1L1388.1 130.5L1388.4 128.8L1388.8 128.3L1389.4 127.2L1390.0 125.6L1389.7 123.9L1389.4 122.3L1388.8 121.3L1388.3 120.7L1387.4 119.1L1387.9 117.4L1388.4 115.8L1388.4 114.2L1387.4 112.5L1387.8 110.9L1388.8 109.5L1388.9 109.3L1388.8 108.9L1388.2 107.6L1388.6 106.0L1388.8 105.7L1389.3 104.4L1388.8 103.6L1388.0 102.8L1387.5 101.1L1388.7 99.5L1388.8 99.2L1389.0 97.9L1388.8 97.3L1388.3 96.2L1387.2 94.6L1387.1 93.0L1386.6 91.4L1387.4 89.7L1388.2 88.1L1387.2 86.5L1387.9 84.8L1388.8 84.2L1390.0 83.2L1390.1 81.6L1388.8 80.5L1388.0 80.0L1387.0 78.3L1385.8 76.7L1384.1 75.1L1380.4 73.9L1374.6 73.4L1380.4 72.4L1381.2 71.8L1383.0 70.2L1382.4 68.5L1383.8 66.9L1384.1 65.3L1380.4 65.2L1372.1 65.1L1363.7 65.1L1355.4 65.2L1353.5 65.3L1353.8 66.9L1355.4 68.1L1356.3 68.5L1355.4 69.7L1355.2 70.2L1355.4 70.3L1359.1 71.8L1363.7 73.1L1367.0 73.4L1363.7 73.6L1355.4 74.6L1353.4 75.1L1350.9 76.7L1348.9 78.3L1347.3 80.0L1347.1 80.1L1338.7 81.4L1336.4 81.6L1338.0 83.2L1338.7 83.3L1347.1 84.6L1347.5 84.8L1348.6 86.5L1347.1 88.1L1348.4 89.7L1349.6 91.4L1348.9 93.0L1348.7 94.6L1347.1 96.1L1346.7 96.2L1343.3 97.9L1344.8 99.5L1347.1 100.2L1348.2 101.1L1347.4 102.8L1347.1 103.0L1341.6 104.4L1345.4 106.0L1347.1 107.6L1343.9 109.3L1347.1 110.3L1347.7 110.9L1348.3 112.5L1347.1 113.9L1346.3 114.2L1346.0 115.8L1347.1 116.5L1347.5 117.4L1348.4 119.1L1347.1 120.6L1346.8 120.7L1341.4 122.3L1339.8 123.9L1338.7 125.0L1337.7 125.6L1338.7 125.9L1341.0 127.2L1346.4 128.8L1347.1 129.8L1347.2 130.5L1348.5 132.1L1348.4 133.7L1347.1 134.9L1345.7 135.3L1345.7 137.0L1347.1 138.4L1347.1 138.6L1347.1 138.7L1344.2 140.2L1338.8 141.9L1342.1 143.5L1343.5 145.1L1339.2 146.7L1338.7 146.8L1330.4 147.6L1325.7 148.4L1322.1 150.0L1327.3 151.6L1330.4 152.3L1337.7 153.3L1338.7 154.2L1339.1 154.9L1341.5 156.5L1338.7 157.5L1335.5 158.1L1330.4 158.8L1325.1 159.8L1328.6 161.4L1329.1 163.0L1322.0 164.5M1322.0 167.5L1323.6 167.9L1324.8 169.6L1323.7 171.2L1322.0 171.7M1322.0 447.6L1330.4 447.9L1338.7 448.1L1339.4 448.1L1347.1 448.4L1355.4 449.4L1362.0 449.8L1363.7 449.8L1372.1 450.0L1378.9 449.8L1380.4 449.7L1388.8 448.3L1389.8 448.1L1396.4 446.5L1397.1 446.3L1402.9 444.9L1405.3 443.2L1405.4 443.1L1407.3 441.6L1408.7 440.0L1410.8 438.3L1413.8 436.8L1413.9 436.7L1415.9 435.1L1416.8 433.5L1417.9 431.8L1419.2 430.2L1420.2 428.6L1421.1 426.9L1421.9 425.3L1422.1 425.0L1423.1 423.7L1424.4 422.1L1426.0 420.4L1427.4 418.8L1427.9 417.2L1428.4 415.5L1428.6 413.9L1428.7 412.3L1429.0 410.7L1429.2 409.0L1429.4 407.4L1429.6 405.8L1429.8 404.1L1430.0 402.5L1430.3 400.9L1430.4 400.4L1430.7 399.3L1431.2 397.6L1431.4 396.0L1431.5 394.4L1431.4 392.7L1431.3 391.1L1431.2 389.5L1431.1 387.8L1430.9 386.2L1430.8 384.6L1430.6 383.0L1430.4 381.9L1430.4 381.3L1430.3 379.7L1430.4 378.1L1430.1 376.4L1429.9 374.8L1429.7 373.2L1429.4 371.6L1429.1 369.9L1428.7 368.3L1428.2 366.7L1427.7 365.0L1427.4 363.4L1427.0 361.8L1426.5 360.2L1426.2 358.5L1425.8 356.9L1425.4 355.3L1425.1 353.6L1424.6 352.0L1423.9 350.4L1423.3 348.7L1422.6 347.1L1422.1 345.5L1422.1 345.5L1421.6 343.9L1420.9 342.2L1420.2 340.6L1419.7 339.0L1419.1 337.3L1418.5 335.7L1418.0 334.1L1417.2 332.5L1416.3 330.8L1415.5 329.2L1414.6 327.6L1413.9 325.9L1413.8 325.4L1413.5 324.3L1412.9 322.7L1412.2 321.1L1411.0 319.4L1409.4 317.8L1407.9 316.2L1407.1 314.5L1406.5 312.9L1405.4 311.6L1405.2 311.3L1403.9 309.7L1402.7 308.0L1401.3 306.4L1400.0 304.8L1399.1 303.1L1398.7 301.5L1397.2 299.9L1397.1 299.8L1395.7 298.2L1394.6 296.6L1393.3 295.0L1392.3 293.4L1391.8 291.7L1390.6 290.1L1388.8 288.5L1388.8 288.5L1386.9 286.8L1385.8 285.2L1384.3 283.6L1381.1 282.0L1380.4 281.7L1372.1 280.7L1363.7 281.1L1359.5 282.0L1355.4 282.8L1353.1 283.6L1350.8 285.2L1349.1 286.8L1347.1 288.0L1344.5 288.5L1338.7 289.5L1331.9 290.1L1330.4 290.3L1323.7 291.7L1322.0 292.5M1322.0 442.1L1329.7 443.2L1330.4 443.3L1338.7 443.9L1346.6 444.9L1347.1 444.9L1355.4 446.1L1360.7 446.5L1363.7 446.7L1372.1 446.9L1380.4 446.5L1380.6 446.5L1388.3 444.9L1388.8 444.6L1390.8 443.2L1392.5 441.6L1393.6 440.0L1395.3 438.3L1397.1 437.2L1398.1 436.7L1400.9 435.1L1402.2 433.5L1403.7 431.8L1405.4 430.2L1405.5 430.2L1407.4 428.6L1408.9 426.9L1410.4 425.3L1412.1 423.7L1413.8 422.2L1413.9 422.1L1415.7 420.4L1417.3 418.8L1418.0 417.2L1418.5 415.5L1418.7 413.9L1418.8 412.3L1419.1 410.7L1419.4 409.0L1419.6 407.4L1419.8 405.8L1420.1 404.1L1420.3 402.5L1420.7 400.9L1421.1 399.3L1421.7 397.6L1421.9 396.0L1422.0 394.4L1421.9 392.7L1421.8 391.1L1421.7 389.5L1421.5 387.8L1421.4 386.2L1421.2 384.6L1421.0 383.0L1420.7 381.3L1420.7 379.7L1420.7 378.1L1420.4 376.4L1420.2 374.8L1420.0 373.2L1419.7 371.6L1419.3 369.9L1418.8 368.3L1418.2 366.7L1417.7 365.0L1417.3 363.4L1416.9 361.8L1416.4 360.2L1416.0 358.5L1415.6 356.9L1415.1 355.3L1414.7 353.6L1414.1 352.0L1413.8 351.3L1413.3 350.4L1412.4 348.7L1411.4 347.1L1410.8 345.5L1409.9 343.9L1408.6 342.2L1407.4 340.6L1406.4 339.0L1405.4 337.5L1405.3 337.3L1404.5 335.7L1403.8 334.1L1402.7 332.5L1401.5 330.8L1400.4 329.2L1399.1 327.6L1398.1 325.9L1397.7 324.3L1397.1 322.9L1397.0 322.7L1396.4 321.1L1395.5 319.4L1394.2 317.8L1393.0 316.2L1392.4 314.5L1391.9 312.9L1390.8 311.3L1389.4 309.7L1388.8 308.8L1388.1 308.0L1386.5 306.4L1385.0 304.8L1383.9 303.1L1383.5 301.5L1381.8 299.9L1380.4 298.9L1376.9 298.2L1372.1 297.1L1363.7 298.1L1363.3 298.2L1357.7 299.9L1355.4 300.8L1354.4 301.5L1353.7 303.1L1352.1 304.8L1349.7 306.4L1347.3 308.0L1347.1 308.2L1341.0 309.7L1338.7 310.2L1330.4 311.2L1330.2 311.3L1323.2 312.9L1322.0 313.5M1322.0 433.4L1322.5 433.5L1330.3 435.1L1330.4 435.1L1338.7 435.7L1347.1 436.6L1347.3 436.7L1352.8 438.3L1355.4 439.5L1357.2 440.0L1361.0 441.6L1363.7 442.4L1372.1 443.2L1380.4 441.6L1380.4 441.6L1382.0 440.0L1384.5 438.3L1388.1 436.7L1388.8 436.4L1390.8 435.1L1392.0 433.5L1393.3 431.8L1395.0 430.2L1396.4 428.6L1397.1 427.5L1397.6 426.9L1399.2 425.3L1400.9 423.7L1402.8 422.1L1404.9 420.4L1405.4 420.1L1407.4 418.8L1408.5 417.2L1409.3 415.5L1409.6 413.9L1409.9 412.3L1410.3 410.7L1410.8 409.0L1411.0 407.4L1411.4 405.8L1411.9 404.1L1412.2 402.5L1412.8 400.9L1413.6 399.3L1413.8 398.9L1414.3 397.6L1414.6 396.0L1414.8 394.4L1414.6 392.7L1414.4 391.1L1414.3 389.5L1414.1 387.8L1413.9 386.2L1413.8 385.4L1413.6 384.6L1413.3 383.0L1412.9 381.3L1412.9 379.7L1412.9 378.1L1412.4 376.4L1412.0 374.8L1411.7 373.2L1411.2 371.6L1410.6 369.9L1409.9 368.3L1408.9 366.7L1408.0 365.0L1407.4 363.4L1406.7 361.8L1405.9 360.2L1405.4 359.0L1405.3 358.5L1404.8 356.9L1404.2 355.3L1403.8 353.6L1403.0 352.0L1402.1 350.4L1401.2 348.7L1400.1 347.1L1399.5 345.5L1398.6 343.9L1397.3 342.2L1397.1 341.9L1396.4 340.6L1395.7 339.0L1394.9 337.3L1394.1 335.7L1393.4 334.1L1392.4 332.5L1391.3 330.8L1390.3 329.2L1389.1 327.6L1388.8 327.0L1388.1 325.9L1387.6 324.3L1387.0 322.7L1386.1 321.1L1384.7 319.4L1382.9 317.8L1381.0 316.2L1380.4 315.0L1379.6 314.5L1377.1 312.9L1372.1 311.5L1363.7 312.7L1363.2 312.9L1361.6 314.5L1359.6 316.2L1355.4 317.8L1355.3 317.8L1352.4 319.4L1350.4 321.1L1349.0 322.7L1348.0 324.3L1347.3 325.9L1347.1 326.2L1342.8 327.6L1338.7 328.6L1334.7 329.2L1330.4 329.9L1327.0 330.8L1322.0 332.0M1322.0 424.7L1325.6 425.3L1330.4 426.2L1336.3 426.9L1338.7 427.3L1344.5 428.6L1347.1 429.1L1349.1 430.2L1352.6 431.8L1355.4 433.4L1355.5 433.5L1359.4 435.1L1363.7 436.0L1372.1 436.5L1380.4 435.4L1381.1 435.1L1382.8 433.5L1384.6 431.8L1386.9 430.2L1388.8 428.6L1388.8 428.6L1390.1 426.9L1391.5 425.3L1393.0 423.7L1394.6 422.1L1396.5 420.4L1397.1 419.9L1398.8 418.8L1399.8 417.2L1400.6 415.5L1400.9 413.9L1401.1 412.3L1401.6 410.7L1402.0 409.0L1402.3 407.4L1402.7 405.8L1403.1 404.1L1403.4 402.5L1404.0 400.9L1404.7 399.3L1405.4 397.8L1405.5 397.6L1406.0 396.0L1406.3 394.4L1406.0 392.7L1405.7 391.1L1405.5 389.5L1405.4 389.0L1405.3 387.8L1405.0 386.2L1404.8 384.6L1404.4 383.0L1404.1 381.3L1404.0 379.7L1404.1 378.1L1403.6 376.4L1403.2 374.8L1402.9 373.2L1402.4 371.6L1401.8 369.9L1401.1 368.3L1400.2 366.7L1399.4 365.0L1398.8 363.4L1398.1 361.8L1397.3 360.2L1397.1 359.5L1396.8 358.5L1396.4 356.9L1395.8 355.3L1395.5 353.6L1394.8 352.0L1394.0 350.4L1393.2 348.7L1392.3 347.1L1391.8 345.5L1391.0 343.9L1389.9 342.2L1388.8 340.6L1388.8 340.6L1387.8 339.0L1386.7 337.3L1385.7 335.7L1384.8 334.1L1383.3 332.5L1381.8 330.8L1380.5 329.2L1380.4 329.1L1374.7 327.6L1372.1 326.6L1366.8 327.6L1363.7 328.0L1360.9 329.2L1357.7 330.8L1355.4 331.9L1354.6 332.5L1352.4 334.1L1350.9 335.7L1349.3 337.3L1347.7 339.0L1347.1 339.7L1344.5 340.6L1338.7 342.2L1338.7 342.2L1330.4 343.5L1328.7 343.9L1323.7 345.5L1322.0 346.3M1322.0 419.2L1330.4 420.2L1332.8 420.4L1338.7 420.9L1347.1 422.0L1347.1 422.1L1350.5 423.7L1353.5 425.3L1355.4 426.4L1356.7 426.9L1360.9 428.6L1363.7 429.5L1371.0 430.2L1372.1 430.3L1372.6 430.2L1380.4 428.6L1380.5 428.6L1382.3 426.9L1384.1 425.3L1386.0 423.7L1388.2 422.1L1388.8 421.7L1390.5 420.4L1392.6 418.8L1393.4 417.2L1394.1 415.5L1394.4 413.9L1394.6 412.3L1394.9 410.7L1395.3 409.0L1395.5 407.4L1395.8 405.8L1396.2 404.1L1396.4 402.5L1396.9 400.9L1397.1 400.4L1397.7 399.3L1398.7 397.6L1399.1 396.0L1399.4 394.4L1399.2 392.7L1398.9 391.1L1398.7 389.5L1398.4 387.8L1398.1 386.2L1397.8 384.6L1397.4 383.0L1397.1 381.8L1397.0 381.3L1397.0 379.7L1397.0 378.1L1396.6 376.4L1396.3 374.8L1396.0 373.2L1395.6 371.6L1395.1 369.9L1394.6 368.3L1393.8 366.7L1393.1 365.0L1392.6 363.4L1392.0 361.8L1391.4 360.2L1390.8 358.5L1390.3 356.9L1389.7 355.3L1389.2 353.6L1388.8 352.6L1388.4 352.0L1387.4 350.4L1386.3 348.7L1385.2 347.1L1384.4 345.5L1383.4 343.9L1381.9 342.2L1380.5 340.6L1380.4 340.5L1376.5 339.0L1372.1 337.4L1363.7 338.9L1363.6 339.0L1360.9 340.6L1357.5 342.2L1355.4 343.2L1354.5 343.9L1352.9 345.5L1351.8 347.1L1350.0 348.7L1348.4 350.4L1347.1 351.7L1346.1 352.0L1342.0 353.6L1339.8 355.3L1338.7 355.8L1334.4 356.9L1330.4 358.2L1329.7 358.5L1326.5 360.2L1322.4 361.8L1322.0 361.9M1322.0 400.6L1322.8 400.9L1326.5 402.5L1328.1 404.1L1330.4 405.5L1331.0 405.8L1334.6 407.4L1336.9 409.0L1338.7 409.7L1340.0 410.7L1342.3 412.3L1343.4 413.9L1345.1 415.5L1347.1 416.3L1347.7 417.2L1349.3 418.8L1353.5 420.4L1355.4 421.1L1359.3 422.1L1363.7 423.3L1368.4 423.7L1372.1 424.1L1373.9 423.7L1380.4 422.6L1381.2 422.1L1384.1 420.4L1386.7 418.8L1387.8 417.2L1388.6 415.5L1388.8 415.0L1389.0 413.9L1389.2 412.3L1389.6 410.7L1390.1 409.0L1390.3 407.4L1390.7 405.8L1391.1 404.1L1391.4 402.5L1391.9 400.9L1392.7 399.3L1393.5 397.6L1393.8 396.0L1394.0 394.4L1393.8 392.7L1393.6 391.1L1393.5 389.5L1393.2 387.8L1393.0 386.2L1392.7 384.6L1392.4 383.0L1392.0 381.3L1392.0 379.7L1392.1 378.1L1391.5 376.4L1391.2 374.8L1390.9 373.2L1390.4 371.6L1389.9 369.9L1389.2 368.3L1388.8 367.5L1388.2 366.7L1387.4 365.0L1386.7 363.4L1386.0 361.8L1385.2 360.2L1384.5 358.5L1383.8 356.9L1383.0 355.3L1382.5 353.6L1381.4 352.0L1380.4 350.6L1379.7 350.4L1375.3 348.7L1372.1 347.6L1365.6 348.7L1363.7 349.1L1361.5 350.4L1358.6 352.0L1356.2 353.6L1355.4 354.7L1355.1 355.3L1353.8 356.9L1352.8 358.5L1351.8 360.2L1350.5 361.8L1349.4 363.4L1348.4 365.0L1347.1 366.7L1347.1 366.7L1342.2 368.3L1338.7 369.9L1338.7 369.9L1333.4 371.6L1330.4 372.6L1329.4 373.2L1327.4 374.8L1325.3 376.4L1322.0 378.0M1322.0 378.5L1322.4 379.7L1322.2 381.3L1322.0 381.4M1360.8 418.8L1363.7 419.5L1372.1 420.1L1380.4 418.9L1380.5 418.8L1381.7 417.2L1382.7 415.5L1383.1 413.9L1383.4 412.3L1383.9 410.7L1384.5 409.0L1384.8 407.4L1385.2 405.8L1385.8 404.1L1386.1 402.5L1386.8 400.9L1387.7 399.3L1388.7 397.6L1388.8 397.4L1389.1 396.0L1389.3 394.4L1389.1 392.7L1388.9 391.1L1388.8 389.9L1388.7 389.5L1388.4 387.8L1388.1 386.2L1387.8 384.6L1387.4 383.0L1386.9 381.3L1386.9 379.7L1387.0 378.1L1386.3 376.4L1385.9 374.8L1385.5 373.2L1384.9 371.6L1384.2 369.9L1383.4 368.3L1382.2 366.7L1381.3 365.0L1380.5 363.4L1380.4 363.2L1377.7 361.8L1374.3 360.2L1372.1 358.8L1367.7 360.2L1363.7 361.1L1362.8 361.8L1360.8 363.4L1359.1 365.0L1356.9 366.7L1355.4 367.5L1354.5 368.3L1353.2 369.9L1352.2 371.6L1351.3 373.2L1350.7 374.8L1350.0 376.4L1349.0 378.1L1349.1 379.7L1349.1 381.3L1348.3 383.0L1347.7 384.6L1347.2 386.2L1347.1 386.8L1346.2 387.8L1344.7 389.5L1344.0 391.1L1342.6 392.7L1341.5 394.4L1342.8 396.0L1344.8 397.6L1347.1 398.4L1347.8 399.3L1349.2 400.9L1350.4 402.5L1350.9 404.1L1351.7 405.8L1352.4 407.4L1352.9 409.0L1353.7 410.7L1354.6 412.3L1355.0 413.9L1355.4 415.0L1355.7 415.5L1358.0 417.2ZM1371.8 410.7L1372.1 410.7L1372.2 410.7L1374.4 409.0L1375.6 407.4L1377.5 405.8L1379.6 404.1L1380.4 403.2L1380.6 402.5L1381.4 400.9L1382.4 399.3L1383.5 397.6L1384.0 396.0L1384.3 394.4L1384.0 392.7L1383.7 391.1L1383.5 389.5L1383.2 387.8L1382.9 386.2L1382.5 384.6L1382.0 383.0L1381.5 381.3L1381.5 379.7L1381.6 378.1L1380.8 376.4L1380.4 375.0L1380.2 374.8L1378.6 373.2L1376.2 371.6L1373.4 369.9L1372.1 369.3L1369.4 369.9L1363.7 371.6L1363.7 371.6L1362.2 373.2L1361.2 374.8L1360.1 376.4L1358.3 378.1L1358.6 379.7L1358.5 381.3L1357.2 383.0L1356.2 384.6L1355.4 386.1L1355.4 386.2L1354.9 387.8L1354.3 389.5L1354.1 391.1L1353.5 392.7L1353.1 394.4L1353.6 396.0L1354.3 397.6L1355.4 398.7L1356.3 399.3L1358.8 400.9L1360.7 402.5L1361.6 404.1L1362.9 405.8L1363.7 406.8L1365.0 407.4L1367.5 409.0ZM1370.5 397.6L1372.1 397.9L1372.9 397.6L1374.8 396.0L1376.0 394.4L1375.0 392.7L1373.6 391.1L1372.9 389.5L1372.1 388.5L1370.4 389.5L1369.0 391.1L1366.3 392.7L1364.2 394.4L1366.7 396.0Z" fill="none" stroke="#000" stroke-width="1.6" stroke-linejoin="round"/>
</g>
<path d="M1405.43 488.85 v-5.4 M1405.43 49.00 v5.4M1572.19 488.85 v-5.4 M1572.19 49.00 v5.4M1738.95 488.85 v-5.4 M1738.95 49.00 v5.4M1322.05 456.67 h5.4 M1738.95 456.67 h-5.4M1322.05 375.21 h5.4 M1738.95 375.21 h-5.4M1322.05 293.76 h5.4 M1738.95 293.76 h-5.4M1322.05 212.31 h5.4 M1738.95 212.31 h-5.4M1322.05 130.85 h5.4 M1738.95 130.85 h-5.4" stroke="#2a2a2a" stroke-width="1.5" fill="none"/>
<rect x="1322.05" y="49.00" width="416.90" height="439.85" fill="none" stroke="#2a2a2a" stroke-width="1.8"/>
<text transform="translate(1405.43,528.70) scale(1.250,1)" font-size="30.5" text-anchor="middle" font-weight="normal" fill="#2a2a2a" stroke="#2a2a2a" stroke-width="0.3">300</text>
<text transform="translate(1572.19,528.70) scale(1.250,1)" font-size="30.5" text-anchor="middle" font-weight="normal" fill="#2a2a2a" stroke="#2a2a2a" stroke-width="0.3">400</text>
<text transform="translate(1738.95,528.70) scale(1.250,1)" font-size="30.5" text-anchor="middle" font-weight="normal" fill="#2a2a2a" stroke="#2a2a2a" stroke-width="0.3">500</text>
<text transform="translate(1310.45,467.67) scale(1.250,1)" font-size="30.5" text-anchor="end" font-weight="normal" fill="#2a2a2a" stroke="#2a2a2a" stroke-width="0.3">300</text>
<text transform="translate(1310.45,386.21) scale(1.250,1)" font-size="30.5" text-anchor="end" font-weight="normal" fill="#2a2a2a" stroke="#2a2a2a" stroke-width="0.3">350</text>
<text transform="translate(1310.45,304.76) scale(1.250,1)" font-size="30.5" text-anchor="end" font-weight="normal" fill="#2a2a2a" stroke="#2a2a2a" stroke-width="0.3">400</text>
<text transform="translate(1310.45,223.31) scale(1.250,1)" font-size="30.5" text-anchor="end" font-weight="normal" fill="#2a2a2a" stroke="#2a2a2a" stroke-width="0.3">450</text>
<text transform="translate(1310.45,141.85) scale(1.250,1)" font-size="30.5" text-anchor="end" font-weight="normal" fill="#2a2a2a" stroke="#2a2a2a" stroke-width="0.3">500</text>
<text transform="translate(1310.45,60.40) scale(1.250,1)" font-size="30.5" text-anchor="end" font-weight="normal" fill="#2a2a2a" stroke="#2a2a2a" stroke-width="0.3">550</text>
<text transform="translate(1530.20,568.80) scale(1.200,1)" font-size="34.2" text-anchor="middle" font-weight="normal" fill="#2a2a2a" stroke="#2a2a2a" stroke-width="0.3">Ex. (nm)</text>
<text transform="translate(1229.20,268.70) rotate(-90) scale(1,1.295)" font-size="32.6" text-anchor="middle" font-weight="normal" fill="#2a2a2a" stroke="#2a2a2a" stroke-width="0.3">Em. (nm)</text>
<text transform="translate(1529.30,39.60) scale(1.222,1)" font-size="35.0" text-anchor="middle" font-weight="normal" fill="#000" stroke="#000" stroke-width="0.3">Component 3</text>
<clipPath id="cb0"><rect x="123.0" y="659.9" width="418.9" height="441.9"/></clipPath>
<path d="M193.53 1100.80 v-5.4 M193.53 660.85 v5.4M332.50 1100.80 v-5.4 M332.50 660.85 v5.4M471.47 1100.80 v-5.4 M471.47 660.85 v5.4M124.05 997.30 h5.4 M540.95 997.30 h-5.4M124.05 892.80 h5.4 M540.95 892.80 h-5.4M124.05 788.30 h5.4 M540.95 788.30 h-5.4M124.05 683.80 h5.4 M540.95 683.80 h-5.4" stroke="#2a2a2a" stroke-width="1.5" fill="none"/>
<rect x="124.05" y="660.85" width="416.90" height="439.95" fill="none" stroke="#2a2a2a" stroke-width="1.8"/>
<g clip-path="url(#cb0)">
<path d="M165.7 1100.8 L167.1 1100.8 L168.5 1100.8 L169.9 1100.8 L171.3 1100.8 L172.7 1100.8 L174.1 1100.8 L175.5 1100.8 L176.9 1100.8 L178.2 1100.8 L179.6 1100.8 L181.0 1100.8 L182.4 1100.8 L183.8 1100.8 L185.2 1100.8 L186.6 1100.8 L188.0 1100.8 L189.4 1100.8 L190.8 1100.8 L192.1 1100.8 L193.5 1100.8 L194.9 1100.8 L196.3 1100.8 L197.7 1100.8 L199.1 1100.8 L200.5 1100.8 L201.9 1100.8 L203.3 1100.8 L204.7 1100.8 L206.0 1100.8 L207.4 1100.8 L208.8 1100.8 L210.2 1100.8 L211.6 1100.8 L213.0 1100.8 L214.4 1100.8 L215.8 1100.8 L217.2 1100.8 L218.5 1100.8 L219.9 1100.8 L221.3 1100.8 L222.7 1100.8 L224.1 1100.8 L225.5 1100.8 L226.9 1100.8 L228.3 1100.8 L229.7 1100.8 L231.1 1100.0 L232.4 1099.2 L233.8 1098.4 L235.2 1097.7 L236.6 1097.1 L238.0 1096.7 L239.4 1095.6 L240.8 1095.7 L242.2 1094.8 L243.6 1093.2 L245.0 1090.9 L246.3 1088.7 L247.7 1087.5 L249.1 1085.1 L250.5 1084.2 L251.9 1083.4 L253.3 1083.1 L254.7 1081.4 L256.1 1081.0 L257.5 1078.0 L258.8 1075.8 L260.2 1072.6 L261.6 1070.2 L263.0 1068.4 L264.4 1065.9 L265.8 1062.6 L267.2 1060.9 L268.6 1058.5 L270.0 1056.6 L271.4 1053.2 L272.7 1050.6 L274.1 1048.0 L275.5 1046.8 L276.9 1043.2 L278.3 1042.6 L279.7 1040.4 L281.1 1038.5 L282.5 1036.3 L283.9 1034.5 L285.3 1032.5 L286.6 1030.5 L288.0 1027.7 L289.4 1027.0 L290.8 1025.1 L292.2 1021.4 L293.6 1020.0 L295.0 1016.8 L296.4 1013.9 L297.8 1013.2 L299.1 1010.0 L300.5 1010.0 L301.9 1007.3 L303.3 1005.8 L304.7 1003.6 L306.1 1001.7 L307.5 1001.7 L308.9 1000.0 L310.3 997.1 L311.7 995.2 L313.0 994.6 L314.4 991.7 L315.8 990.9 L317.2 988.3 L318.6 985.2 L320.0 984.7 L321.4 984.3 L322.8 984.0 L324.2 982.1 L325.6 981.7 L326.9 983.4 L328.3 981.7 L329.7 981.8 L331.1 981.9 L332.5 981.9 L333.9 982.5 L335.3 983.2 L336.7 982.4 L338.1 983.0 L339.4 984.8 L340.8 983.7 L342.2 984.0 L343.6 984.5 L345.0 986.1 L346.4 986.3 L347.8 987.1 L349.2 986.2 L350.6 986.8 L352.0 988.2 L353.3 990.1 L354.7 990.8 L356.1 991.0 L357.5 992.3 L358.9 992.1 L360.3 993.4 L361.7 994.7 L363.1 995.5 L364.5 996.1 L365.9 996.2 L367.2 998.0 L368.6 998.4 L370.0 999.8 L371.4 1001.2 L372.8 1002.2 L374.2 1002.7 L375.6 1003.9 L377.0 1005.3 L378.4 1004.9 L379.7 1006.6 L381.1 1008.2 L382.5 1008.1 L383.9 1010.3 L385.3 1011.7 L386.7 1012.5 L388.1 1012.9 L389.5 1014.8 L390.9 1015.9 L392.3 1015.8 L393.6 1017.6 L395.0 1018.3 L396.4 1019.1 L397.8 1021.4 L399.2 1022.0 L400.6 1023.9 L402.0 1023.4 L403.4 1024.7 L404.8 1026.1 L406.2 1028.0 L407.5 1027.5 L408.9 1030.3 L410.3 1030.6 L411.7 1030.6 L413.1 1032.8 L414.5 1032.9 L415.9 1033.6 L417.3 1035.0 L418.7 1036.7 L420.0 1036.4 L421.4 1038.4 L422.8 1038.3 L424.2 1040.7 L425.6 1040.3 L427.0 1041.5 L428.4 1043.7 L429.8 1043.6 L431.2 1045.2 L432.6 1045.5 L433.9 1046.3 L435.3 1047.9 L436.7 1047.5 L438.1 1048.0 L439.5 1049.4 L440.9 1050.5 L442.3 1050.9 L443.7 1052.1 L445.1 1052.6 L446.5 1053.7 L447.8 1055.0 L449.2 1054.7 L450.6 1056.3 L452.0 1057.5 L453.4 1058.4 L454.8 1058.5 L456.2 1059.8 L457.6 1059.7 L459.0 1061.3 L460.3 1062.0 L461.7 1062.5 L463.1 1062.0 L464.5 1062.7 L465.9 1063.1 L467.3 1063.8 L468.7 1065.2 L470.1 1065.4 L471.5 1065.9 L472.9 1066.8 L474.2 1067.3 L475.6 1068.0 L477.0 1068.8 L478.4 1068.4 L479.8 1068.9 L481.2 1070.5 L482.6 1070.7 L484.0 1071.2 L485.4 1071.0 L486.8 1071.9 L488.1 1072.4 L489.5 1073.2 L490.9 1073.2 L492.3 1073.3 L493.7 1073.6 L495.1 1075.4 L496.5 1075.2 L497.9 1076.3 L499.3 1075.7 L500.6 1076.3 L502.0 1076.9 L503.4 1077.3 L504.8 1077.9 L506.2 1077.1 L507.6 1077.4 L509.0 1077.6 L510.4 1078.0 L511.8 1079.6 L513.2 1079.0 L514.5 1092.1 L515.9 1091.3 L517.3 1091.8 L518.7 1091.8 L520.1 1092.2 L521.5 1092.3 L522.9 1092.7 L524.3 1092.8 L525.7 1094.0 L527.1 1093.5 L528.4 1093.6 L529.8 1093.8 L531.2 1095.0 L532.6 1094.8 L534.0 1094.9 L535.4 1095.6 L536.8 1095.6 L538.2 1095.4 L539.6 1095.5 L540.9 1096.1" fill="none" stroke="#0000FF" stroke-width="1.6" stroke-linejoin="round"/>
<path d="M165.7 1100.8 L167.1 1100.8 L168.5 1100.8 L169.9 1100.8 L171.3 1100.8 L172.7 1100.8 L174.1 1100.8 L175.5 1100.8 L176.9 1100.8 L178.2 1100.8 L179.6 1100.8 L181.0 1100.8 L182.4 1100.8 L183.8 1100.8 L185.2 1100.8 L186.6 1100.8 L188.0 1100.8 L189.4 1100.8 L190.8 1100.8 L192.1 1100.8 L193.5 1100.8 L194.9 1100.8 L196.3 1100.8 L197.7 1100.8 L199.1 1100.8 L200.5 1100.8 L201.9 1100.8 L203.3 1100.8 L204.7 1100.8 L206.0 1100.8 L207.4 1100.8 L208.8 1100.8 L210.2 1100.8 L211.6 1100.8 L213.0 1100.8 L214.4 1100.8 L215.8 1100.8 L217.2 1100.8 L218.5 1100.8 L219.9 1100.8 L221.3 1100.8 L222.7 1100.8 L224.1 1100.8 L225.5 1100.8 L226.9 1100.8 L228.3 1100.8 L229.7 1100.8 L231.1 1100.8 L232.4 1100.8 L233.8 1100.0 L235.2 1099.2 L236.6 1098.4 L238.0 1097.7 L239.4 1097.1 L240.8 1096.0 L242.2 1095.7 L243.6 1095.6 L245.0 1095.1 L246.3 1092.8 L247.7 1091.2 L249.1 1088.7 L250.5 1087.8 L251.9 1085.7 L253.3 1084.9 L254.7 1083.3 L256.1 1082.3 L257.5 1081.5 L258.8 1081.4 L260.2 1077.9 L261.6 1076.4 L263.0 1073.3 L264.4 1069.9 L265.8 1067.2 L267.2 1066.2 L268.6 1062.8 L270.0 1061.2 L271.4 1058.2 L272.7 1056.3 L274.1 1054.0 L275.5 1051.1 L276.9 1048.5 L278.3 1046.3 L279.7 1043.8 L281.1 1042.3 L282.5 1039.4 L283.9 1038.7 L285.3 1035.7 L286.6 1034.3 L288.0 1032.2 L289.4 1031.4 L290.8 1028.2 L292.2 1025.6 L293.6 1024.5 L295.0 1021.2 L296.4 1019.7 L297.8 1017.8 L299.1 1014.1 L300.5 1011.6 L301.9 1011.6 L303.3 1008.4 L304.7 1007.4 L306.1 1004.9 L307.5 1004.3 L308.9 1003.0 L310.3 999.9 L311.7 998.8 L313.0 996.6 L314.4 996.8 L315.8 993.7 L317.2 992.0 L318.6 991.3 L320.0 990.2 L321.4 988.7 L322.8 986.3 L324.2 985.9 L325.6 984.8 L326.9 985.6 L328.3 983.9 L329.7 984.2 L331.1 983.8 L332.5 983.5 L333.9 984.6 L335.3 982.3 L336.7 983.6 L338.1 983.1 L339.4 984.4 L340.8 984.7 L342.2 982.8 L343.6 984.9 L345.0 983.9 L346.4 985.1 L347.8 984.9 L349.2 985.7 L350.6 985.7 L352.0 987.0 L353.3 989.0 L354.7 989.5 L356.1 988.6 L357.5 989.9 L358.9 990.2 L360.3 990.2 L361.7 991.9 L363.1 992.0 L364.5 993.2 L365.9 994.5 L367.2 995.9 L368.6 995.4 L370.0 997.1 L371.4 999.2 L372.8 999.8 L374.2 999.0 L375.6 1002.0 L377.0 1002.1 L378.4 1004.0 L379.7 1004.0 L381.1 1004.8 L382.5 1007.3 L383.9 1006.5 L385.3 1008.8 L386.7 1008.8 L388.1 1011.2 L389.5 1011.8 L390.9 1013.5 L392.3 1014.7 L393.6 1015.1 L395.0 1015.1 L396.4 1017.3 L397.8 1018.8 L399.2 1020.2 L400.6 1021.7 L402.0 1021.8 L403.4 1023.0 L404.8 1023.3 L406.2 1025.2 L407.5 1026.5 L408.9 1026.2 L410.3 1027.6 L411.7 1030.0 L413.1 1030.6 L414.5 1032.1 L415.9 1031.9 L417.3 1033.9 L418.7 1034.7 L420.0 1035.2 L421.4 1035.9 L422.8 1037.2 L424.2 1038.8 L425.6 1039.2 L427.0 1040.9 L428.4 1041.5 L429.8 1043.4 L431.2 1043.1 L432.6 1044.0 L433.9 1045.6 L435.3 1046.9 L436.7 1048.1 L438.1 1048.1 L439.5 1049.0 L440.9 1050.7 L442.3 1050.7 L443.7 1050.9 L445.1 1052.0 L446.5 1053.2 L447.8 1053.7 L449.2 1054.6 L450.6 1055.9 L452.0 1056.9 L453.4 1057.3 L454.8 1059.0 L456.2 1059.7 L457.6 1060.7 L459.0 1059.9 L460.3 1060.8 L461.7 1061.9 L463.1 1062.9 L464.5 1063.8 L465.9 1063.3 L467.3 1064.3 L468.7 1064.1 L470.1 1065.4 L471.5 1066.5 L472.9 1066.3 L474.2 1067.8 L475.6 1067.6 L477.0 1067.7 L478.4 1068.8 L479.8 1069.3 L481.2 1069.2 L482.6 1070.0 L484.0 1070.8 L485.4 1072.0 L486.8 1071.6 L488.1 1072.6 L489.5 1072.4 L490.9 1073.2 L492.3 1073.9 L493.7 1074.1 L495.1 1075.2 L496.5 1075.4 L497.9 1075.1 L499.3 1076.1 L500.6 1076.4 L502.0 1077.1 L503.4 1076.9 L504.8 1077.7 L506.2 1077.0 L507.6 1078.2 L509.0 1078.1 L510.4 1078.2 L511.8 1078.8 L513.2 1079.1 L514.5 1095.0 L515.9 1095.6 L517.3 1095.1 L518.7 1094.9 L520.1 1095.9 L521.5 1095.3 L522.9 1095.8 L524.3 1095.8 L525.7 1096.2 L527.1 1096.0 L528.4 1096.2 L529.8 1096.3 L531.2 1096.3 L532.6 1096.1 L534.0 1096.1 L535.4 1096.6 L536.8 1096.9 L538.2 1096.6 L539.6 1096.9 L540.9 1096.6" fill="none" stroke="#0000FF" stroke-width="1.6" stroke-linejoin="round" stroke-dasharray="6 3.8"/>
<path d="M124.0 660.9 L131.0 753.9 L137.9 807.7 L144.9 841.0 L151.8 867.2 L158.8 886.6 L165.7 897.8 L172.7 903.3 L179.6 905.7 L186.6 901.4 L193.5 895.9 L200.5 890.3 L207.4 888.5 L214.4 891.2 L221.3 896.0 L228.3 905.1 L235.2 921.1 L242.2 942.0 L249.1 961.8 L256.1 981.9 L263.0 1001.8 L270.0 1021.4 L276.9 1036.8 L283.9 1051.7 L290.8 1067.9 L297.8 1083.7 L304.7 1097.1 L311.7 1100.8 L318.6 1100.8 L325.6 1100.8 L332.5 1100.8 L339.4 1100.8 L346.4 1100.8 L353.3 1100.8 L360.3 1100.8 L367.2 1100.8 L374.2 1100.8 L381.1 1100.8 L388.1 1100.8 L395.0 1100.8 L402.0 1100.8 L408.9 1100.8 L415.9 1100.8 L422.8 1100.8 L429.8 1100.8 L436.7 1100.8 L443.7 1100.8 L450.6 1100.8 L457.6 1100.8 L464.5 1100.8 L471.5 1100.8" fill="none" stroke="#FF0000" stroke-width="1.6" stroke-linejoin="round"/>
<path d="M124.0 670.3 L131.0 753.9 L137.9 807.7 L144.9 841.0 L151.8 867.2 L158.8 886.6 L165.7 900.2 L172.7 906.4 L179.6 909.0 L186.6 906.4 L193.5 901.2 L200.5 895.5 L207.4 893.9 L214.4 896.0 L221.3 901.2 L228.3 909.6 L235.2 921.1 L242.2 942.0 L249.1 961.8 L256.1 981.9 L263.0 1001.8 L270.0 1021.4 L276.9 1036.8 L283.9 1051.7 L290.8 1065.8 L297.8 1081.5 L304.7 1094.5 L311.7 1100.8 L318.6 1100.8 L325.6 1100.8 L332.5 1100.8 L339.4 1100.8 L346.4 1100.8 L353.3 1100.8 L360.3 1100.8 L367.2 1100.8 L374.2 1100.8 L381.1 1100.8 L388.1 1100.8 L395.0 1100.8 L402.0 1100.8 L408.9 1100.8 L415.9 1100.8 L422.8 1100.8 L429.8 1100.8 L436.7 1100.8 L443.7 1100.8 L450.6 1100.8 L457.6 1100.8 L464.5 1100.8 L471.5 1100.8" fill="none" stroke="#FF0000" stroke-width="1.6" stroke-linejoin="round" stroke-dasharray="6 3.8"/>
</g>
<text transform="translate(193.53,1140.60) scale(1.250,1)" font-size="30.5" text-anchor="middle" font-weight="normal" fill="#2a2a2a" stroke="#2a2a2a" stroke-width="0.3">300</text>
<text transform="translate(332.50,1140.60) scale(1.250,1)" font-size="30.5" text-anchor="middle" font-weight="normal" fill="#2a2a2a" stroke="#2a2a2a" stroke-width="0.3">400</text>
<text transform="translate(471.47,1140.60) scale(1.250,1)" font-size="30.5" text-anchor="middle" font-weight="normal" fill="#2a2a2a" stroke="#2a2a2a" stroke-width="0.3">500</text>
<text transform="translate(112.45,1112.90) scale(1.250,1)" font-size="30.5" text-anchor="end" font-weight="normal" fill="#2a2a2a" stroke="#2a2a2a" stroke-width="0.3">0</text>
<text transform="translate(112.45,1008.40) scale(1.250,1)" font-size="30.5" text-anchor="end" font-weight="normal" fill="#2a2a2a" stroke="#2a2a2a" stroke-width="0.3">0.1</text>
<text transform="translate(112.45,903.90) scale(1.250,1)" font-size="30.5" text-anchor="end" font-weight="normal" fill="#2a2a2a" stroke="#2a2a2a" stroke-width="0.3">0.2</text>
<text transform="translate(112.45,799.40) scale(1.250,1)" font-size="30.5" text-anchor="end" font-weight="normal" fill="#2a2a2a" stroke="#2a2a2a" stroke-width="0.3">0.3</text>
<text transform="translate(112.45,694.90) scale(1.250,1)" font-size="30.5" text-anchor="end" font-weight="normal" fill="#2a2a2a" stroke="#2a2a2a" stroke-width="0.3">0.4</text>
<text transform="translate(333.50,1181.30) scale(1.210,1)" font-size="34.2" text-anchor="middle" font-weight="normal" fill="#2a2a2a" stroke="#2a2a2a" stroke-width="0.3">Wavelength (nm)</text>
<text transform="translate(41.70,881.00) rotate(-90) scale(1,1.263)" font-size="34.3" text-anchor="middle" font-weight="normal" fill="#2a2a2a" stroke="#2a2a2a" stroke-width="0.3">Loadings</text>
<clipPath id="cb1"><rect x="722.0" y="659.9" width="418.9" height="441.9"/></clipPath>
<path d="M792.53 1100.80 v-5.4 M792.53 660.85 v5.4M931.50 1100.80 v-5.4 M931.50 660.85 v5.4M1070.47 1100.80 v-5.4 M1070.47 660.85 v5.4M723.05 1036.72 h5.4 M1139.95 1036.72 h-5.4M723.05 971.64 h5.4 M1139.95 971.64 h-5.4M723.05 906.56 h5.4 M1139.95 906.56 h-5.4M723.05 841.47 h5.4 M1139.95 841.47 h-5.4M723.05 776.39 h5.4 M1139.95 776.39 h-5.4M723.05 711.31 h5.4 M1139.95 711.31 h-5.4" stroke="#2a2a2a" stroke-width="1.5" fill="none"/>
<rect x="723.05" y="660.85" width="416.90" height="439.95" fill="none" stroke="#2a2a2a" stroke-width="1.8"/>
<g clip-path="url(#cb1)">
<path d="M764.7 1100.8 L766.1 1100.8 L767.5 1100.8 L768.9 1100.8 L770.3 1100.8 L771.7 1100.8 L773.1 1100.8 L774.5 1100.8 L775.9 1100.8 L777.2 1100.8 L778.6 1100.8 L780.0 1100.8 L781.4 1100.8 L782.8 1100.8 L784.2 1100.8 L785.6 1100.8 L787.0 1100.8 L788.4 1100.8 L789.8 1100.8 L791.1 1100.8 L792.5 1100.8 L793.9 1100.8 L795.3 1100.8 L796.7 1100.8 L798.1 1100.8 L799.5 1100.8 L800.9 1100.8 L802.3 1100.8 L803.7 1100.8 L805.0 1100.8 L806.4 1100.8 L807.8 1100.8 L809.2 1100.8 L810.6 1100.8 L812.0 1100.8 L813.4 1100.8 L814.8 1100.8 L816.2 1100.8 L817.5 1100.8 L818.9 1100.8 L820.3 1100.8 L821.7 1100.8 L823.1 1100.8 L824.5 1100.8 L825.9 1100.8 L827.3 1100.8 L828.7 1100.8 L830.1 1100.8 L831.4 1100.8 L832.8 1100.0 L834.2 1099.2 L835.6 1099.8 L837.0 1100.4 L838.4 1099.2 L839.8 1097.9 L841.2 1098.8 L842.6 1099.8 L844.0 1099.0 L845.3 1098.2 L846.7 1099.2 L848.1 1100.1 L849.5 1099.7 L850.9 1099.3 L852.3 1098.8 L853.7 1097.9 L855.1 1096.9 L856.5 1098.2 L857.8 1099.5 L859.2 1099.0 L860.6 1098.5 L862.0 1099.6 L863.4 1100.8 L864.8 1100.8 L866.2 1100.8 L867.6 1100.8 L869.0 1100.8 L870.4 1100.8 L871.7 1100.8 L873.1 1100.8 L874.5 1100.8 L875.9 1100.8 L877.3 1100.8 L878.7 1100.8 L880.1 1100.8 L881.5 1100.8 L882.9 1100.8 L884.3 1100.8 L885.6 1100.8 L887.0 1100.8 L888.4 1100.8 L889.8 1100.8 L891.2 1100.8 L892.6 1100.8 L894.0 1100.8 L895.4 1100.8 L896.8 1100.8 L898.1 1100.8 L899.5 1100.8 L900.9 1100.8 L902.3 1100.8 L903.7 1100.8 L905.1 1100.8 L906.5 1100.8 L907.9 1100.8 L909.3 1100.8 L910.7 1100.8 L912.0 1100.8 L913.4 1100.8 L914.8 1100.8 L916.2 1100.8 L917.6 1100.8 L919.0 1100.8 L920.4 1100.8 L921.8 1100.8 L923.2 1100.8 L924.6 1099.5 L925.9 1098.2 L927.3 1094.1 L928.7 1091.0 L930.1 1088.6 L931.5 1085.2 L932.9 1082.2 L934.3 1078.6 L935.7 1075.6 L937.1 1072.0 L938.4 1068.0 L939.8 1065.8 L941.2 1064.2 L942.6 1063.7 L944.0 1058.0 L945.4 1052.1 L946.8 1048.6 L948.2 1045.1 L949.6 1041.0 L951.0 1038.2 L952.3 1034.6 L953.7 1031.7 L955.1 1027.4 L956.5 1025.3 L957.9 1023.2 L959.3 1021.5 L960.7 1017.1 L962.1 1014.9 L963.5 1012.4 L964.9 1010.9 L966.2 1009.1 L967.6 1007.2 L969.0 1003.5 L970.4 1002.8 L971.8 999.4 L973.2 996.8 L974.6 995.4 L976.0 993.0 L977.4 990.8 L978.7 991.2 L980.1 989.2 L981.5 987.9 L982.9 986.2 L984.3 984.2 L985.7 983.2 L987.1 981.8 L988.5 980.1 L989.9 980.5 L991.3 979.5 L992.6 978.3 L994.0 975.3 L995.4 975.8 L996.8 974.4 L998.2 972.8 L999.6 974.1 L1001.0 973.7 L1002.4 972.2 L1003.8 971.0 L1005.2 969.6 L1006.5 969.7 L1007.9 967.2 L1009.3 967.0 L1010.7 965.9 L1012.1 967.1 L1013.5 966.4 L1014.9 964.6 L1016.3 964.7 L1017.7 962.4 L1019.0 962.4 L1020.4 963.5 L1021.8 963.0 L1023.2 962.1 L1024.6 960.5 L1026.0 960.7 L1027.4 961.6 L1028.8 961.9 L1030.2 959.5 L1031.6 957.3 L1032.9 959.0 L1034.3 958.5 L1035.7 960.5 L1037.1 959.9 L1038.5 962.3 L1039.9 962.2 L1041.3 964.8 L1042.7 966.3 L1044.1 965.3 L1045.5 968.0 L1046.8 967.0 L1048.2 967.5 L1049.6 970.2 L1051.0 971.4 L1052.4 971.7 L1053.8 972.5 L1055.2 975.5 L1056.6 975.0 L1058.0 977.3 L1059.3 978.7 L1060.7 979.1 L1062.1 979.9 L1063.5 981.1 L1064.9 981.3 L1066.3 983.0 L1067.7 984.6 L1069.1 985.4 L1070.5 986.3 L1071.9 986.4 L1073.2 988.6 L1074.6 988.4 L1076.0 989.7 L1077.4 990.0 L1078.8 992.2 L1080.2 993.7 L1081.6 994.8 L1083.0 994.6 L1084.4 994.4 L1085.8 997.1 L1087.1 997.7 L1088.5 997.6 L1089.9 999.6 L1091.3 999.3 L1092.7 1002.3 L1094.1 1001.1 L1095.5 1003.5 L1096.9 1002.8 L1098.3 1004.2 L1099.6 1005.2 L1101.0 1007.2 L1102.4 1008.7 L1103.8 1009.8 L1105.2 1009.5 L1106.6 1011.8 L1108.0 1013.9 L1109.4 1013.5 L1110.8 1014.6 L1112.2 1015.8 L1113.5 1018.1 L1114.9 1019.0 L1116.3 1018.7 L1117.7 1020.2 L1119.1 1021.1 L1120.5 1023.8 L1121.9 1024.0 L1123.3 1026.0 L1124.7 1027.3 L1126.1 1028.9 L1127.4 1044.6 L1128.8 1045.0 L1130.2 1044.7 L1131.6 1045.8 L1133.0 1046.6 L1134.4 1047.4 L1135.8 1048.3 L1137.2 1048.1 L1138.6 1048.2 L1139.9 1049.4" fill="none" stroke="#0000FF" stroke-width="1.6" stroke-linejoin="round"/>
<path d="M764.7 1100.8 L766.1 1100.8 L767.5 1100.8 L768.9 1100.8 L770.3 1100.8 L771.7 1100.8 L773.1 1100.8 L774.5 1100.8 L775.9 1100.8 L777.2 1100.8 L778.6 1100.8 L780.0 1100.8 L781.4 1100.8 L782.8 1100.8 L784.2 1100.8 L785.6 1100.8 L787.0 1100.8 L788.4 1100.8 L789.8 1100.8 L791.1 1100.8 L792.5 1100.8 L793.9 1100.8 L795.3 1100.8 L796.7 1100.8 L798.1 1100.8 L799.5 1100.8 L800.9 1100.8 L802.3 1100.8 L803.7 1100.8 L805.0 1100.8 L806.4 1100.8 L807.8 1100.8 L809.2 1100.8 L810.6 1100.8 L812.0 1100.8 L813.4 1100.8 L814.8 1100.8 L816.2 1100.8 L817.5 1100.8 L818.9 1100.8 L820.3 1100.8 L821.7 1100.8 L823.1 1100.8 L824.5 1100.8 L825.9 1100.8 L827.3 1100.8 L828.7 1100.8 L830.1 1100.8 L831.4 1100.8 L832.8 1100.8 L834.2 1100.8 L835.6 1100.8 L837.0 1100.8 L838.4 1100.8 L839.8 1100.8 L841.2 1100.8 L842.6 1100.8 L844.0 1100.8 L845.3 1100.8 L846.7 1100.8 L848.1 1100.8 L849.5 1100.8 L850.9 1100.8 L852.3 1100.8 L853.7 1100.8 L855.1 1100.8 L856.5 1100.8 L857.8 1100.8 L859.2 1100.8 L860.6 1100.8 L862.0 1100.8 L863.4 1100.8 L864.8 1100.8 L866.2 1100.8 L867.6 1100.8 L869.0 1100.8 L870.4 1100.8 L871.7 1100.8 L873.1 1100.8 L874.5 1100.8 L875.9 1100.8 L877.3 1100.8 L878.7 1100.8 L880.1 1100.8 L881.5 1100.8 L882.9 1100.8 L884.3 1100.8 L885.6 1100.8 L887.0 1100.8 L888.4 1100.8 L889.8 1100.8 L891.2 1100.8 L892.6 1100.8 L894.0 1100.8 L895.4 1100.8 L896.8 1100.8 L898.1 1100.8 L899.5 1100.8 L900.9 1100.8 L902.3 1100.8 L903.7 1100.8 L905.1 1100.8 L906.5 1100.8 L907.9 1100.8 L909.3 1100.8 L910.7 1100.8 L912.0 1100.8 L913.4 1100.8 L914.8 1100.8 L916.2 1100.8 L917.6 1100.8 L919.0 1100.8 L920.4 1100.8 L921.8 1100.8 L923.2 1100.8 L924.6 1100.8 L925.9 1100.8 L927.3 1099.5 L928.7 1098.2 L930.1 1094.9 L931.5 1090.8 L932.9 1088.7 L934.3 1085.4 L935.7 1081.8 L937.1 1078.4 L938.4 1075.0 L939.8 1071.5 L941.2 1068.1 L942.6 1065.9 L944.0 1065.6 L945.4 1062.6 L946.8 1057.8 L948.2 1051.9 L949.6 1046.9 L951.0 1043.5 L952.3 1038.2 L953.7 1033.5 L955.1 1030.1 L956.5 1027.7 L957.9 1025.5 L959.3 1022.8 L960.7 1021.1 L962.1 1017.3 L963.5 1016.9 L964.9 1013.6 L966.2 1010.4 L967.6 1007.6 L969.0 1007.2 L970.4 1004.0 L971.8 1002.0 L973.2 999.1 L974.6 996.6 L976.0 996.9 L977.4 994.1 L978.7 992.2 L980.1 991.9 L981.5 990.4 L982.9 987.7 L984.3 986.0 L985.7 986.8 L987.1 982.9 L988.5 984.2 L989.9 981.6 L991.3 981.8 L992.6 979.9 L994.0 978.6 L995.4 977.5 L996.8 976.6 L998.2 974.4 L999.6 973.6 L1001.0 974.9 L1002.4 972.6 L1003.8 971.8 L1005.2 970.3 L1006.5 970.3 L1007.9 969.0 L1009.3 969.4 L1010.7 967.2 L1012.1 967.3 L1013.5 967.4 L1014.9 966.7 L1016.3 964.8 L1017.7 963.9 L1019.0 963.3 L1020.4 964.8 L1021.8 964.4 L1023.2 962.0 L1024.6 962.8 L1026.0 960.6 L1027.4 961.7 L1028.8 961.8 L1030.2 961.2 L1031.6 960.3 L1032.9 959.1 L1034.3 960.0 L1035.7 959.6 L1037.1 962.2 L1038.5 963.1 L1039.9 962.1 L1041.3 963.9 L1042.7 965.0 L1044.1 964.3 L1045.5 967.7 L1046.8 968.8 L1048.2 968.9 L1049.6 969.7 L1051.0 969.0 L1052.4 970.6 L1053.8 972.2 L1055.2 974.7 L1056.6 974.1 L1058.0 976.5 L1059.3 977.4 L1060.7 979.5 L1062.1 978.3 L1063.5 980.9 L1064.9 981.3 L1066.3 983.8 L1067.7 983.0 L1069.1 986.1 L1070.5 987.2 L1071.9 986.3 L1073.2 989.1 L1074.6 988.9 L1076.0 989.2 L1077.4 990.7 L1078.8 990.8 L1080.2 992.4 L1081.6 993.2 L1083.0 993.8 L1084.4 996.6 L1085.8 995.2 L1087.1 996.9 L1088.5 997.3 L1089.9 1000.2 L1091.3 999.8 L1092.7 1001.6 L1094.1 1002.3 L1095.5 1003.0 L1096.9 1002.3 L1098.3 1003.3 L1099.6 1004.6 L1101.0 1007.0 L1102.4 1005.5 L1103.8 1006.2 L1105.2 1008.8 L1106.6 1008.9 L1108.0 1009.1 L1109.4 1010.9 L1110.8 1009.7 L1112.2 1010.4 L1113.5 1012.3 L1114.9 1013.3 L1116.3 1014.4 L1117.7 1016.4 L1119.1 1015.4 L1120.5 1016.7 L1121.9 1016.9 L1123.3 1019.4 L1124.7 1020.6 L1126.1 1020.2 L1127.4 1036.1 L1128.8 1036.9 L1130.2 1037.1 L1131.6 1039.7 L1133.0 1039.2 L1134.4 1039.3 L1135.8 1041.8 L1137.2 1041.4 L1138.6 1042.9 L1139.9 1041.9" fill="none" stroke="#0000FF" stroke-width="1.6" stroke-linejoin="round" stroke-dasharray="6 3.8"/>
<path d="M723.0 739.1 L730.0 670.6 L736.9 662.8 L743.9 685.5 L750.8 724.4 L757.8 776.2 L764.7 828.0 L771.7 873.3 L778.6 921.4 L785.6 954.8 L792.5 976.9 L799.5 990.8 L806.4 999.5 L813.4 1000.4 L820.3 997.3 L827.3 988.1 L834.2 975.1 L841.2 960.2 L848.1 947.3 L855.1 934.3 L862.0 922.3 L869.0 914.9 L875.9 910.2 L882.9 906.6 L889.8 904.1 L896.8 904.3 L903.7 906.2 L910.7 921.4 L917.6 938.1 L924.6 956.6 L931.5 971.3 L938.4 983.7 L945.4 996.5 L952.3 1007.7 L959.3 1016.1 L966.2 1026.2 L973.2 1032.7 L980.1 1041.1 L987.1 1047.6 L994.0 1053.7 L1001.0 1059.5 L1007.9 1066.0 L1014.9 1071.6 L1021.8 1077.1 L1028.8 1081.8 L1035.7 1085.4 L1042.7 1089.2 L1049.6 1091.9 L1056.6 1094.4 L1063.5 1096.2 L1070.5 1098.1" fill="none" stroke="#FF0000" stroke-width="1.6" stroke-linejoin="round"/>
<path d="M723.0 786.3 L730.0 679.9 L736.9 662.8 L743.9 679.1 L750.8 717.5 L757.8 769.5 L764.7 822.9 L771.7 869.1 L778.6 918.6 L785.6 954.8 L792.5 976.9 L799.5 994.7 L806.4 1005.1 L813.4 1006.6 L820.3 1003.2 L827.3 994.1 L834.2 979.7 L841.2 964.1 L848.1 947.3 L855.1 934.3 L862.0 922.3 L869.0 910.8 L875.9 904.3 L882.9 901.0 L889.8 898.8 L896.8 898.8 L903.7 901.7 L910.7 914.0 L917.6 930.9 L924.6 949.8 L931.5 965.4 L938.4 978.4 L945.4 992.1 L952.3 1003.8 L959.3 1012.9 L966.2 1022.7 L973.2 1030.5 L980.1 1039.0 L987.1 1045.9 L994.0 1052.4 L1001.0 1058.2 L1007.9 1064.7 L1014.9 1070.3 L1021.8 1077.1 L1028.8 1081.8 L1035.7 1085.4 L1042.7 1089.2 L1049.6 1091.9 L1056.6 1094.4 L1063.5 1096.2 L1070.5 1098.1" fill="none" stroke="#FF0000" stroke-width="1.6" stroke-linejoin="round" stroke-dasharray="6 3.8"/>
</g>
<text transform="translate(792.53,1140.60) scale(1.250,1)" font-size="30.5" text-anchor="middle" font-weight="normal" fill="#2a2a2a" stroke="#2a2a2a" stroke-width="0.3">300</text>
<text transform="translate(931.50,1140.60) scale(1.250,1)" font-size="30.5" text-anchor="middle" font-weight="normal" fill="#2a2a2a" stroke="#2a2a2a" stroke-width="0.3">400</text>
<text transform="translate(1070.47,1140.60) scale(1.250,1)" font-size="30.5" text-anchor="middle" font-weight="normal" fill="#2a2a2a" stroke="#2a2a2a" stroke-width="0.3">500</text>
<text transform="translate(711.45,1112.90) scale(1.250,1)" font-size="30.5" text-anchor="end" font-weight="normal" fill="#2a2a2a" stroke="#2a2a2a" stroke-width="0.3">0</text>
<text transform="translate(711.45,1047.82) scale(1.250,1)" font-size="30.5" text-anchor="end" font-weight="normal" fill="#2a2a2a" stroke="#2a2a2a" stroke-width="0.3">0.05</text>
<text transform="translate(711.45,982.74) scale(1.250,1)" font-size="30.5" text-anchor="end" font-weight="normal" fill="#2a2a2a" stroke="#2a2a2a" stroke-width="0.3">0.1</text>
<text transform="translate(711.45,917.66) scale(1.250,1)" font-size="30.5" text-anchor="end" font-weight="normal" fill="#2a2a2a" stroke="#2a2a2a" stroke-width="0.3">0.15</text>
<text transform="translate(711.45,852.57) scale(1.250,1)" font-size="30.5" text-anchor="end" font-weight="normal" fill="#2a2a2a" stroke="#2a2a2a" stroke-width="0.3">0.2</text>
<text transform="translate(711.45,787.49) scale(1.250,1)" font-size="30.5" text-anchor="end" font-weight="normal" fill="#2a2a2a" stroke="#2a2a2a" stroke-width="0.3">0.25</text>
<text transform="translate(711.45,722.41) scale(1.250,1)" font-size="30.5" text-anchor="end" font-weight="normal" fill="#2a2a2a" stroke="#2a2a2a" stroke-width="0.3">0.3</text>
<text transform="translate(932.50,1181.30) scale(1.210,1)" font-size="34.2" text-anchor="middle" font-weight="normal" fill="#2a2a2a" stroke="#2a2a2a" stroke-width="0.3">Wavelength (nm)</text>
<text transform="translate(619.10,881.00) rotate(-90) scale(1,1.263)" font-size="34.3" text-anchor="middle" font-weight="normal" fill="#2a2a2a" stroke="#2a2a2a" stroke-width="0.3">Loadings</text>
<clipPath id="cb2"><rect x="1321.0" y="659.9" width="418.9" height="441.9"/></clipPath>
<path d="M1391.53 1100.80 v-5.4 M1391.53 660.85 v5.4M1530.50 1100.80 v-5.4 M1530.50 660.85 v5.4M1669.47 1100.80 v-5.4 M1669.47 660.85 v5.4M1322.05 979.90 h5.4 M1738.95 979.90 h-5.4M1322.05 857.99 h5.4 M1738.95 857.99 h-5.4M1322.05 736.09 h5.4 M1738.95 736.09 h-5.4" stroke="#2a2a2a" stroke-width="1.5" fill="none"/>
<rect x="1322.05" y="660.85" width="416.90" height="439.95" fill="none" stroke="#2a2a2a" stroke-width="1.8"/>
<g clip-path="url(#cb2)">
<path d="M1363.7 1100.8 L1365.1 1088.4 L1366.5 1099.6 L1367.9 1096.2 L1369.3 1093.1 L1370.7 1100.2 L1372.1 1096.2 L1373.5 1092.4 L1374.9 1099.6 L1376.2 1090.7 L1377.6 1087.6 L1379.0 1098.4 L1380.4 1090.2 L1381.8 1081.6 L1383.2 1094.8 L1384.6 1094.2 L1386.0 1082.8 L1387.4 1078.1 L1388.8 1077.2 L1390.1 1074.3 L1391.5 1073.8 L1392.9 1072.2 L1394.3 1068.4 L1395.7 1059.7 L1397.1 1053.8 L1398.5 1046.1 L1399.9 1040.2 L1401.3 1030.9 L1402.7 1030.8 L1404.0 1029.6 L1405.4 1029.1 L1406.8 1021.4 L1408.2 1015.9 L1409.6 1010.8 L1411.0 1007.1 L1412.4 1001.7 L1413.8 997.2 L1415.2 991.8 L1416.5 986.7 L1417.9 982.1 L1419.3 981.0 L1420.7 970.5 L1422.1 963.7 L1423.5 955.3 L1424.9 951.1 L1426.3 949.6 L1427.7 950.9 L1429.1 947.8 L1430.4 948.3 L1431.8 943.6 L1433.2 944.9 L1434.6 939.7 L1436.0 942.1 L1437.4 939.1 L1438.8 934.9 L1440.2 933.1 L1441.6 929.4 L1443.0 926.9 L1444.3 923.3 L1445.7 925.9 L1447.1 927.1 L1448.5 925.5 L1449.9 927.6 L1451.3 933.0 L1452.7 930.2 L1454.1 934.3 L1455.5 936.4 L1456.8 934.9 L1458.2 938.7 L1459.6 942.1 L1461.0 945.0 L1462.4 945.6 L1463.8 945.1 L1465.2 949.2 L1466.6 947.0 L1468.0 949.4 L1469.4 955.8 L1470.7 955.7 L1472.1 961.2 L1473.5 963.6 L1474.9 968.1 L1476.3 967.0 L1477.7 970.3 L1479.1 973.1 L1480.5 978.8 L1481.9 978.1 L1483.3 984.3 L1484.6 985.0 L1486.0 992.5 L1487.4 994.6 L1488.8 999.3 L1490.2 998.9 L1491.6 1004.4 L1493.0 1003.3 L1494.4 1006.0 L1495.8 1009.0 L1497.1 1012.9 L1498.5 1011.7 L1499.9 1017.4 L1501.3 1018.0 L1502.7 1019.0 L1504.1 1024.0 L1505.5 1025.6 L1506.9 1025.3 L1508.3 1028.6 L1509.7 1031.5 L1511.0 1033.0 L1512.4 1033.0 L1513.8 1034.1 L1515.2 1036.6 L1516.6 1039.8 L1518.0 1039.7 L1519.4 1042.3 L1520.8 1044.5 L1522.2 1045.0 L1523.6 1047.8 L1524.9 1048.7 L1526.3 1051.8 L1527.7 1052.6 L1529.1 1055.0 L1530.5 1056.2 L1531.9 1058.7 L1533.3 1060.4 L1534.7 1060.1 L1536.1 1063.4 L1537.4 1065.5 L1538.8 1064.3 L1540.2 1065.6 L1541.6 1067.9 L1543.0 1070.0 L1544.4 1069.5 L1545.8 1073.0 L1547.2 1072.0 L1548.6 1075.4 L1550.0 1076.1 L1551.3 1076.8 L1552.7 1077.7 L1554.1 1076.9 L1555.5 1076.9 L1556.9 1078.3 L1558.3 1078.7 L1559.7 1078.3 L1561.1 1078.6 L1562.5 1080.6 L1563.9 1080.6 L1565.2 1080.0 L1566.6 1080.6 L1568.0 1081.4 L1569.4 1080.6 L1570.8 1081.4 L1572.2 1081.4 L1573.6 1080.9 L1575.0 1079.9 L1576.4 1079.5 L1577.7 1080.5 L1579.1 1079.7 L1580.5 1081.7 L1581.9 1082.2 L1583.3 1081.5 L1584.7 1080.6 L1586.1 1080.8 L1587.5 1080.3 L1588.9 1080.8 L1590.3 1080.6 L1591.6 1079.7 L1593.0 1081.1 L1594.4 1079.4 L1595.8 1080.8 L1597.2 1080.7 L1598.6 1079.1 L1600.0 1080.0 L1601.4 1079.8 L1602.8 1079.4 L1604.2 1079.9 L1605.5 1078.8 L1606.9 1079.2 L1608.3 1079.5 L1609.7 1079.2 L1611.1 1079.2 L1612.5 1078.0 L1613.9 1079.1 L1615.3 1078.6 L1616.7 1079.9 L1618.0 1077.7 L1619.4 1078.0 L1620.8 1077.4 L1622.2 1079.2 L1623.6 1077.3 L1625.0 1079.3 L1626.4 1077.8 L1627.8 1079.3 L1629.2 1077.9 L1630.6 1079.3 L1631.9 1078.5 L1633.3 1078.7 L1634.7 1079.2 L1636.1 1077.4 L1637.5 1078.1 L1638.9 1077.0 L1640.3 1077.8 L1641.7 1077.0 L1643.1 1078.5 L1644.5 1078.7 L1645.8 1079.0 L1647.2 1078.8 L1648.6 1077.8 L1650.0 1079.1 L1651.4 1079.6 L1652.8 1079.1 L1654.2 1080.6 L1655.6 1079.0 L1657.0 1080.2 L1658.3 1079.5 L1659.7 1081.4 L1661.1 1081.4 L1662.5 1080.5 L1663.9 1080.8 L1665.3 1081.0 L1666.7 1080.9 L1668.1 1081.0 L1669.5 1081.5 L1670.9 1081.0 L1672.2 1080.5 L1673.6 1080.3 L1675.0 1080.5 L1676.4 1082.4 L1677.8 1081.2 L1679.2 1080.9 L1680.6 1081.6 L1682.0 1082.4 L1683.4 1081.0 L1684.8 1081.2 L1686.1 1080.9 L1687.5 1081.7 L1688.9 1082.6 L1690.3 1081.9 L1691.7 1081.7 L1693.1 1081.1 L1694.5 1081.5 L1695.9 1081.5 L1697.3 1082.6 L1698.6 1080.5 L1700.0 1081.3 L1701.4 1082.0 L1702.8 1082.7 L1704.2 1082.4 L1705.6 1082.6 L1707.0 1082.5 L1708.4 1082.4 L1709.8 1082.7 L1711.2 1082.3 L1712.5 1090.8 L1713.9 1092.5 L1715.3 1091.0 L1716.7 1092.4 L1718.1 1091.8 L1719.5 1091.6 L1720.9 1091.1 L1722.3 1092.2 L1723.7 1089.8 L1725.1 1090.1 L1726.4 1100.8 L1727.8 1100.8 L1729.2 1100.8 L1730.6 1100.8 L1732.0 1100.8 L1733.4 1100.8 L1734.8 1100.8 L1736.2 1100.8 L1737.6 1100.8 L1738.9 1100.8" fill="none" stroke="#0000FF" stroke-width="1.6" stroke-linejoin="round"/>
<path d="M1390.1 1100.8 L1391.5 1097.1 L1392.9 1089.2 L1394.3 1081.7 L1395.7 1074.0 L1397.1 1066.8 L1398.5 1057.6 L1399.9 1049.1 L1401.3 1040.5 L1402.7 1037.1 L1404.0 1034.5 L1405.4 1030.6 L1406.8 1028.8 L1408.2 1020.4 L1409.6 1015.7 L1411.0 1010.2 L1412.4 1003.1 L1413.8 999.0 L1415.2 996.3 L1416.5 992.0 L1417.9 986.6 L1419.3 982.5 L1420.7 975.6 L1422.1 972.2 L1423.5 960.1 L1424.9 957.1 L1426.3 954.5 L1427.7 954.7 L1429.1 951.0 L1430.4 948.0 L1431.8 947.0 L1433.2 943.9 L1434.6 942.6 L1436.0 942.5 L1437.4 943.0 L1438.8 939.3 L1440.2 940.0 L1441.6 939.3 L1443.0 935.1 L1444.3 934.5 L1445.7 932.8 L1447.1 930.3 L1448.5 934.1 L1449.9 932.7 L1451.3 930.0 L1452.7 931.4 L1454.1 932.1 L1455.5 938.6 L1456.8 934.7 L1458.2 936.4 L1459.6 940.9 L1461.0 943.1 L1462.4 944.1 L1463.8 942.3 L1465.2 942.6 L1466.6 945.0 L1468.0 950.1 L1469.4 950.9 L1470.7 955.9 L1472.1 956.1 L1473.5 960.9 L1474.9 963.2 L1476.3 966.2 L1477.7 966.0 L1479.1 966.9 L1480.5 971.6 L1481.9 975.0 L1483.3 977.4 L1484.6 978.7 L1486.0 984.1 L1487.4 989.0 L1488.8 989.2 L1490.2 992.7 L1491.6 998.5 L1493.0 996.9 L1494.4 1002.2 L1495.8 1005.1 L1497.1 1007.5 L1498.5 1008.5 L1499.9 1011.6 L1501.3 1014.8 L1502.7 1014.5 L1504.1 1019.1 L1505.5 1022.0 L1506.9 1022.0 L1508.3 1025.5 L1509.7 1026.6 L1511.0 1029.6 L1512.4 1030.5 L1513.8 1035.0 L1515.2 1036.9 L1516.6 1038.0 L1518.0 1038.6 L1519.4 1042.4 L1520.8 1042.9 L1522.2 1043.7 L1523.6 1044.7 L1524.9 1048.6 L1526.3 1051.0 L1527.7 1050.7 L1529.1 1053.5 L1530.5 1057.2 L1531.9 1057.8 L1533.3 1058.3 L1534.7 1061.4 L1536.1 1063.0 L1537.4 1065.3 L1538.8 1066.5 L1540.2 1067.7 L1541.6 1068.2 L1543.0 1070.8 L1544.4 1071.5 L1545.8 1072.8 L1547.2 1074.1 L1548.6 1076.0 L1550.0 1077.6 L1551.3 1079.4 L1552.7 1081.1 L1554.1 1081.3 L1555.5 1081.5 L1556.9 1082.6 L1558.3 1083.1 L1559.7 1083.7 L1561.1 1083.9 L1562.5 1083.8 L1563.9 1086.4 L1565.2 1086.9 L1566.6 1085.8 L1568.0 1087.4 L1569.4 1086.4 L1570.8 1086.8 L1572.2 1087.8 L1573.6 1086.2 L1575.0 1087.9 L1576.4 1086.8 L1577.7 1087.1 L1579.1 1087.4 L1580.5 1087.1 L1581.9 1088.3 L1583.3 1088.4 L1584.7 1088.3 L1586.1 1086.9 L1587.5 1087.8 L1588.9 1087.8 L1590.3 1085.9 L1591.6 1087.0 L1593.0 1085.0 L1594.4 1085.9 L1595.8 1086.2 L1597.2 1084.6 L1598.6 1085.1 L1600.0 1084.9 L1601.4 1084.4 L1602.8 1082.7 L1604.2 1084.4 L1605.5 1084.5 L1606.9 1082.5 L1608.3 1082.1 L1609.7 1082.1 L1611.1 1081.8 L1612.5 1081.7 L1613.9 1081.8 L1615.3 1082.2 L1616.7 1080.8 L1618.0 1080.7 L1619.4 1082.3 L1620.8 1081.2 L1622.2 1081.2 L1623.6 1080.3 L1625.0 1080.5 L1626.4 1079.6 L1627.8 1078.6 L1629.2 1079.8 L1630.6 1079.7 L1631.9 1078.7 L1633.3 1078.3 L1634.7 1077.8 L1636.1 1078.5 L1637.5 1079.3 L1638.9 1079.4 L1640.3 1078.7 L1641.7 1077.4 L1643.1 1078.9 L1644.5 1079.1 L1645.8 1079.1 L1647.2 1079.7 L1648.6 1079.6 L1650.0 1079.0 L1651.4 1078.0 L1652.8 1078.9 L1654.2 1080.3 L1655.6 1080.4 L1657.0 1080.3 L1658.3 1079.0 L1659.7 1080.7 L1661.1 1079.6 L1662.5 1080.0 L1663.9 1079.3 L1665.3 1080.9 L1666.7 1081.4 L1668.1 1081.2 L1669.5 1080.3 L1670.9 1080.2 L1672.2 1080.0 L1673.6 1081.2 L1675.0 1079.5 L1676.4 1081.5 L1677.8 1080.7 L1679.2 1080.9 L1680.6 1079.8 L1682.0 1081.1 L1683.4 1081.4 L1684.8 1080.3 L1686.1 1081.8 L1687.5 1079.5 L1688.9 1081.3 L1690.3 1080.8 L1691.7 1080.0 L1693.1 1079.9 L1694.5 1081.2 L1695.9 1081.8 L1697.3 1079.8 L1698.6 1080.2 L1700.0 1080.9 L1701.4 1079.7 L1702.8 1081.1 L1704.2 1080.0 L1705.6 1079.5 L1707.0 1081.2 L1708.4 1079.8 L1709.8 1079.6 L1711.2 1079.5 L1712.5 1072.7 L1713.9 1072.1 L1715.3 1069.0 L1716.7 1071.5 L1718.1 1070.9 L1719.5 1072.7 L1720.9 1071.9 L1722.3 1070.5 L1723.7 1070.7 L1725.1 1070.1 L1726.4 1100.8 L1727.8 1100.8 L1729.2 1100.8 L1730.6 1100.8 L1732.0 1097.1 L1733.4 1100.2 L1734.8 1099.3 L1736.2 1098.4 L1737.6 1097.1 L1738.9 1095.9" fill="none" stroke="#0000FF" stroke-width="1.6" stroke-linejoin="round" stroke-dasharray="6 3.8"/>
<path d="M1322.0 759.3 L1329.0 756.1 L1335.9 754.0 L1342.9 734.5 L1349.8 700.1 L1356.8 669.1 L1363.7 661.1 L1370.7 684.0 L1377.6 744.6 L1384.6 810.3 L1391.5 875.3 L1398.5 935.5 L1405.4 987.3 L1412.4 1020.7 L1419.3 1063.3 L1426.3 1100.8 L1433.2 1100.8 L1440.2 1100.8 L1447.1 1100.8 L1454.1 1100.8 L1461.0 1100.8 L1468.0 1100.8 L1474.9 1100.8 L1481.9 1100.8 L1488.8 1100.8 L1495.8 1100.8 L1502.7 1100.8 L1509.7 1100.8 L1516.6 1100.8 L1523.6 1100.8 L1530.5 1100.8 L1537.4 1100.8 L1544.4 1100.8 L1551.3 1100.8 L1558.3 1100.8 L1565.2 1100.8 L1572.2 1100.8 L1579.1 1100.8 L1586.1 1100.8 L1593.0 1100.8 L1600.0 1100.8 L1606.9 1100.8 L1613.9 1100.8 L1620.8 1100.8 L1627.8 1100.8 L1634.7 1100.8 L1641.7 1100.8 L1648.6 1100.8 L1655.6 1100.8 L1662.5 1100.8 L1669.5 1100.8" fill="none" stroke="#FF0000" stroke-width="1.6" stroke-linejoin="round"/>
<path d="M1322.0 807.9 L1329.0 782.3 L1335.9 764.7 L1342.9 737.9 L1349.8 702.2 L1356.8 672.6 L1363.7 661.1 L1370.7 677.2 L1377.6 736.4 L1384.6 805.2 L1391.5 861.9 L1398.5 909.4 L1405.4 957.0 L1412.4 999.0 L1419.3 1030.7 L1426.3 1066.1 L1433.2 1099.0 L1440.2 1100.8 L1447.1 1100.8 L1454.1 1100.8 L1461.0 1100.8 L1468.0 1100.8 L1474.9 1100.8 L1481.9 1100.8 L1488.8 1100.8 L1495.8 1100.8 L1502.7 1100.8 L1509.7 1100.8 L1516.6 1100.8 L1523.6 1100.8 L1530.5 1100.8 L1537.4 1100.8 L1544.4 1100.8 L1551.3 1100.8 L1558.3 1100.8 L1565.2 1100.8 L1572.2 1100.8 L1579.1 1100.8 L1586.1 1100.8 L1593.0 1100.8 L1600.0 1100.8 L1606.9 1100.8 L1613.9 1100.8 L1620.8 1100.8 L1627.8 1100.8 L1634.7 1100.8 L1641.7 1100.8 L1648.6 1100.8 L1655.6 1100.8 L1662.5 1100.8 L1669.5 1100.8" fill="none" stroke="#FF0000" stroke-width="1.6" stroke-linejoin="round" stroke-dasharray="6 3.8"/>
</g>
<text transform="translate(1391.53,1140.60) scale(1.250,1)" font-size="30.5" text-anchor="middle" font-weight="normal" fill="#2a2a2a" stroke="#2a2a2a" stroke-width="0.3">300</text>
<text transform="translate(1530.50,1140.60) scale(1.250,1)" font-size="30.5" text-anchor="middle" font-weight="normal" fill="#2a2a2a" stroke="#2a2a2a" stroke-width="0.3">400</text>
<text transform="translate(1669.47,1140.60) scale(1.250,1)" font-size="30.5" text-anchor="middle" font-weight="normal" fill="#2a2a2a" stroke="#2a2a2a" stroke-width="0.3">500</text>
<text transform="translate(1310.45,1112.90) scale(1.250,1)" font-size="30.5" text-anchor="end" font-weight="normal" fill="#2a2a2a" stroke="#2a2a2a" stroke-width="0.3">0</text>
<text transform="translate(1310.45,991.00) scale(1.250,1)" font-size="30.5" text-anchor="end" font-weight="normal" fill="#2a2a2a" stroke="#2a2a2a" stroke-width="0.3">0.1</text>
<text transform="translate(1310.45,869.09) scale(1.250,1)" font-size="30.5" text-anchor="end" font-weight="normal" fill="#2a2a2a" stroke="#2a2a2a" stroke-width="0.3">0.2</text>
<text transform="translate(1310.45,747.19) scale(1.250,1)" font-size="30.5" text-anchor="end" font-weight="normal" fill="#2a2a2a" stroke="#2a2a2a" stroke-width="0.3">0.3</text>
<text transform="translate(1531.50,1181.30) scale(1.210,1)" font-size="34.2" text-anchor="middle" font-weight="normal" fill="#2a2a2a" stroke="#2a2a2a" stroke-width="0.3">Wavelength (nm)</text>
<text transform="translate(1239.70,881.00) rotate(-90) scale(1,1.263)" font-size="34.3" text-anchor="middle" font-weight="normal" fill="#2a2a2a" stroke="#2a2a2a" stroke-width="0.3">Loadings</text>
<text transform="translate(1.20,28.15) scale(0.960,1)" font-size="30.3" text-anchor="start" font-weight="bold" fill="#000">A</text>
<text transform="translate(605.00,24.60) scale(0.960,1)" font-size="30.3" text-anchor="start" font-weight="bold" fill="#000">B</text>
<text transform="translate(1204.20,28.50) scale(0.960,1)" font-size="30.3" text-anchor="start" font-weight="bold" fill="#000">C</text>
<text transform="translate(5.00,665.90) scale(0.960,1)" font-size="30.3" text-anchor="start" font-weight="bold" fill="#000">D</text>
<text transform="translate(608.10,665.80) scale(0.960,1)" font-size="30.3" text-anchor="start" font-weight="bold" fill="#000">E</text>
<text transform="translate(1206.60,665.80) scale(0.960,1)" font-size="30.3" text-anchor="start" font-weight="bold" fill="#000">F</text>
</svg></body></html>
